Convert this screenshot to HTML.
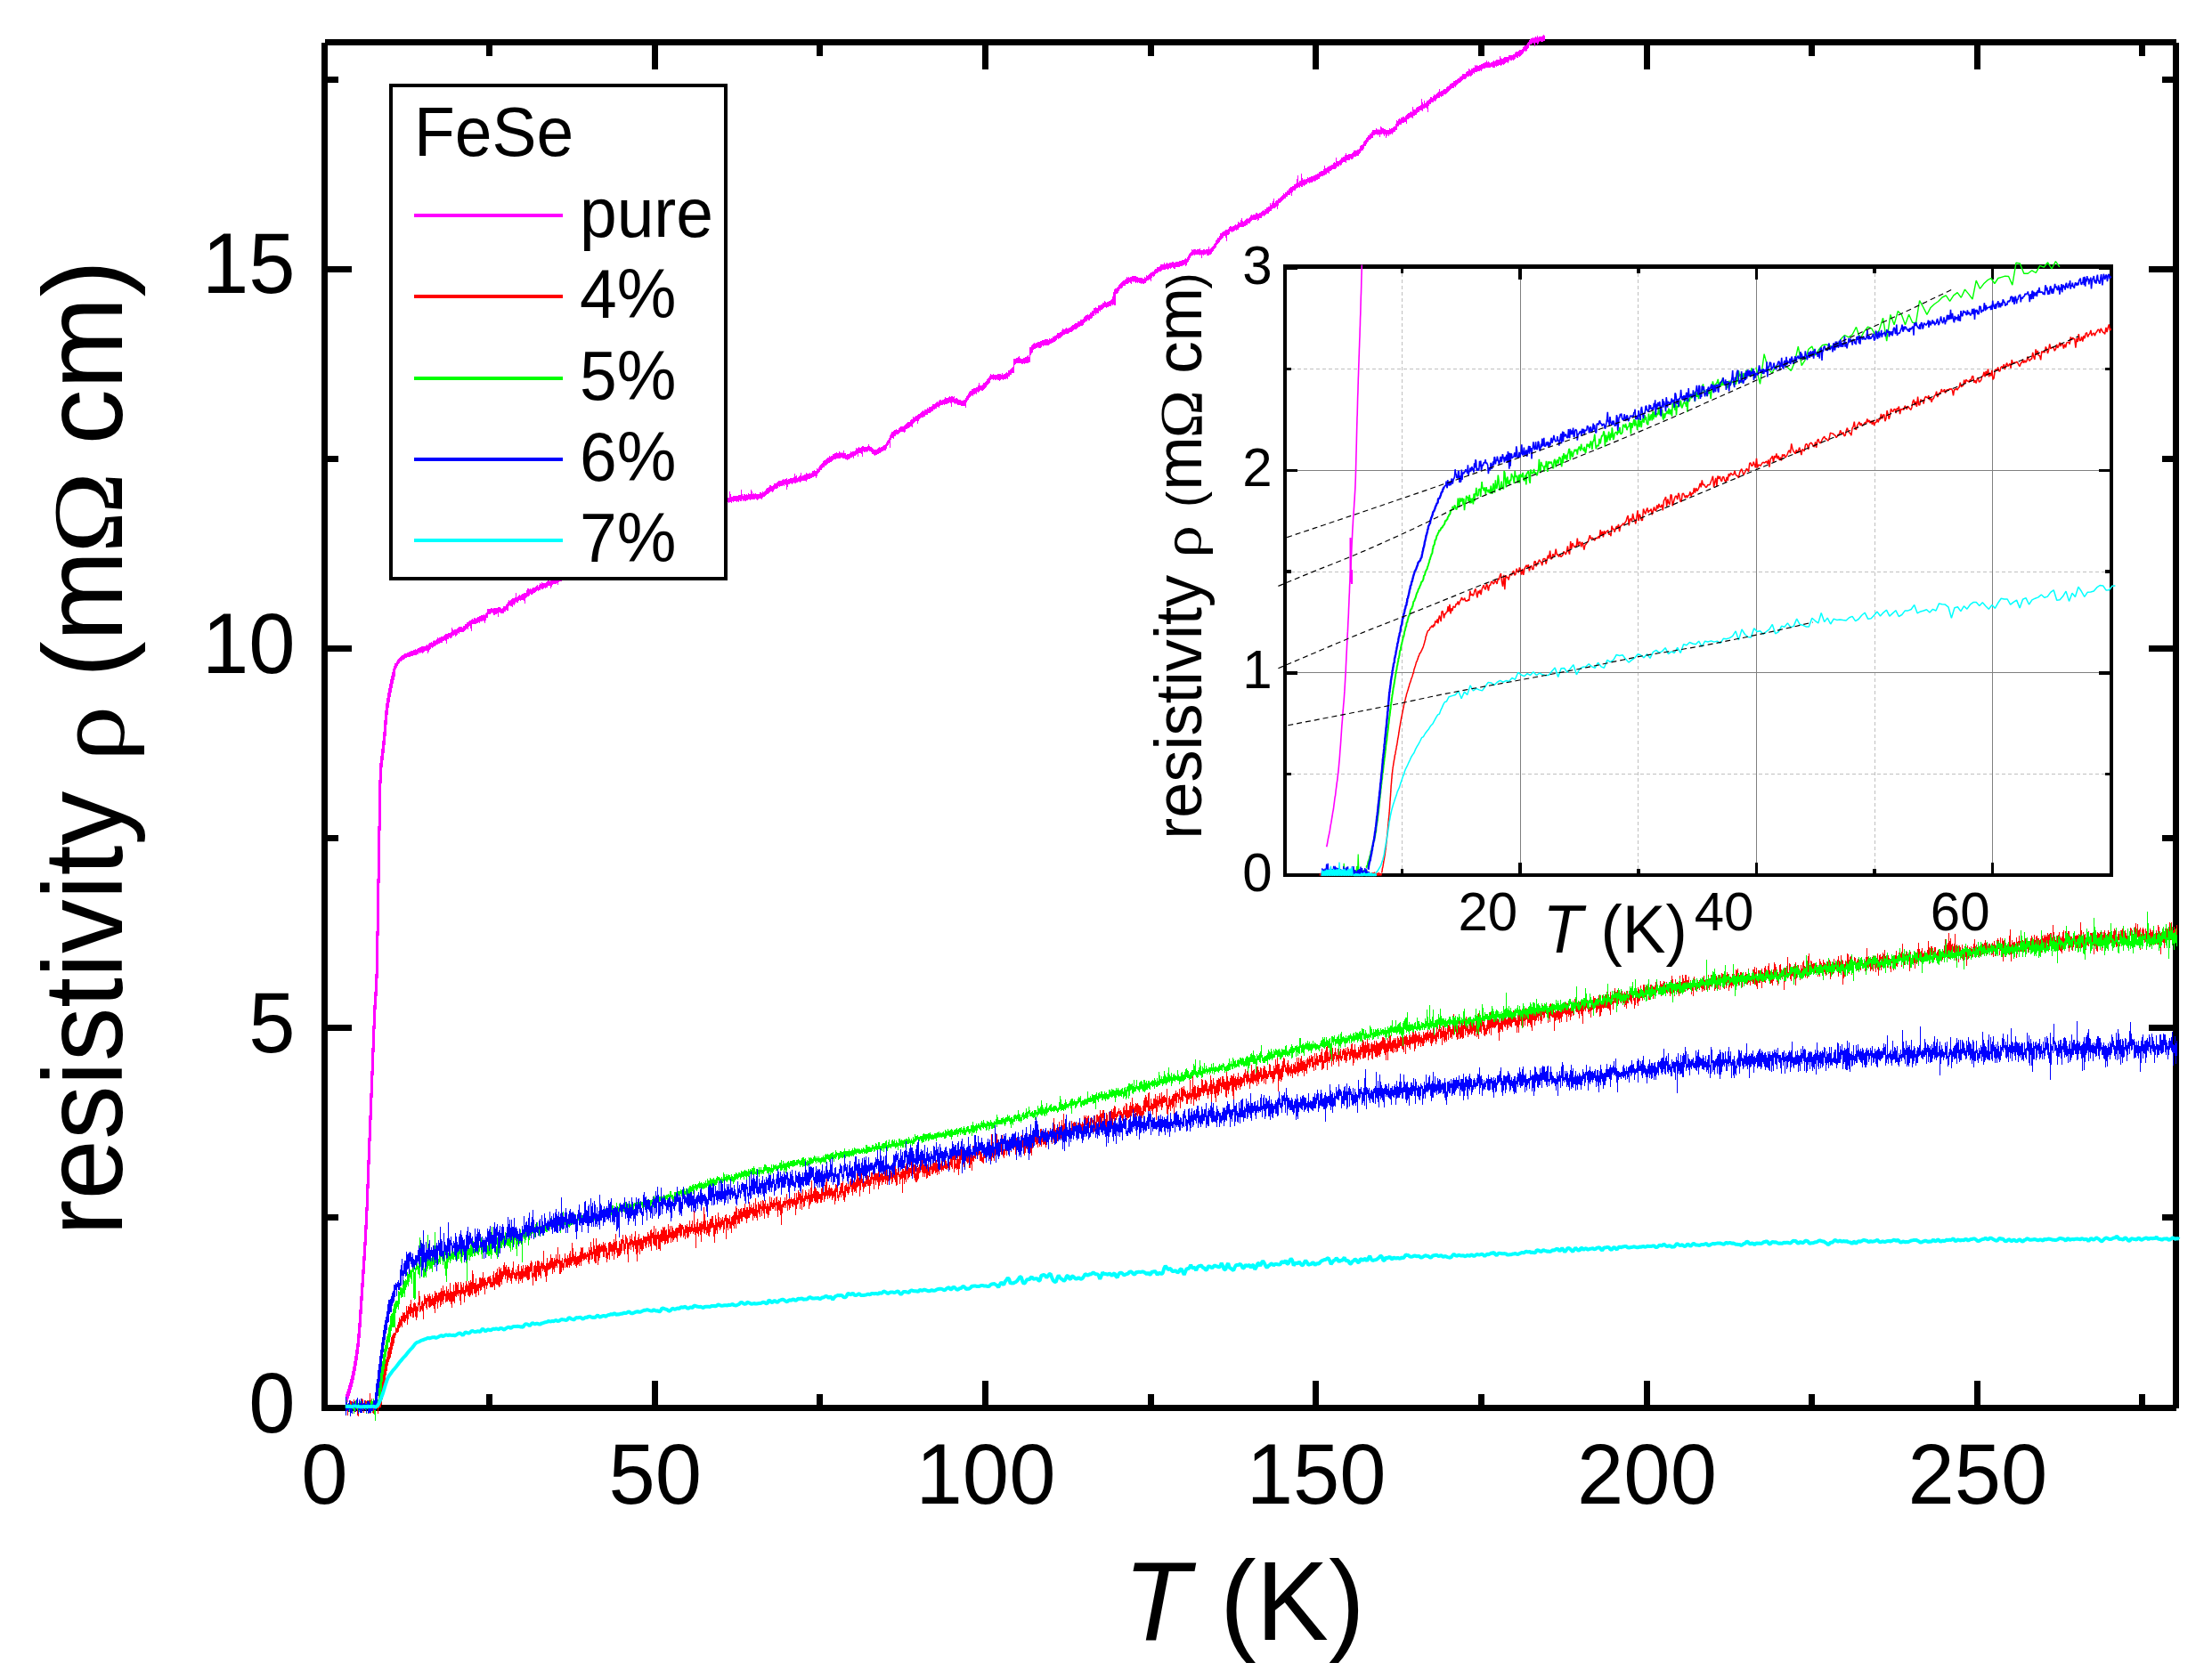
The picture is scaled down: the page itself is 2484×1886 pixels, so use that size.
<!DOCTYPE html>
<html lang="en"><head><meta charset="utf-8"><title>FeSe resistivity</title>
<style>html,body{margin:0;padding:0;background:#fff}svg{display:block}text{font-family:'Liberation Sans', Arial, Helvetica, sans-serif;fill:#000}</style></head>
<body>
<svg width="2484" height="1886" viewBox="0 0 2484 1886">
<rect x="0" y="0" width="2484" height="1886" fill="#fff"/>
<g id="main-axes" stroke="#000" stroke-width="7" fill="none" shape-rendering="crispEdges">
<path d="M364.5 47.5 H2443.5"/><path d="M361 1581.5 H2443.5"/><path d="M364.5 47.5 V1581.5"/><path d="M2443.5 47.5 V1581.5"/>
<path d="M549.6 1581.5 v-15.5M549.6 47.5 v15.5M735.2 1581.5 v-30.5M735.2 47.5 v30.5M920.9 1581.5 v-15.5M920.9 47.5 v15.5M1106.5 1581.5 v-30.5M1106.5 47.5 v30.5M1292.1 1581.5 v-15.5M1292.1 47.5 v15.5M1477.8 1581.5 v-30.5M1477.8 47.5 v30.5M1663.4 1581.5 v-15.5M1663.4 47.5 v15.5M1849 1581.5 v-30.5M1849 47.5 v30.5M2034.6 1581.5 v-15.5M2034.6 47.5 v15.5M2220.2 1581.5 v-30.5M2220.2 47.5 v30.5M2405.9 1581.5 v-15.5M2405.9 47.5 v15.5M364.5 1367.9 h15.5M2443.5 1367.9 h-15.5M364.5 1154.9 h30.5M2443.5 1154.9 h-30.5M364.5 941.8 h15.5M2443.5 941.8 h-15.5M364.5 728.8 h30.5M2443.5 728.8 h-30.5M364.5 515.7 h15.5M2443.5 515.7 h-15.5M364.5 302.7 h30.5M2443.5 302.7 h-30.5M364.5 89.6 h15.5M2443.5 89.6 h-15.5"/>
</g>
<g id="main-ticklabels">
<text transform="translate(364.5 1688.5) scale(0.9709 1)" font-size="96.8" text-anchor="middle">0</text><text transform="translate(735.8 1688.5) scale(0.9709 1)" font-size="96.8" text-anchor="middle">50</text><text transform="translate(1107 1688.5) scale(0.9709 1)" font-size="96.8" text-anchor="middle">100</text><text transform="translate(1478.2 1688.5) scale(0.9709 1)" font-size="96.8" text-anchor="middle">150</text><text transform="translate(1849.5 1688.5) scale(0.9709 1)" font-size="96.8" text-anchor="middle">200</text><text transform="translate(2220.8 1688.5) scale(0.9709 1)" font-size="96.8" text-anchor="middle">250</text>
<text transform="translate(331.5 1609) scale(0.9709 1)" font-size="96.8" text-anchor="end">0</text><text transform="translate(331.5 1182.2) scale(0.9709 1)" font-size="96.8" text-anchor="end">5</text><text transform="translate(331.5 755.5) scale(0.9709 1)" font-size="96.8" text-anchor="end">10</text><text transform="translate(331.5 328.7) scale(0.9709 1)" font-size="96.8" text-anchor="end">15</text>
</g>
<g id="main-titles">
<text transform="translate(1397 1842) scale(0.9709 1)" font-size="125.7" text-anchor="middle"><tspan font-style="italic">T</tspan> (K)</text>
<text transform="translate(137 1388) rotate(-90) scale(0.9660 1)" font-size="125.7">resistivity</text>
<text transform="translate(138.5 855.8) rotate(-90) scale(1.1500 1)" font-size="110" style="font-family:'Liberation Serif', 'DejaVu Serif', serif">ρ</text>
<text transform="translate(137 761) rotate(-90) scale(0.9709 1)" font-size="125.7">(m</text>
<text transform="translate(137 621.6) rotate(-90) scale(1.0900 1)" font-size="113" style="font-family:'Liberation Serif', 'DejaVu Serif', serif">Ω</text>
<text transform="translate(137 499.5) rotate(-90) scale(0.9903 1)" font-size="125.7">cm)</text>
</g>
<g id="main-curves">
<g shape-rendering="crispEdges" stroke="none">
<path fill="#f0f" d="M388 1566h1v-3h1v-3h1v-4h1v-3h1v-4h1v-4h1v-5h1v-5h1v-6h1v-6h1v-7h1v-7h1v-11h1v-12h1v-15h1v-15h1v-15h1v-15h1v-15h1v-16h1v-19h1v-20h1v-26h1v-27h1v-25h1v-25h1v-25h1v-25h1v-26h1v-25h1v-23h1v-15h1v-20h1v-48h1v-59h1v-59h1v-52h1v-19h1v-8h1v-8h1v-9h1v-10h1v-13h1v-11h1v-8h1v-6h1v-6h1v-5h1v-5h1v-5h1v-4h1v-4h1v-4h1v-3h1v-3h2v-2h1v-2h1v-1h1v-1h1v-1h1v-1h1v-1h2v-1h1v-1h3v-1h2v-1h2v-1h3v-1h2v-1h1v1h1v-1h1v-1h2v-1h2v-1h5v-1h1v-1h1v1h1v-2h1v-1h2v-1h1v1h1v-2h1v-1h1v1h1v-1h1v-1h1v-2h1v1h1v-1h2v-1h3v-1h1v-1h1v-1h3v-1h3v-1h1v-5h1v2h1v1h1v-1h3v-1h1v-1h1v-1h4v1h1v-2h2v-2h2v-2h2v-1h1v-1h2v-1h1v-1h1v1h1v-2h2v1h1v-1h1v-1h2v-1h2v-1h3v-1h1v1h1v-2h1v-1h1v-4h4v-1h2v1h1v-1h5v-1h3v1h1v1h1v-1h1v-2h3v-2h1v-1h1v-2h1v-2h1v1h1v-1h1v-1h1v-1h3v-1h1v-5h1v5h1v-1h1v-1h1v-1h1v1h1v-1h1v-1h2v-1h3v-3h1v-2h2v1h1v-1h1v1h1v-1h1v-1h3v-1h1v-1h1v-1h1v2h1v-2h1v-2h1v1h1v-2h1v1h4v-1h1v-1h1v-1h2v1h1v-1h1v-2h1v1h1v-1h1v-1h2v-1h2v1h1v-1h2v-2h3v-1h2v-6h1v3h1v1h3v-2h1v-1h1v1h1v-1h1v-1h1v1h1v-1h1v-2h1v1h2v-2h2v-1h1v1h2v-2h1v-1h2v-1h3v-2h1v-3h1v3h3v-2h1v1h1v-2h3v-1h2v-2h1v1h1v-2h1v1h1v-1h1v1h1v-3h1v1h1v-3h1v1h1v-3h1v4h1v-1h1v-1h1v-1h3v-1h1v-2h1v1h1v-2h1v1h3v-1h1v-1h3v-2h2v1h1v-6h1v3h2v1h1v-2h3v-2h2v2h1v-5h1v1h3v-1h1v2h1v-1h1v-1h2v-2h2v1h1v-1h2v-1h1v-1h1v-1h1v1h1v-1h2v-4h1v2h1v-1h1v1h2v-1h1v-2h1v-2h1v2h1v-1h1v-8h1v4h1v-2h1v5h1v-1h1v-3h1v3h1v-1h2v-1h2v-2h1v-3h1v3h2v-2h2v-5h1v5h5v-1h1v-1h2v-1h1v-1h1v-1h1v1h1v-7h1v6h1v-2h1v-1h1v1h1v-1h1v-1h3v-1h1v-2h3v-1h3v-1h3v-1h1v-1h1v-1h1v-1h1v-1h1v1h1v-2h1v1h2v-1h5v-1h1v-1h1v1h1v-1h1v-1h1v-1h2v-1h2v1h1v-2h1v1h2v-7h1v3h1v3h2v-1h6v-1h3v-6h1v5h1v2h1v-2h2v1h1v-1h1v1h1v-2h1v1h2v-5h1v2h1v3h1v-1h1v1h1v-1h1v1h4v-2h2v1h1v-2h1v1h1v-1h1v-1h1v-2h1v-1h2v-1h1v-2h2v1h2v-1h1v-2h3v-1h1v-1h1v-1h4v-1h1v-1h1v1h1v-1h2v-1h1v2h1v-1h2v-1h4v-1h1v-4h1v3h1v-1h1v3h1v-1h1v-1h1v-1h1v-3h1v4h1v-1h2v-1h2v-2h1v1h3v-1h1v1h1v-1h1v-2h2v-1h1v1h2v-3h1v1h1v-2h1v-2h1v-1h1v-1h1v-1h1v-2h1v-1h2v-1h1v-1h1v-1h2v-2h1v1h1v-1h2v-2h2v-1h2v-1h1v1h2v-2h1v1h1v1h1v-1h1v1h1v-3h1v3h2v2h1v-1h3v-1h1v-2h1v1h1v-1h3v-1h1v-3h1v1h1v-1h1v-1h1v1h2v-1h1v-1h2v1h4v-1h1v-2h1v2h1v1h2v1h1v1h1v1h4v-1h1v-1h1v-1h1v1h1v-1h2v-1h1v-1h2v-1h1v-2h1v-2h1v-1h1v-2h1v-3h1v-2h1v-2h2v-1h1v-1h2v-1h1v1h2v-2h1v-1h1v-1h4v-1h1v-1h1v-1h1v-1h1v-1h3v-2h1v-1h2v-3h1v1h1v-1h1v-1h2v-1h1v-1h2v-1h1v-1h1v-1h1v-1h1v1h1v-2h3v-2h1v1h1v-2h3v-1h1v-2h3v-1h1v-1h1v-1h1v1h1v-2h1v-1h2v1h1v-1h2v-1h1v-2h1v1h3v-1h1v-1h1v1h1v-1h2v1h1v-1h1v3h1v-1h2v1h1v1h3v1h3v-1h2v-2h1v-2h1v-1h1v-2h1v-2h1v-1h2v-2h2v-1h3v-1h2v-2h1v-3h1v3h3v-1h1v-2h2v-1h1v-1h1v-2h1v-1h1v-1h1v-2h1v-2h1v1h2v-1h1v1h4v-1h4v1h1v-2h1v2h1v-1h2v-1h1v-1h1v1h1v-3h2v-1h1v-1h1v-1h1v-1h1v-9h3v-1h2v-1h1v-1h1v2h1v1h3v-1h2v-1h2v-1h1v-1h1v2h1v-11h2v-2h1v-1h1v-1h1v-1h1v1h1v-1h2v-1h3v-1h2v-1h3v-1h4v1h1v-2h1v1h1v-1h2v-2h2v-1h2v-1h1v-2h3v-1h2v-2h1v-2h1v1h2v-1h1v-1h1v1h2v-1h2v-1h1v-1h1v-1h2v-1h1v-1h3v-2h3v-2h3v-1h1v-2h1v-1h1v-1h2v-1h1v1h1v-1h1v-2h2v-2h2v-3h2v-1h1v1h2v-3h3v-1h2v-2h2v-2h1v1h1v1h1v-1h2v-1h2v-1h1v-1h1v-3h1v-5h1v-3h1v-1h2v-1h1v-1h1v-2h1v-1h1v-1h1v-1h1v-1h1v-1h2v-1h1v-1h1v-2h1v1h1v-1h1v1h1v-1h2v-1h5v1h2v1h5v1h2v-2h1v1h1v-3h1v1h1v-1h1v-1h1v-1h1v-1h2v-1h2v-2h1v-1h2v-2h3v-1h1v-2h4v-2h1v2h1v-1h1v-1h1v1h2v-1h3v-1h2v1h2v-1h4v-1h3v-1h3v-1h1v-1h1v1h1v-2h1v-2h1v-2h1v-1h1v-1h1v-3h1v1h1v-1h3v1h1v-1h3v-1h1v2h3v-1h2v1h1v-1h3v-3h1v3h1v-1h1v-1h1v-1h1v-1h1v-2h1v-1h1v-3h1v-1h1v-2h2v-2h1v-3h2v-1h1v-1h2v-1h1v-1h3v-1h1v-2h1v-1h2v1h1v-1h2v-1h1v-1h1v1h1v-1h1v-3h1v1h2v-3h1v-2h1v3h1v1h1v-1h1v-1h1v-1h1v-1h1v1h1v-1h1v-1h1v-2h1v-1h1v1h1v-1h3v-2h2v1h2v-1h2v-1h1v-1h1v-1h1v1h1v-2h2v-2h2v-1h2v-4h1v2h1v-2h1v-2h1v-3h1v5h1v-2h1v-1h2v-2h2v-1h1v-1h1v-1h1v-1h1v-2h1v1h1v-2h2v-2h2v-2h1v-1h1v-1h2v-1h2v-2h2v-1h1v-5h1v-4h1v8h1v-2h2v-8h1v5h1v2h1v-1h1v1h1v-1h2v-2h1v1h1v-1h2v-1h3v-1h2v-1h2v-1h2v-2h2v-1h3v-2h1v-4h1v3h2v-1h1v-1h2v-1h2v-1h2v-2h1v-1h1v1h1v-6h1v4h3v-1h1v-1h1v-2h2v-1h2v-2h1v-2h1v2h2v-1h4v-1h1v-1h1v-2h4v-1h2v-1h1v-3h1v-1h2v-1h1v-3h1v-1h1v-1h1v-2h1v-1h1v-2h2v-2h2v-2h1v-2h4v-2h1v1h1v1h1v-1h1v1h1v-4h1v1h1v1h2v1h2v1h4v-2h1v1h1v-1h2v-1h1v-1h2v-3h1v-4h1v1h1v-2h1v-1h1v1h1v-2h2v-1h2v1h1v-2h1v-1h1v-1h1v-1h2v-1h1v-1h1v1h1v-6h1v3h3v-2h1v-1h2v-1h2v-1h1v-7h1v4h1v2h1v-4h1v3h1v-1h1v-2h2v-1h1v-1h1v-2h2v1h1v-2h1v-2h1v1h1v-1h1v-1h1v-1h1v-1h1v-3h1v3h1v-1h2v-1h1v-1h3v-2h1v-1h2v-1h1v-2h2v-1h2v-2h2v-1h2v-1h1v-1h2v-2h2v-1h1v-2h4v-2h1v-1h2v-3h1v1h1v1h1v-2h2v-1h2v-3h1v1h1v-1h1v1h2v-1h2v-1h2v-1h2v-1h2v-2h1v2h1v-1h1v1h1v1h1v-1h2v-1h1v-1h1v1h1v-1h1v-1h4v-4h1v2h1v1h2v-1h1v-1h5v-2h5v-1h2v-2h1v-1h3v-1h1v-1h3v-1h1v-2h1v-1h1v-1h2v-1h1v-2h1v-1h1v-2h1v-1h1v-1h2v-1h1v1h1v-1h1v-1h1v1h1v-2h1v2h1v-1h4v-1h1v-1h1v1h1v6h-2v1h-3v-1h-1v1h-1v2h-1v1h-1v-2h-2v4h-1v-3h-1v-1h-1v1h-1v1h-2v1h-1v3h-1v1h-1v2h-1v1h-1v-1h-1v1h-1v2h-1v1h-1v1h-1v1h-1v1h-1v-1h-1v2h-2v-1h-1v2h-1v1h-1v1h-1v-1h-1v1h-2v-1h-1v2h-1v2h-1v-1h-2v1h-1v1h-1v1h-1v-1h-1v1h-1v1h-1v-1h-2v1h-2v1h-1v-1h-1v2h-3v-1h-2v1h-6v1h-3v1h-1v2h-1v-1h-1v1h-3v1h-3v2h-1v-1h-1v2h-1v1h-1v1h-1v-1h-1v1h-3v2h-1v1h-3v1h-1v1h-1v1h-1v1h-2v1h-1v1h-1v1h-1v2h-1v-1h-1v2h-3v1h-1v1h-1v1h-1v1h-1v1h-1v1h-1v1h-3v2h-2v1h-1v-1h-1v2h-3v1h-1v2h-1v1h-1v-1h-1v2h-3v2h-2v2h-1v7h-1v-4h-1v-1h-2v1h-2v3h-1v-1h-3v2h-2v1h-1v2h-2v1h-2v3h-1v-1h-3v1h-1v1h-2v5h-1v-2h-2v1h-3v2h-3v2h-2v4h-2v2h-2v1h-1v2h-1v-1h-1v1h-2v2h-1v-2h-1v2h-1v2h-1v-4h-1v2h-1v-2h-1v-1h-1v1h-2v3h-1v-3h-1v1h-1v-1h-3v1h-2v3h-2v1h-1v1h-2v2h-1v1h-1v2h-1v2h-2v3h-1v2h-2v1h-1v2h-1v1h-1v2h-3v1h-3v2h-1v1h-2v-1h-1v2h-4v3h-1v-1h-3v1h-1v2h-1v1h-1v-1h-1v2h-3v2h-1v1h-4v1h-1v1h-2v3h-1v-1h-2v2h-2v1h-2v1h-3v1h-1v2h-2v1h-2v1h-1v1h-1v-1h-1v1h-1v1h-3v1h-1v-1h-2v2h-2v1h-1v1h-1v-1h-1v2h-2v-1h-1v2h-1v-1h-1v1h-2v1h-1v2h-3v2h-1v4h-1v-3h-1v2h-3v2h-2v2h-2v1h-1v1h-1v1h-1v1h-1v1h-2v3h-1v4h-1v-3h-1v1h-1v1h-3v1h-1v2h-2v1h-1v2h-3v1h-1v1h-1v1h-1v-1h-1v1h-1v2h-3v2h-1v1h-1v-2h-1v1h-5v1h-1v1h-1v2h-3v2h-2v1h-2v1h-5v1h-1v2h-2v1h-1v-1h-1v1h-1v1h-2v1h-1v-1h-2v3h-1v1h-2v7h-1v-4h-1v-2h-2v2h-1v1h-1v1h-1v1h-1v2h-1v1h-1v1h-1v1h-1v3h-1v1h-1v1h-1v2h-1v1h-1v2h-1v1h-2v1h-3v-2h-1v1h-2v1h-1v-1h-1v4h-1v-4h-1v1h-1v-1h-5v1h-1v-1h-1v1h-2v1h-1v2h-1v2h-1v2h-1v1h-1v3h-1v1h-1v-2h-1v1h-2v1h-3v1h-5v2h-2v-1h-1v-1h-1v1h-1v1h-1v-1h-1v1h-1v1h-1v-1h-2v1h-4v1h-1v1h-3v1h-1v1h-2v1h-1v2h-1v1h-1v-1h-1v2h-1v4h-1v-2h-2v1h-2v1h-1v2h-2v1h-2v-1h-1v1h-1v-1h-2v-1h-1v1h-1v-1h-1v1h-1v-1h-1v-1h-1v1h-1v-1h-1v3h-1v-1h-1v-1h-1v1h-1v1h-3v2h-3v2h-1v1h-2v1h-1v2h-1v2h-1v1h-2v13h-2v-1h-1v1h-1v-1h-1v2h-3v1h-2v1h-1v-1h-2v1h-1v1h-1v1h-2v2h-1v-1h-1v3h-3v2h-1v-2h-1v3h-2v2h-1v1h-2v2h-2v-1h-1v2h-2v1h-1v1h-1v2h-1v1h-3v1h-2v1h-1v1h-1v1h-3v1h-1v1h-1v1h-3v1h-1v1h-4v1h-2v1h-1v1h-1v1h-1v1h-2v1h-1v-1h-1v2h-1v1h-1v1h-2v1h-2v1h-2v1h-1v1h-6v1h-1v-1h-1v2h-1v1h-3v-1h-1v1h-2v1h-2v1h-1v3h-1v1h-1v2h-1v8h-2v1h-4v1h-1v-1h-1v1h-2v-1h-6v1h-1v1h-1v9h-3v2h-2v2h-2v3h-1v-1h-1v1h-3v1h-1v-1h-2v1h-1v1h-1v-1h-2v-1h-1v1h-2v-1h-1v1h-1v-1h-2v1h-1v3h-1v1h-1v1h-1v1h-1v2h-1v1h-1v1h-1v1h-1v1h-2v-1h-1v1h-1v1h-1v1h-1v-1h-1v3h-1v-1h-1v1h-2v2h-1v-1h-1v1h-1v1h-1v1h-1v2h-1v1h-1v2h-1v6h-1v-2h-5v-1h-4v-1h-1v-1h-1v1h-1v-1h-1v-1h-2v5h-1v-4h-1v-1h-1v1h-2v1h-3v1h-1v-1h-1v1h-3v1h-1v2h-1v-1h-2v2h-2v1h-2v2h-2v1h-1v1h-3v2h-3v2h-2v1h-3v1h-1v1h-1v2h-1v3h-1v-3h-2v1h-1v1h-1v1h-1v4h-1v-1h-2v1h-1v1h-2v1h-2v3h-1v1h-1v-1h-4v1h-1v1h-1v1h-3v2h-2v3h-1v-1h-2v2h-1v9h-1v-5h-1v2h-1v1h-1v3h-1v2h-3v1h-2v1h-1v1h-2v1h-2v1h-2v1h-1v-1h-1v-1h-2v-2h-1v-1h-2v-1h-1v1h-1v1h-1v-1h-1v1h-2v-1h-1v6h-1v-3h-1v-1h-3v4h-1v-3h-1v1h-1v1h-2v3h-1v-2h-1v1h-2v1h-1v1h-2v1h-1v-1h-2v-1h-3v-1h-2v1h-5v1h-3v1h-1v1h-1v1h-2v1h-2v1h-1v1h-1v1h-2v2h-2v1h-1v2h-2v2h-1v1h-1v1h-1v3h-1v2h-1v-2h-2v1h-2v1h-2v1h-3v1h-1v2h-1v-1h-5v1h-1v1h-1v-1h-2v1h-2v1h-2v-1h-1v1h-1v1h-1v-1h-2v1h-2v3h-1v3h-1v-5h-1v-1h-1v2h-1v-1h-1v1h-3v1h-1v-1h-1v2h-1v1h-3v1h-1v2h-1v1h-1v-1h-2v1h-1v1h-1v1h-2v1h-1v1h-1v1h-2v1h-1v2h-1v-1h-3v1h-1v1h-1v-1h-1v-1h-1v1h-5v1h-1v-1h-2v1h-2v1h-2v-1h-1v1h-1v-2h-1v2h-2v-1h-1v2h-1v-1h-1v1h-1v-1h-3v1h-1v-1h-1v2h-1v-1h-2v1h-1v-1h-1v1h-1v2h-3v-1h-1v1h-1v1h-1v1h-2v-1h-1v2h-5v1h-2v1h-4v4h-1v-3h-1v1h-1v2h-4v1h-3v2h-1v-1h-1v2h-2v1h-2v1h-2v1h-1v-1h-1v2h-1v1h-1v2h-1v-1h-2v1h-3v1h-1v5h-1v-2h-1v-1h-5v1h-1v2h-3v-1h-1v1h-1v2h-1v-1h-1v1h-1v2h-1v-1h-2v1h-1v1h-1v1h-1v-2h-1v1h-1v1h-3v2h-2v1h-4v1h-1v1h-1v-1h-1v1h-1v2h-1v-1h-1v1h-2v2h-3v1h-1v1h-4v1h-1v-1h-1v2h-1v4h-1v-2h-2v-1h-2v1h-1v1h-2v1h-3v1h-1v1h-1v-1h-1v1h-1v1h-1v1h-1v-1h-2v2h-2v1h-2v1h-3v1h-2v1h-2v1h-1v2h-1v-1h-1v1h-2v1h-3v1h-1v1h-1v-1h-1v1h-2v1h-2v2h-1v-1h-1v1h-1v3h-1v-2h-2v2h-1v1h-1v-1h-4v1h-2v2h-1v1h-1v3h-1v4h-1v-6h-1v1h-3v1h-2v1h-1v1h-2v1h-2v1h-3v1h-2v2h-1v-1h-1v1h-3v2h-3v1h-1v3h-1v-2h-1v1h-4v1h-1v2h-1v2h-1v-3h-3v2h-2v1h-1v-1h-1v1h-1v1h-2v-1h-1v2h-2v1h-1v-1h-1v1h-1v1h-1v1h-2v1h-1v1h-2v-1h-1v2h-1v1h-2v1h-1v1h-1v6h-1v-3h-1v-1h-3v1h-1v-1h-1v1h-1v2h-2v-1h-1v2h-1v2h-1v-1h-1v3h-1v-1h-2v-1h-1v1h-1v5h-2v-1h-1v2h-2v2h-4v-1h-2v5h-1v-4h-1v1h-2v1h-2v-2h-1v-1h-1v1h-1v1h-3v4h-2v3h-1v3h-1v-2h-1v-1h-1v1h-3v2h-1v-1h-1v1h-2v1h-5v8h-1v-3h-1v-3h-1v1h-1v3h-1v-1h-1v1h-1v1h-1v1h-1v1h-5v2h-1v-1h-1v2h-1v1h-1v1h-1v-2h-1v1h-2v2h-1v1h-2v-1h-1v2h-2v5h-1v-3h-1v-1h-1v1h-2v2h-3v1h-2v1h-2v1h-1v1h-2v1h-1v1h-1v-1h-1v2h-1v1h-1v2h-1v2h-1v-3h-3v1h-1v1h-1v1h-1v-1h-2v1h-1v-1h-1v2h-2v1h-4v1h-3v1h-4v1h-2v1h-1v1h-2v1h-1v1h-2v2h-1v1h-1v2h-1v2h-1v2h-1v8h-1v4h-1v4h-1v5h-1v5h-1v5h-1v6h-1v6h-1v8h-1v11h-1v13h-1v10h-1v9h-1v8h-1v8h-1v18h-1v53h-1v59h-1v59h-1v48h-1v20h-1v15h-1v22h-1v26h-1v26h-1v25h-1v25h-1v24h-1v26h-1v27h-1v25h-1v21h-1v18h-1v17h-1v15h-1v15h-1v15h-1v15h-1v15h-1v12h-1v10h-1v8h-1v7h-1v6h-1v6h-1v5h-1v5h-1v4h-1v4h-1v3h-1v4h-1v3h-1v3h-1v4h-1v4h-2z"/>
<path fill="#f00" d="M388 1575h1v-1h1v3h1v-1h1v2h1v-5h1v1h1v1h2v-3h1v4h1v2h1v-3h1v-1h1v2h1v1h1v3h1v-7h1v-2h1v1h1v7h1v-5h1v-1h1v1h1v-1h3v-8h1v8h1v-2h1v5h1v-2h1v2h1v1h2v-3h1v-2h1v3h2v-12h1v-8h1v-7h1v-6h1v-6h1v-5h1v-4h1v-3h1v-6h1v-4h1v-1h1v-5h1v-6h1v-2h1v-2h1v-1h2v-6h1v1h1v-4h1v-3h1v-5h1v2h1v-4h2v-4h1v1h1v-1h1v3h1v-10h1v5h1v-5h1v1h1v-3h1v-5h1v8h1v1h1v-5h1v-1h1v1h1v3h1v1h1v-5h1v-13h1v6h1v11h1v-5h1v-1h1v3h1v-10h1v2h1v2h2v-4h1v2h1v-3h1v3h1v3h1v-5h1v4h1v-2h1v-6h1v2h2v3h1v-3h2v-1h1v-4h1v3h1v-6h1v6h1v-1h1v4h1v-8h1v5h1v-2h1v4h1v-11h1v9h1v1h2v-8h1v7h1v-10h1v1h1v2h1v-3h1v9h2v-9h1v3h1v3h1v-5h1v8h1v-5h1v-5h1v3h1v2h1v-5h1v2h1v-3h1v2h1v-13h1v4h1v10h2v-5h1v7h1v-1h2v-7h2v1h1v-1h1v-6h1v7h1v-1h1v3h1v2h1v-5h1v-1h2v-1h1v3h1v4h1v-8h1v-4h1v7h1v-5h1v-1h1v-4h1v7h1v-9h1v3h1v-2h1v4h2v-7h1v-3h1v5h1v-2h1v5h1v-3h2v3h1v4h1v-3h1v-3h1v-7h1v12h1v1h1v-4h1v3h1v-7h1v-2h1v8h2v-6h1v3h1v-4h1v7h1v-4h1v-3h1v2h1v-2h1v1h1v1h1v-4h1v-3h1v2h1v12h1v-8h1v-1h1v-4h1v5h1v-6h2v1h1v5h1v-3h1v-2h1v2h1v-14h1v16h1v1h1v-3h1v-6h1v6h1v-1h1v-2h1v-7h1v4h2v4h1v-4h1v2h1v-6h1v5h1v-13h1v14h1v-6h1v7h2v-3h1v6h1v-5h1v-6h1v5h1v1h1v-4h1v3h1v-5h1v-3h1v7h1v-16h1v6h1v7h1v2h1v-5h1v6h1v-1h2v-1h1v-4h1v-5h1v1h1v-1h1v7h1v-1h2v2h1v-3h1v2h1v-7h1v3h1v-9h1v6h1v5h1v-15h1v8h1v4h1v-12h1v8h2v-1h1v-1h1v3h1v-2h1v1h1v-4h1v3h1v-2h1v4h1v2h1v5h1v-11h1v-1h2v2h1v1h1v-2h1v-4h1v3h1v-9h1v8h1v8h2v-8h1v3h1v-5h2v-5h1v6h1v4h1v-10h1v2h1v2h1v5h1v-1h1v-7h1v4h1v-6h1v7h1v1h1v-5h1v-6h1v10h2v-3h1v-4h1v6h1v-1h2v2h1v-5h1v1h4v-5h1v2h1v2h1v-6h1v-1h1v4h1v-1h1v-7h1v10h1v-7h1v7h1v-3h1v-1h1v4h1v-1h1v-5h1v1h1v-4h1v1h1v-1h1v4h1v-1h1v6h1v-12h1v6h1v-4h1v7h1v-7h1v2h1v3h1v1h1v-3h1v-1h3v-3h1v-2h1v1h1v1h2v2h1v3h1v-5h1v1h1v-2h1v3h2v-7h1v7h1v-3h1v-4h1v8h1v-19h1v15h1v3h1v-5h1v-4h1v9h1v-4h2v-2h1v3h1v-3h1v-16h1v8h1v7h1v7h1v-7h1v4h1v-2h1v-4h2v-3h2v8h1v2h1v-11h1v4h1v4h1v-11h1v5h1v5h1v-4h1v2h1v-3h1v4h1v-3h1v-3h1v-1h1v4h2v1h1v-4h1v7h1v-5h1v-1h1v-1h1v-4h2v-6h1v2h1v8h1v-7h1v2h1v-2h1v-1h1v4h1v-4h2v-5h1v7h1v-3h2v3h1v-9h1v6h1v-3h1v4h1v-1h1v-5h1v7h1v-12h1v7h1v6h1v-9h1v2h1v1h1v-4h1v6h1v-7h1v1h1v3h1v-4h1v7h1v-3h2v3h1v-11h1v6h1v-5h1v6h1v-3h1v-2h1v5h1v-6h1v-1h1v6h1v-2h1v1h1v-4h1v8h1v-1h1v-3h2v-4h1v4h1v-8h1v7h1v-1h1v-3h1v3h1v-2h1v2h2v-1h1v-6h1v8h1v-8h1v5h1v-8h1v2h1v2h1v-4h1v6h1v-7h1v10h1v-3h1v-6h1v2h1v4h1v-3h1v-4h1v6h1v-8h1v-8h1v15h1v-3h1v-3h1v-2h1v2h1v3h2v1h1v2h2v-6h1v-5h1v4h1v5h1v-8h1v-3h1v-7h1v16h1v-3h1v-3h1v4h1v-1h1v1h1v3h1v-1h1v-2h1v-5h1v1h1v1h1v10h1v-4h1v-5h1v-4h2v-3h1v12h1v-6h1v-1h1v-2h1v4h1v-3h1v3h1v-6h1v-3h1v6h1v-10h1v6h1v1h1v1h1v-3h1v-9h1v4h1v3h2v1h1v-7h1v7h1v2h1v1h2v-8h1v-3h1v4h1v1h1v4h1v-3h1v-5h2v5h1v-3h1v-1h4v-3h1v4h2v-2h1v1h2v3h1v-7h3v4h1v2h1v-1h1v1h1v-5h1v2h1v3h1v-2h2v-11h1v6h1v4h1v-5h1v3h1v4h1v-3h2v-4h1v1h1v2h1v-5h1v-3h1v-14h1v14h1v4h1v1h2v-8h1v12h1v-9h1v1h2v10h1v-8h1v2h1v-1h1v-3h1v2h1v-8h1v-1h1v6h1v1h1v-5h1v1h1v2h1v2h1v1h1v2h1v-5h1v-2h1v6h1v-6h1v1h1v1h2v-3h1v4h1v-3h1v6h1v-2h1v-1h1v-5h2v7h1v-7h1v1h1v1h1v3h1v-6h1v-1h1v5h1v-5h1v2h1v-5h1v-3h1v4h1v-3h1v12h1v-5h1v-8h1v8h1v-9h1v4h1v-6h1v4h2v9h1v-12h1v1h1v2h1v-2h1v2h1v5h1v-6h1v-2h1v8h1v-13h1v11h1v-8h1v1h1v-8h1v6h1v1h1v-1h1v4h1v1h1v2h1v4h1v-5h1v-4h1v1h1v-2h2v-3h1v-2h1v3h1v6h1v-20h1v16h1v-7h1v6h1v-5h1v6h1v-16h1v6h1v9h1v-3h1v-3h1v-4h1v-4h1v14h1v2h1v-4h1v-13h1v9h1v-2h2v4h1v-5h1v1h1v-3h2v1h1v-2h1v2h1v-1h1v1h1v2h1v-2h1v2h1v-5h1v-1h1v5h2v-3h1v5h1v-5h3v-1h1v-2h1v12h1v-3h1v-1h1v-5h1v1h1v-2h1v-5h1v6h1v-2h1v-1h1v2h1v-8h2v2h1v4h1v-3h1v7h1v-6h1v2h1v-4h2v1h1v-4h1v6h1v-2h1v-5h1v-10h1v7h1v6h1v-2h1v-4h1v3h1v-6h1v8h1v-2h1v-8h1v6h1v-13h1v11h1v4h1v2h1v1h1v1h1v-6h1v-3h1v6h1v-8h1v4h1v-2h1v-1h1v1h1v3h2v-3h2v-3h1v4h1v1h1v-3h1v2h1v-9h1v2h1v-2h1v3h1v-2h1v-1h1v7h1v-4h1v-1h1v1h1v2h1v-4h1v-1h1v7h1v-8h2v2h1v-1h1v-6h1v4h1v-1h1v-3h2v6h1v4h1v-7h1v2h1v8h1v-11h1v1h1v-2h1v-2h1v3h1v-4h1v-3h1v1h1v8h1v-2h1v-1h1v-3h1v3h1v-1h1v2h1v2h1v-7h1v-2h1v5h1v-8h1v1h1v7h2v-5h1v-4h1v4h1v-9h1v7h1v4h1v-2h1v-3h1v1h1v-1h1v2h1v1h2v2h1v4h1v-6h1v-6h1v-3h1v-3h1v2h1v4h1v-8h1v-1h1v15h1v-8h1v5h1v1h1v-6h2v-5h1v6h1v-4h1v5h1v-5h1v-3h1v6h1v-7h1v5h1v-1h1v-1h1v2h1v1h1v-10h1v18h1v-8h1v-2h1v4h1v-1h1v-3h1v-2h2v-1h1v-3h1v3h1v-1h1v2h1v-6h1v9h1v-10h1v-1h1v2h1v-3h1v4h1v2h1v3h1v-4h1v3h1v-1h1v-14h1v15h1v-5h1v-17h1v15h1v-2h1v1h1v8h1v-7h1v-2h1v3h3v-10h1v1h1v6h1v-1h1v-5h1v1h1v2h1v7h1v-3h1v-2h1v-10h1v5h1v5h1v-7h1v5h1v4h1v-2h1v-5h2v-2h1v1h1v-2h1v6h1v-7h2v3h1v3h2v-11h1v5h1v5h1v1h1v-4h1v-3h2v1h1v-3h1v5h1v-2h1v3h1v-2h1v-5h1v7h1v-3h1v1h2v1h1v-4h1v-2h1v-4h1v6h1v-4h1v-1h1v5h1v4h1v-5h1v-10h1v7h1v-1h1v-1h1v6h1v-4h1v-5h2v4h1v2h1v-5h1v1h1v7h1v-7h1v-3h1v1h1v4h1v1h1v3h1v-3h1v-8h1v1h1v7h3v-6h1v3h1v-10h1v6h1v-9h1v8h2v6h1v-1h1v-3h1v-5h1v-4h1v1h1v7h1v3h1v-5h1v-3h1v5h1v3h1v-2h1v-2h1v6h1v-6h1v1h1v-3h1v5h1v-10h1v5h1v-5h1v6h1v-5h1v-3h1v6h1v-1h1v2h1v-2h1v4h1v-5h1v-2h1v2h1v-4h1v3h1v-4h1v2h1v-1h1v7h1v-10h1v6h1v-6h1v3h1v4h1v-5h2v-3h1v-4h1v8h1v5h1v-9h1v-2h1v-4h1v-2h1v8h1v5h1v-9h1v6h1v-12h1v5h1v7h1v-2h1v-5h1v5h1v3h1v-7h1v3h2v-3h1v8h1v-6h1v-2h2v2h1v-3h1v5h1v-6h1v2h1v3h1v-3h1v-5h1v-1h1v7h2v-6h1v6h1v3h2v-6h1v3h1v-5h1v2h1v-4h1v-4h1v2h1v4h1v-4h1v4h1v-7h1v5h2v6h1v-5h1v-2h1v2h2v-4h1v5h1v-5h1v2h1v1h2v-1h1v-1h1v-1h1v-4h2v1h1v2h1v4h2v-6h1v3h1v-6h2v8h1v-2h1v-1h1v-2h1v2h1v-2h1v6h1v-8h1v2h1v2h1v-4h1v1h1v1h1v4h1v-5h1v-2h1v1h1v-2h1v3h1v3h1v-5h1v-1h1v3h1v-2h1v-6h1v3h1v2h1v-4h1v3h1v2h2v-4h1v3h1v3h1v-2h1v3h1v-7h1v3h1v-2h2v-1h1v-2h1v4h1v-2h1v-2h1v3h2v-5h1v-3h1v10h1v-2h1v-6h1v5h1v-3h1v-7h1v7h1v-2h1v4h1v-6h2v6h1v-3h1v4h1v-4h1v-4h2v2h1v3h2v-5h1v-12h1v14h1v-4h1v2h1v9h1v-8h1v-7h1v9h1v-3h1v-3h1v1h1v2h1v-8h1v7h1v-8h1v11h1v-1h1v4h1v-6h1v-2h1v-1h3v1h1v4h1v-5h1v3h1v-5h1v-7h1v4h1v4h1v4h1v-7h1v5h1v-1h1v4h1v4h1v-4h1v-7h1v-2h1v3h1v-8h1v8h1v-6h1v6h1v-4h1v3h1v-2h1v5h1v-3h1v1h1v2h1v2h1v-7h1v-1h1v4h1v-1h1v-2h2v3h2v-2h1v-9h1v5h1v4h2v-4h1v-4h1v6h1v2h2v3h1v-8h1v2h2v-6h1v1h1v5h1v1h1v-2h1v-2h1v-5h1v7h1v-3h1v1h1v2h1v-2h1v-2h1v4h1v-5h1v7h1v-2h1v-1h1v-1h1v-8h1v6h1v-1h1v-4h1v7h1v-4h1v-4h1v6h1v-5h1v1h1v-2h1v3h1v4h1v-1h1v-7h1v-1h1v2h1v6h1v-4h1v6h1v-4h1v3h1v-1h1v-9h1v7h1v3h1v-5h1v-3h1v5h1v-1h1v1h1v-2h1v-5h1v7h1v-6h1v3h1v3h1v-1h2v-5h1v-3h1v5h1v-7h1v8h2v-4h1v5h1v-2h1v-4h1v3h1v-1h1v-1h1v-1h1v-3h1v1h1v1h1v-1h1v2h1v-1h1v7h1v-8h1v2h1v-1h1v-5h1v2h2v4h1v-1h2v-6h1v8h1v-1h2v-7h1v5h1v-2h1v-3h1v-1h1v-3h1v4h1v-1h1v9h1v-12h1v5h1v2h1v3h1v-5h1v-9h1v5h1v-1h1v-2h1v3h1v2h1v-2h1v-2h2v4h1v3h1v-6h1v2h2v-3h1v4h1v-3h2v-2h2v2h1v3h1v4h1v-5h1v-3h2v-4h1v2h1v2h1v-6h1v4h1v1h1v-6h2v6h1v-2h1v-3h2v3h1v6h1v-10h2v2h2v1h1v-2h1v-4h1v5h1v-2h1v4h1v-3h1v-5h1v3h1v1h1v-2h1v-2h1v1h1v3h1v-3h1v6h1v-1h1v-1h1v-4h2v-7h1v4h1v6h1v2h1v-8h1v4h1v-1h1v1h1v1h1v-9h1v8h1v-1h1v-8h1v4h1v3h1v-7h2v6h2v-4h1v7h1v-3h1v4h1v-4h1v-1h1v-3h1v6h1v2h1v-1h1v1h1v-2h1v-2h1v-2h1v2h1v1h1v-3h1v-3h1v5h1v-1h1v1h1v-1h1v-5h1v7h1v-3h1v-4h1v2h1v-2h1v3h1v2h1v-3h1v-1h1v3h2v-4h1v2h1v2h1v-6h1v1h1v3h1v-1h1v4h1v-2h1v-6h1v2h1v1h1v6h1v-4h1v1h1v-4h1v3h1v-3h1v5h1v-10h1v1h1v-2h1v7h2v-3h2v4h1v2h2v-3h1v-3h1v2h1v3h1v-9h1v6h1v2h2v-3h1v-4h2v-3h1v6h1v-5h1v10h1v-7h2v7h1v-3h1v-6h1v4h1v1h1v-6h1v-2h1v4h1v1h1v-5h1v-3h1v8h1v4h1v-1h1v-1h1v-3h1v-8h1v2h1v3h1v7h1v-1h1v2h1v-10h1v-1h1v6h1v5h1v-6h1v-1h3v4h1v-16h1v17h1v-10h1v1h1v3h1v1h1v3h1v-5h1v-1h1v-3h1v5h1v-1h1v-1h1v4h1v2h1v-6h1v4h1v-7h1v-2h1v6h1v1h1v-3h1v2h1v-11h1v-3h1v13h1v-5h1v1h1v3h1v-1h2v1h1v-1h1v2h1v3h1v-1h1v-9h1v3h1v2h1v2h1v-6h1v3h1v1h1v3h1v-4h1v-1h1v3h1v-5h1v2h1v4h1v-4h1v6h1v-9h1v5h1v3h1v-3h1v-4h1v-4h1v5h1v1h1v-7h1v5h1v1h1v9h1v-5h1v-4h1v1h1v-9h1v1h1v6h1v-3h1v-1h1v2h1v4h1v1h1v-6h1v1h1v5h1v-2h1v-2h1v-1h1v4h1v-1h1v-2h1v2h1v3h1v-5h1v5h1v-7h1v-10h1v10h1v3h1v-1h1v1h1v-1h1v-2h1v4h1v-5h1v3h1v1h1v-1h1v-6h1v7h1v-5h1v-1h1v3h1v-1h1v-4h1v2h1v-5h1v7h1v2h1v-3h2v3h1v1h1v2h1v-3h1v-2h1v2h1v-1h1v-2h1v-5h1v8h1v-1h1v-5h1v3h1v-2h1v-2h1v-9h1v13h1v-1h2v-3h2v3h1v1h1v-3h1v-1h1v9h1v-3h1v-2h1v-4h1v3h1v-1h1v-1h1v-4h1v-7h1v7h1v8h1v-6h1v-3h1v6h1v-1h1v-2h1v2h2v-3h1v-10h1v7h1v5h1v-6h2v2h1v3h1v-4h2v7h1v-2h1v-2h1v4h1v1h1v-2h1v2h1v-5h1v1h1v-6h1v-7h1v10h1v-4h1v-2h1v-11h1v9h1v-3h1v7h1v-1h1v3h1v-3h1v-11h1v20h1v-8h1v2h1v4h1v-5h1v2h1v3h1v-6h1v5h1v1h1v-4h1v-1h1v5h1v-5h1v5h1v-3h1v2h1v-3h1v3h1v-2h1v-4h1v-5h1v8h1v-2h1v3h1v3h1v-2h1v1h1v-5h1v-1h2v1h1v-2h1v-3h1v3h1v2h1v1h1v-2h2v2h2v-3h1v2h1v-4h1v4h1v2h1v-7h1v-2h1v2h1v6h1v-9h1v7h1v-6h1v3h1v-1h1v4h1v1h1v1h1v-2h1v-2h1v-7h1v-7h1v17h1v-5h1v3h1v-1h2v4h1v-9h1v5h1v-1h1v-6h1v6h1v-1h1v1h1v-1h1v5h1v-9h1v2h1v4h1v-3h1v6h1v-1h2v-6h1v-3h1v2h1v3h1v-6h1v6h1v-4h1v-1h1v3h2v2h1v-1h1v-2h1v-2h1v3h1v-4h1v2h1v-2h1v2h1v-4h1v2h1v-1h1v-1h2v5h1v-14h1v8h1v5h1v4h1v-2h1v-3h1v-1h1v-3h1v5h1v2h1v-2h1v-5h1v-2h1v9h1v-8h1v5h2v-5h2v6h3v5h1v-6h1v-4h1v4h2v-1h1v1h1v-2h1v3h1v-16h1v9h1v9h1v-7h1v3h1v-1h1v6h1v-3h1v-1h1v-5h1v6h1v-4h3v2h2v-1h1v-3h1v10h1v-9h1v1h1v1h1v-2h1v3h1v-3h1v3h1v-3h1v-2h1v6h1v3h1v-5h1v-4h1v2h1v4h2v-2h1v1h1v-4h1v-3h1v2h1v3h1v6h1v-5h1v-3h1v7h1v-8h2v-2h1v3h1v2h1v-3h1v3h1v3h1v-2h1v6h1v-9h1v-4h1v1h1v2h1v4h1v-2h1v-6h1v-4h1v7h1v-6h1v7h1v-1h1v-2h1v7h1v-5h1v-2h1v2h1v8h1v-9h1v3h1v1h1v-2h1v3h1v-5h1v2h1v2h1v-2h1v5h2v2h1v-7h1v3h1v-9h1v2h1v6h1v1h1v-1h2v-2h1v3h1v-5h1v-3h1v3h2v-1h1v-6h1v7h1v-7h1v6h1v3h1v-4h1v3h1v-1h1v-4h1v11h-1v2h-1v3h-1v-4h-1v4h-1v-5h-1v1h-1v5h-1v-5h-1v7h-1v-4h-1v3h-1v-9h-1v4h-1v13h-1v-6h-1v-1h-1v3h-1v11h-1v-9h-1v-8h-1v6h-1v-2h-1v-2h-1v4h-1v-2h-1v-1h-1v-5h-1v10h-1v-1h-1v-9h-1v1h-3v2h-1v-1h-1v4h-1v-4h-1v2h-1v6h-1v-3h-1v7h-1v-11h-1v1h-1v-4h-1v5h-1v-2h-1v-1h-1v8h-1v-4h-1v5h-1v-9h-1v-4h-1v7h-1v3h-1v1h-1v-1h-1v-7h-1v5h-1v-4h-1v3h-1v-1h-1v1h-1v-2h-1v7h-1v-7h-1v9h-1v-2h-1v1h-1v-5h-1v-1h-1v-2h-1v6h-1v-5h-1v2h-1v-1h-1v2h-1v-1h-1v4h-1v1h-1v-7h-1v2h-1v-5h-1v9h-1v5h-1v-11h-1v-1h-1v4h-1v-4h-1v13h-1v-1h-1v-9h-1v4h-1v9h-1v-10h-1v3h-1v-3h-1v-3h-1v1h-1v3h-1v-1h-1v-3h-1v8h-1v7h-1v-9h-2v-1h-1v1h-1v-10h-1v10h-1v-1h-1v-3h-1v4h-1v-3h-1v3h-1v-5h-1v4h-1v4h-1v-6h-1v-2h-1v5h-1v4h-1v-9h-2v2h-1v4h-1v-5h-3v10h-1v-2h-1v-1h-1v-1h-1v-9h-1v6h-1v3h-1v-3h-1v-1h-1v-1h-1v4h-1v-6h-2v-1h-1v8h-1v-4h-1v-3h-1v5h-1v4h-2v-2h-1v-3h-1v-6h-1v12h-1v5h-1v-8h-1v6h-1v-10h-1v5h-1v-2h-1v1h-1v2h-1v-6h-1v4h-1v-6h-1v2h-2v4h-1v3h-1v-6h-1v3h-1v1h-1v1h-1v-1h-1v-2h-2v3h-1v-5h-1v-2h-1v7h-1v3h-1v4h-1v-7h-1v-2h-1v6h-1v-7h-1v6h-1v8h-1v-8h-1v-1h-1v1h-1v-3h-1v1h-1v2h-1v3h-1v-11h-1v16h-1v-11h-1v1h-1v-2h-1v5h-1v-7h-1v-3h-1v5h-1v5h-1v1h-1v-6h-1v7h-1v-3h-1v1h-1v-5h-1v-3h-1v1h-1v5h-1v1h-2v-6h-1v1h-1v2h-1v3h-1v-1h-1v2h-1v1h-1v1h-2v-5h-1v2h-2v1h-1v-2h-1v4h-1v-1h-1v-2h-1v2h-1v2h-1v1h-1v-4h-1v12h-1v-10h-1v-4h-1v5h-1v3h-1v-2h-1v-1h-1v-5h-1v2h-1v8h-1v-11h-1v8h-1v1h-1v-6h-1v1h-1v-5h-1v3h-1v2h-1v-3h-1v5h-1v1h-1v-2h-1v-2h-1v2h-1v-1h-1v7h-1v-5h-1v2h-1v2h-1v-1h-1v-1h-1v5h-1v-4h-1v-4h-1v2h-1v-1h-1v2h-1v3h-1v1h-1v-9h-1v1h-1v8h-1v-5h-1v-2h-1v3h-1v2h-1v-1h-1v-2h-2v6h-1v-4h-1v2h-1v-1h-1v-2h-1v1h-1v2h-1v2h-1v-8h-1v13h-1v-6h-3v3h-1v1h-1v5h-1v-12h-1v-1h-1v1h-1v-2h-1v6h-1v1h-1v-2h-1v-3h-1v7h-1v-7h-2v1h-2v6h-1v-1h-1v-2h-1v-1h-1v8h-1v-8h-2v10h-1v-4h-1v-7h-1v1h-1v5h-1v-5h-1v3h-1v2h-1v-5h-1v4h-2v4h-1v-11h-1v10h-1v7h-1v-7h-1v-2h-1v5h-1v-4h-1v-6h-1v9h-1v-5h-1v3h-1v2h-1v-5h-1v-2h-1v3h-1v-4h-1v4h-1v4h-1v-4h-2v-1h-1v-2h-1v6h-1v-2h-1v-2h-1v4h-1v-3h-2v-3h-2v6h-2v5h-1v-5h-1v-1h-1v5h-1v-6h-1v2h-1v-1h-1v2h-1v6h-1v2h-1v7h-1v-19h-1v-2h-1v8h-1v-2h-1v6h-1v-6h-1v-2h-2v1h-1v-1h-1v5h-1v-5h-1v6h-1v5h-1v-7h-1v-4h-1v1h-1v3h-1v3h-1v-2h-1v-2h-1v3h-1v-3h-1v-3h-1v3h-1v5h-1v-3h-1v3h-1v-6h-1v2h-2v-3h-1v1h-1v-1h-1v-2h-1v7h-1v-2h-1v2h-1v2h-1v2h-1v-6h-1v5h-1v-6h-1v-2h-1v2h-1v4h-1v1h-1v4h-1v-4h-1v-2h-1v2h-1v2h-1v8h-1v-17h-1v9h-1v-2h-1v-1h-1v6h-1v-2h-1v-5h-1v3h-1v1h-1v-1h-1v1h-1v4h-1v9h-1v-15h-1v3h-1v-2h-1v-1h-1v2h-1v3h-1v5h-1v-4h-1v-3h-1v-5h-1v2h-1v5h-1v5h-1v-3h-1v1h-1v-1h-1v-6h-1v2h-1v-1h-1v-1h-1v6h-1v-1h-2v-4h-1v11h-1v-10h-1v4h-3v7h-1v-3h-1v-2h-1v-5h-1v4h-2v-4h-1v1h-1v5h-1v-4h-1v1h-1v2h-2v-1h-3v-2h-1v6h-1v-4h-1v-3h-1v1h-1v4h-1v-5h-1v-1h-1v2h-1v4h-1v-4h-1v5h-1v-1h-1v3h-1v-3h-1v2h-1v4h-1v-9h-1v3h-1v3h-1v-4h-1v5h-1v-3h-2v-4h-1v2h-1v6h-1v-7h-1v6h-1v-2h-1v-2h-1v4h-1v2h-1v-8h-1v-1h-1v5h-1v-1h-2v4h-1v-5h-1v2h-1v3h-1v-6h-1v6h-1v1h-1v-2h-1v3h-1v-4h-1v-5h-1v7h-1v-2h-1v1h-1v3h-1v-2h-2v-3h-1v10h-1v-6h-1v4h-1v-9h-1v2h-1v1h-1v1h-1v-1h-1v-1h-1v4h-1v-3h-1v-3h-1v6h-1v-4h-1v4h-1v2h-1v3h-1v-3h-1v-2h-2v-3h-1v8h-1v-4h-1v5h-1v-5h-1v1h-1v3h-1v-4h-1v-3h-1v4h-1v-1h-2v1h-1v-1h-1v3h-2v1h-1v-4h-1v1h-2v-3h-1v2h-1v3h-1v2h-1v-2h-1v4h-1v-4h-1v-5h-1v6h-1v4h-2v-8h-1v4h-1v-3h-1v4h-1v-2h-1v-3h-1v9h-1v-3h-2v3h-1v1h-1v5h-1v-3h-1v-7h-1v9h-1v4h-1v-9h-1v-4h-1v8h-1v-2h-1v-2h-1v-1h-1v4h-2v6h-1v-4h-1v2h-1v-4h-1v-4h-1v-1h-1v5h-1v-1h-1v-3h-1v5h-1v-7h-1v4h-1v2h-1v-1h-1v1h-1v7h-1v-6h-1v-2h-1v14h-1v-5h-1v-2h-2v-1h-4v1h-1v-1h-1v5h-1v4h-1v1h-1v-9h-1v1h-1v3h-1v1h-1v-6h-3v2h-1v1h-1v8h-1v-7h-1v3h-1v-2h-1v-4h-1v-1h-1v4h-1v-2h-1v2h-1v14h-1v-9h-1v-2h-1v-3h-1v8h-1v-5h-1v-2h-2v-1h-1v-3h-1v7h-1v1h-1v-3h-1v4h-1v4h-1v-6h-1v2h-1v-3h-1v9h-1v-8h-1v-1h-1v-1h-1v1h-1v3h-1v6h-1v-4h-1v5h-1v-4h-1v1h-1v-3h-1v3h-1v1h-1v11h-1v-15h-2v-1h-1v-1h-1v7h-1v-4h-1v5h-1v-10h-2v-1h-1v5h-1v1h-1v-4h-1v7h-1v3h-1v-4h-1v-5h-1v6h-1v-4h-1v3h-1v1h-1v5h-1v-6h-2v12h-1v-4h-1v-3h-1v-2h-2v4h-1v-8h-1v1h-1v6h-1v-5h-1v7h-1v-2h-2v-5h-1v4h-1v9h-1v-6h-1v6h-1v-8h-2v-4h-2v1h-1v5h-1v-1h-2v-2h-1v4h-1v2h-1v-6h-1v3h-1v-1h-1v-2h-1v8h-1v-2h-1v-1h-1v3h-1v10h-1v-9h-1v-9h-1v1h-1v2h-1v1h-1v-1h-1v1h-1v-1h-1v9h-1v-8h-1v6h-1v-5h-1v2h-1v4h-2v2h-1v-1h-1v-6h-1v-4h-1v8h-1v-2h-2v8h-1v-4h-1v2h-1v-6h-1v5h-1v-1h-1v-5h-1v3h-1v1h-1v-2h-1v2h-2v3h-1v-5h-1v-2h-1v5h-1v-7h-1v10h-1v1h-1v-2h-1v1h-1v1h-1v-5h-1v5h-1v1h-1v-3h-1v-6h-1v2h-1v2h-1v-1h-1v5h-1v-2h-1v1h-1v-7h-1v9h-1v-6h-1v8h-1v-2h-1v3h-1v-2h-1v-4h-1v9h-1v-8h-1v1h-1v-8h-1v8h-1v-2h-1v5h-1v3h-1v-4h-1v-2h-1v3h-1v2h-1v3h-1v-3h-1v-6h-1v4h-1v-2h-1v1h-1v2h-1v-3h-1v4h-1v3h-2v-3h-1v4h-1v-5h-1v2h-1v2h-1v-5h-1v1h-1v7h-1v3h-1v-9h-1v1h-1v-1h-1v1h-1v6h-1v-2h-1v-3h-1v2h-1v-2h-1v10h-1v-11h-1v9h-1v-3h-1v-1h-1v-3h-2v2h-2v4h-1v1h-1v-4h-1v4h-1v-5h-1v6h-1v-1h-1v-1h-2v-3h-1v3h-1v10h-1v-9h-1v9h-1v-6h-1v-2h-1v-4h-1v-1h-1v2h-1v4h-1v3h-1v-2h-1v1h-1v2h-1v-1h-2v-4h-1v-2h-1v9h-1v-1h-1v-7h-1v3h-1v1h-1v5h-1v-9h-1v1h-1v5h-2v1h-2v-7h-1v3h-1v5h-1v-2h-2v3h-1v-2h-1v1h-1v-2h-1v6h-1v3h-1v-9h-1v-2h-1v4h-1v1h-1v-7h-1v2h-1v6h-1v2h-1v-3h-2v-6h-1v4h-1v3h-1v-1h-1v-2h-1v9h-1v-6h-1v-2h-1v3h-1v-7h-1v4h-1v6h-1v-4h-1v6h-1v-8h-1v2h-1v2h-1v-2h-1v10h-1v-9h-1v1h-2v6h-1v1h-1v1h-1v-9h-1v1h-1v-1h-1v4h-2v-1h-1v6h-1v-6h-1v7h-1v-4h-2v-6h-1v5h-1v2h-1v-4h-1v3h-1v7h-1v-3h-2v6h-1v-7h-1v3h-1v-2h-2v1h-1v1h-1v4h-1v-5h-1v2h-1v1h-1v-1h-1v-1h-1v6h-1v-5h-1v3h-1v-4h-1v2h-1v2h-1v-2h-1v-2h-1v-1h-1v-5h-1v5h-1v6h-1v3h-1v2h-1v-3h-1v2h-1v12h-1v-19h-1v-1h-1v1h-1v5h-1v3h-1v2h-1v-5h-1v-2h-2v-3h-1v3h-1v2h-2v6h-1v-7h-1v6h-1v-5h-1v2h-1v1h-1v-5h-1v2h-1v6h-1v-3h-1v5h-1v-6h-1v2h-1v-2h-1v4h-1v-1h-1v-1h-1v1h-1v6h-1v-8h-1v1h-1v2h-1v-3h-1v-4h-1v9h-1v-4h-1v1h-1v3h-1v1h-1v3h-1v-5h-1v3h-1v-3h-1v6h-1v-1h-1v-3h-1v17h-1v-7h-1v-5h-1v-7h-1v1h-1v4h-1v5h-1v-4h-1v8h-1v-1h-1v-8h-2v-1h-1v-2h-1v7h-1v-8h-1v6h-1v4h-1v1h-1v-3h-1v10h-1v-5h-1v-4h-1v-6h-1v6h-1v9h-1v-9h-1v-3h-1v4h-1v4h-1v-4h-1v-4h-2v2h-1v3h-1v-3h-1v-1h-1v4h-1v1h-1v4h-1v-4h-1v1h-1v4h-1v-2h-2v7h-1v-10h-1v3h-1v5h-1v-7h-1v2h-2v5h-2v-7h-1v-1h-1v-1h-1v6h-1v1h-1v-2h-1v9h-1v-10h-1v4h-1v-7h-1v7h-1v5h-1v-7h-1v16h-1v-10h-1v2h-1v-4h-1v7h-1v-5h-1v3h-1v11h-1v-6h-1v-9h-1v-4h-1v1h-2v5h-1v3h-1v-4h-1v-3h-1v4h-1v-2h-1v7h-1v9h-1v-13h-2v1h-1v6h-1v-4h-1v-2h-1v4h-1v-2h-1v1h-1v-5h-2v5h-1v-1h-1v4h-1v1h-1v3h-1v2h-1v2h-1v-3h-1v-6h-1v3h-1v-1h-1v-4h-1v6h-1v-5h-1v2h-1v-2h-1v4h-1v-1h-1v2h-1v1h-2v2h-1v-3h-1v-1h-1v-2h-1v5h-1v2h-1v-3h-2v1h-1v-6h-1v3h-1v1h-1v3h-1v-3h-1v7h-1v-5h-1v8h-1v-4h-1v-1h-1v-1h-1v5h-1v3h-1v5h-1v-3h-1v-5h-1v-2h-1v2h-1v-8h-1v7h-2v-1h-1v4h-1v-4h-1v-2h-1v6h-1v2h-2v4h-1v-8h-1v-3h-1v5h-1v3h-1v-2h-1v1h-1v-4h-3v5h-2v10h-1v-5h-1v1h-1v-2h-1v-2h-1v-2h-1v2h-1v4h-1v-4h-1v-3h-1v-1h-1v10h-1v-2h-2v1h-1v-6h-1v4h-1v3h-1v-1h-1v3h-2v-4h-1v7h-1v-3h-1v-4h-1v4h-1v-5h-1v-3h-1v8h-1v3h-1v-5h-1v5h-1v-1h-1v3h-1v-4h-1v5h-1v-2h-1v-7h-1v3h-1v4h-1v-2h-1v1h-1v7h-1v-3h-1v-1h-1v1h-1v-3h-1v5h-1v-2h-1v2h-1v-7h-1v8h-1v-4h-1v1h-1v-3h-1v2h-1v1h-1v4h-1v8h-1v-3h-1v-4h-1v3h-1v-5h-1v2h-1v-5h-1v9h-1v3h-1v-3h-1v-6h-1v-3h-1v3h-1v-2h-1v9h-1v-4h-1v-1h-1v3h-1v3h-1v-8h-1v3h-1v-7h-1v4h-1v5h-1v-4h-1v4h-1v1h-1v-7h-1v10h-1v-7h-1v6h-1v4h-1v-2h-1v-2h-2v-5h-1v3h-1v1h-1v-2h-1v1h-1v2h-1v1h-1v6h-1v-7h-1v3h-1v4h-1v-2h-2v-8h-1v2h-1v2h-1v-1h-1v4h-2v6h-1v-1h-1v-1h-1v-1h-2v-7h-1v1h-1v1h-1v-1h-1v4h-1v-1h-1v4h-1v-1h-1v11h-1v-7h-1v4h-2v-6h-1v1h-1v-2h-1v-3h-1v5h-1v4h-1v-4h-1v-3h-1v-1h-1v4h-1v6h-1v7h-1v-7h-1v1h-1v-2h-1v1h-1v4h-1v-14h-1v10h-1v-2h-1v-2h-1v5h-1v-2h-2v2h-1v-1h-2v-1h-1v3h-1v-1h-1v2h-1v-2h-2v5h-1v-3h-1v4h-1v-3h-1v1h-1v-3h-1v2h-1v2h-2v-5h-1v7h-2v-1h-1v3h-1v1h-1v-6h-1v4h-1v-4h-1v4h-1v-5h-1v-3h-1v3h-1v1h-1v6h-1v2h-1v2h-2v-2h-1v-3h-1v-4h-1v5h-1v-3h-1v-3h-1v4h-1v1h-1v2h-1v-6h-1v9h-1v-3h-1v5h-1v-7h-1v17h-1v-16h-1v1h-1v5h-1v-8h-1v-2h-1v11h-1v1h-1v-4h-1v-3h-1v-2h-1v5h-1v2h-1v-6h-1v2h-1v-2h-1v3h-1v4h-1v-5h-1v4h-1v-5h-1v3h-2v3h-1v-5h-1v2h-1v4h-1v4h-1v-8h-1v-2h-1v5h-1v-5h-1v10h-1v-6h-1v-5h-1v5h-1v2h-1v9h-1v-9h-2v-2h-1v3h-2v2h-1v4h-1v-6h-1v-4h-1v8h-1v7h-1v-12h-1v1h-1v1h-1v6h-1v-2h-1v1h-1v-3h-1v7h-1v-4h-1v-6h-1v3h-1v4h-1v2h-1v-2h-1v-2h-1v7h-1v5h-1v-2h-1v-5h-1v-3h-1v5h-1v-3h-1v3h-1v4h-1v-3h-1v-7h-1v10h-1v4h-1v-9h-1v2h-1v2h-1v-5h-1v1h-1v2h-1v-3h-1v4h-1v-4h-1v1h-1v3h-1v3h-1v-7h-1v5h-1v3h-2v-4h-2v4h-1v1h-1v-2h-1v1h-1v-2h-1v-3h-1v4h-2v2h-1v2h-1v4h-1v-11h-1v3h-1v-3h-1v2h-1v6h-1v1h-1v-6h-1v9h-1v-7h-1v6h-1v-10h-1v4h-1v1h-1v5h-1v7h-1v-11h-1v-1h-1v3h-1v-1h-1v-3h-1v5h-1v2h-1v-5h-1v6h-1v-8h-1v5h-1v-3h-1v3h-1v-1h-1v7h-1v13h-1v-11h-1v-5h-1v-1h-1v8h-1v-7h-1v-6h-1v6h-1v-4h-1v2h-2v-2h-1v4h-2v5h-1v3h-1v-4h-1v-1h-1v-5h-1v11h-1v-6h-1v-3h-1v6h-1v-8h-1v9h-1v-3h-1v-2h-1v9h-1v-3h-1v-2h-1v2h-1v-2h-1v5h-1v-7h-1v-1h-1v2h-1v3h-2v1h-1v5h-1v-5h-1v-1h-1v-1h-2v5h-2v-3h-1v6h-1v-1h-1v1h-1v-5h-1v10h-1v-5h-1v5h-1v-3h-1v-1h-1v9h-1v-5h-2v-5h-1v7h-1v-3h-1v13h-1v-20h-1v9h-1v4h-1v-9h-1v2h-1v2h-1v2h-1v-3h-1v-1h-1v8h-1v-4h-1v4h-1v10h-1v-7h-1v-10h-2v1h-1v4h-1v5h-1v-1h-1v-3h-1v2h-1v-5h-1v4h-1v-1h-1v-4h-1v3h-1v11h-1v-8h-1v-4h-1v6h-1v-3h-1v-1h-1v17h-1v-15h-1v-3h-1v2h-1v-3h-1v1h-1v2h-1v-2h-1v5h-1v2h-1v-1h-1v-5h-1v7h-1v-4h-1v2h-1v-9h-1v7h-1v2h-1v-2h-1v-3h-1v3h-1v7h-1v-4h-1v-1h-1v1h-1v2h-1v2h-1v-4h-1v5h-1v-6h-1v1h-1v5h-1v1h-1v-3h-1v3h-1v1h-1v-4h-2v2h-1v-1h-1v10h-1v-2h-2v-11h-1v12h-1v-4h-1v-1h-2v-2h-1v-6h-1v14h-1v-5h-1v-3h-1v4h-1v-7h-1v4h-1v4h-1v-2h-1v-4h-1v7h-1v2h-2v-2h-1v6h-1v-10h-1v8h-1v10h-1v-8h-1v-6h-1v-4h-1v7h-1v-5h-1v-3h-1v6h-1v-5h-1v4h-1v15h-1v-9h-1v-12h-1v6h-1v6h-1v-4h-1v-8h-1v8h-1v3h-1v2h-1v1h-2v2h-1v-6h-1v-3h-1v5h-1v6h-1v-9h-1v5h-1v-5h-2v9h-1v-5h-1v4h-1v4h-1v-5h-1v-7h-1v6h-2v-6h-2v1h-1v6h-1v3h-1v5h-1v-10h-1v8h-2v-2h-1v-8h-1v5h-1v1h-1v-5h-1v5h-1v5h-1v-2h-1v-6h-1v3h-1v-1h-1v1h-1v1h-1v-2h-1v3h-1v5h-1v-4h-1v4h-1v-2h-1v1h-1v3h-1v-2h-1v-2h-1v1h-1v-4h-1v2h-1v3h-1v-1h-1v3h-1v-3h-1v3h-1v-1h-1v1h-1v-6h-1v6h-1v3h-1v-3h-1v5h-1v2h-2v-11h-1v-1h-1v5h-1v-2h-1v2h-1v5h-1v-3h-1v5h-1v-7h-1v1h-1v1h-2v1h-1v6h-1v7h-1v-6h-1v-5h-1v-3h-1v2h-1v-3h-1v11h-1v-3h-1v-1h-1v2h-1v-5h-1v10h-2v-4h-1v-1h-1v10h-1v-9h-1v-7h-1v1h-1v8h-1v1h-2v-2h-1v-2h-1v1h-1v-1h-1v2h-1v5h-1v-4h-1v2h-1v-2h-1v5h-1v-9h-1v4h-1v2h-1v-2h-1v-1h-1v-4h-1v4h-1v6h-1v-3h-1v-3h-1v-1h-1v3h-1v3h-1v-8h-1v4h-1v-5h-1v2h-1v3h-1v6h-1v-3h-1v5h-1v1h-1v-2h-1v-1h-2v-1h-1v7h-1v-5h-1v2h-4v-4h-1v-1h-1v3h-1v4h-1v-4h-1v10h-1v-7h-1v-2h-1v1h-1v3h-1v1h-1v-3h-1v8h-1v-5h-1v2h-1v5h-1v-4h-2v-5h-1v7h-1v-2h-1v2h-1v2h-1v-1h-1v-1h-1v-4h-1v1h-1v4h-1v7h-1v-9h-1v-1h-1v1h-1v12h-1v-5h-1v-8h-1v3h-1v-2h-1v3h-1v-1h-1v8h-1v-2h-2v7h-1v-4h-1v-3h-2v-2h-1v2h-2v1h-1v-7h-1v4h-1v5h-1v-3h-1v4h-1v2h-1v-7h-1v2h-1v7h-1v-8h-1v3h-1v10h-1v-5h-1v-3h-1v-1h-1v1h-1v1h-1v1h-1v-1h-1v-6h-1v9h-1v-2h-1v-4h-1v2h-1v15h-1v-9h-1v-2h-1v2h-1v1h-1v-8h-1v7h-1v7h-1v3h-1v-4h-1v-6h-1v7h-2v-5h-1v4h-1v-1h-1v-2h-1v6h-1v6h-1v-7h-1v3h-1v2h-1v-1h-1v-1h-1v7h-1v-2h-1v2h-1v1h-1v4h-1v1h-2v3h-1v3h-1v6h-1v3h-1v4h-1v5h-1v4h-1v2h-1v3h-1v4h-1v6h-1v5h-1v6h-1v7h-1v8h-1v6h-1v6h-1v3h-2v1h-1v6h-1v-7h-1v1h-1v3h-1v-1h-1v4h-1v-1h-1v-4h-1v2h-1v3h-1v-2h-1v-2h-1v-3h-1v6h-1v-8h-1v3h-1v5h-1v-3h-1v-2h-1v5h-1v-1h-2v5h-1v-1h-1v-7h-1v1h-1v2h-1v-7h-1v3h-1v-1h-1v-1h-1v4h-1v-1h-1v2h-1v5h-1v-6h-1v-1h-1z"/>
<path fill="#0f0" d="M388 1572h1v1h1v4h2v2h1v-2h1v1h1v-1h1v-1h1v1h1v-1h1v-3h1v2h1v1h2v-1h1v-1h1v2h1v1h2v-1h1v-3h1v4h1v-1h1v-1h1v-2h1v3h2v-2h1v-2h1v2h1v-3h1v2h1v2h1v-1h1v-8h1v6h1v-14h1v-9h1v-8h1v-6h1v-6h1v-8h1v-6h1v-4h1v-6h1v-4h1v-3h1v-7h1v-3h1v-10h1v-2h1v-1h1v-5h1v-5h1v-2h1v-2h3v-11h1v1h1v-5h2v1h1v-16h1v7h1v1h1v-2h1v1h1v-9h1v2h2v-5h1v1h1v-1h1v-6h1v-1h1v10h1v-5h1v-7h1v-2h1v7h1v-3h1v-29h1v22h1v1h1v4h1v2h1v6h1v-6h1v-4h1v-9h1v-19h1v23h1v-2h1v3h1v2h2v-6h1v-6h1v-17h1v22h1v-2h1v-2h1v12h1v-8h1v-1h1v1h1v-2h1v3h1v-2h2v12h1v-5h1v-6h1v1h2v-3h1v4h1v-5h1v4h1v-1h1v-6h1v6h1v-7h1v8h1v-5h1v-5h1v4h1v-1h1v1h1v-1h1v2h1v-1h1v5h1v1h1v-7h1v2h1v1h1v-1h1v-4h1v1h2v-5h1v9h1v-4h1v1h1v-3h2v3h1v-1h1v-6h1v-3h1v5h2v-1h1v3h1v-5h1v6h1v1h1v-5h2v1h1v-5h1v-12h1v17h1v-1h1v-6h1v6h1v6h1v-10h1v-1h1v2h1v1h1v-1h1v1h1v-1h2v1h1v-8h1v4h1v-4h1v7h1v-3h1v2h1v3h1v-5h1v1h1v-7h1v5h1v-2h1v-1h1v6h1v2h1v-1h1v-5h1v-5h1v5h1v-1h1v-1h2v-2h2v-3h1v2h1v1h1v-3h1v1h1v-4h1v1h1v4h2v-3h1v-3h1v1h1v-3h1v6h1v-1h1v1h1v-2h3v-1h1v-1h1v-5h1v7h1v-4h1v2h1v1h1v-4h1v-4h1v4h1v1h1v1h1v-1h1v1h1v-2h1v-2h1v2h1v-2h2v2h1v-1h2v-10h1v6h1v5h1v-1h2v-2h1v2h3v-1h1v-2h1v-1h1v1h2v-4h1v5h1v-2h1v-2h5v2h1v-1h1v-1h1v-1h1v1h1v-1h1v-2h1v3h1v1h1v-1h1v1h1v-3h1v-1h2v-1h1v2h1v-1h1v2h1v-1h2v-1h1v-2h1v2h1v-3h1v-2h1v1h1v2h2v-3h1v1h2v-1h1v-2h1v-1h2v3h2v-1h1v-5h1v4h1v1h1v-4h1v3h2v-2h1v1h1v2h1v-1h1v-5h1v3h2v-1h1v2h1v-2h1v1h2v-1h2v-1h2v2h1v-3h1v-1h1v3h1v-2h1v-1h1v1h2v1h1v-2h1v3h1v-3h1v-1h1v-1h2v1h3v-1h1v1h1v-5h1v2h2v2h1v-6h1v6h1v-3h2v2h1v-2h2v-1h3v-1h2v-1h1v1h1v-4h2v4h2v2h1v-5h4v-1h3v-2h1v1h1v-1h1v-1h2v3h1v-3h1v2h1v-1h1v-2h1v-2h2v1h1v-2h1v-1h1v2h1v-2h2v1h1v-1h1v-1h1v-2h1v2h1v-1h1v1h1v1h1v-2h1v1h1v-3h1v3h1v-5h1v2h2v-3h1v1h1v1h1v-1h1v-1h1v2h2v-2h1v-2h1v1h2v1h1v1h1v-2h1v2h1v-7h1v2h1v3h1v-3h1v2h1v-2h1v1h2v2h1v-3h1v2h1v1h1v-3h2v-2h1v1h1v1h1v-2h2v1h1v-3h1v1h2v-1h1v-1h1v1h2v1h1v-3h1v2h1v-2h1v1h1v-2h2v-2h1v2h1v4h1v-3h2v1h1v-3h1v3h1v-3h1v3h2v-3h1v-3h2v1h1v2h4v1h1v-4h1v4h1v-4h1v1h2v-1h1v2h1v-1h2v-3h2v-3h1v5h1v-4h1v3h1v-1h1v1h1v-1h1v-1h1v-1h1v2h1v-2h3v-1h3v2h1v-2h2v-1h1v1h1v1h1v-1h1v-2h1v-1h2v2h1v-1h1v4h1v-2h1v1h1v-4h1v1h1v-1h1v1h1v1h1v-2h1v-2h1v1h1v2h1v-2h1v2h1v-2h1v2h2v-1h2v-2h1v2h1v-3h1v-1h1v1h1v-1h1v1h2v-1h1v-1h2v-1h1v3h1v-1h1v-4h1v2h1v1h3v-2h2v1h2v-1h1v-3h1v3h4v-2h1v2h2v-1h1v-2h1v2h1v-3h1v1h1v1h1v-1h1v1h1v-1h1v1h1v1h1v-2h1v1h1v-2h1v1h1v1h1v-5h2v2h3v1h2v-3h2v2h1v-1h1v-3h1v1h1v2h1v-4h2v4h2v-2h1v-1h3v-2h1v-1h1v5h1v-3h1v-3h1v5h2v-4h1v-1h1v2h1v-2h1v4h1v-3h1v2h1v1h1v-5h2v2h1v-1h1v1h2v-1h2v-1h2v1h1v-3h1v2h1v2h1v-2h1v2h1v-4h1v2h1v-5h1v2h2v-1h1v2h2v-1h3v-2h1v-1h1v1h4v-1h2v-1h1v2h1v1h1v-1h1v1h1v-2h3v-1h2v-1h1v2h1v-1h1v1h1v-1h1v-1h1v2h1v-4h1v1h1v1h1v-3h1v2h2v-1h1v-1h1v1h1v2h1v-2h2v-1h1v-1h1v2h1v-1h1v-1h2v-1h1v3h1v-2h1v-2h1v2h1v2h1v-3h1v-1h2v3h2v-4h2v-4h1v4h1v1h1v-1h1v-2h1v2h1v-2h2v2h1v-3h1v-2h1v2h1v-3h1v3h1v1h2v-3h1v1h2v1h1v-3h1v2h1v1h2v-2h1v1h1v-3h1v-5h1v3h1v3h3v-2h2v-1h1v2h1v-1h1v-1h2v-3h1v2h1v-1h1v3h1v-1h2v2h1v-4h1v-1h2v1h1v-1h1v-5h1v4h1v1h1v3h1v-3h1v-2h1v-1h1v3h1v-2h1v-5h1v4h1v-1h1v-5h1v4h1v3h1v-1h1v-1h1v2h1v-3h3v2h1v-7h1v3h2v-2h1v-7h1v5h1v3h1v2h1v-2h1v-1h1v-4h1v6h1v-1h1v-2h1v-1h1v-1h1v4h1v-1h1v-1h3v1h1v2h1v-1h1v-6h1v-7h1v4h1v5h2v1h1v-2h1v-4h1v3h1v2h2v-1h1v-2h1v-2h1v-1h2v3h1v-2h1v2h3v-3h1v-2h1v1h1v-2h1v6h1v-1h2v-1h1v-1h1v1h1v-1h1v-8h1v7h2v-2h1v2h1v-4h1v1h3v-1h1v-2h1v4h1v-3h1v-1h1v2h1v-3h2v3h2v-3h1v2h1v-1h1v2h2v-5h2v2h1v-3h1v1h2v1h2v-3h1v2h1v-2h1v2h1v1h1v-1h1v-1h1v-1h1v4h1v-4h1v-1h1v3h1v-3h1v-1h1v-3h2v1h2v-1h1v3h1v-7h1v8h1v-2h1v-6h1v7h2v-4h1v-1h1v-1h1v1h1v3h1v-5h2v3h1v-2h1v3h1v-3h2v2h1v-1h1v-1h1v-1h1v1h1v-3h1v2h1v2h1v-4h1v3h1v-10h1v4h1v4h1v-3h1v3h1v-3h1v-6h1v4h1v2h1v1h1v-5h1v-6h1v8h1v2h1v-4h1v5h1v-3h1v-1h1v2h2v1h1v-7h1v5h1v2h2v-4h1v-1h1v3h2v-3h1v-3h1v-1h1v2h1v1h1v4h1v-2h1v-1h1v-2h2v-7h1v2h1v-7h1v13h1v1h1v-2h1v-3h1v-8h1v6h1v6h1v-5h1v2h1v-6h1v7h1v-4h1v3h1v1h1v-2h3v-4h1v4h1v-5h1v5h1v-1h2v1h2v-2h1v-2h1v2h1v-1h2v-2h1v1h1v3h2v-1h1v-1h1v-2h1v-5h1v6h1v-3h1v3h1v-7h1v2h1v2h1v-1h1v4h1v-4h1v-1h1v1h1v-3h2v1h1v-1h1v1h1v3h1v-3h1v-2h1v-1h1v1h1v1h1v-1h1v-3h1v-1h1v2h1v-5h1v5h1v1h1v3h1v-5h1v2h1v-1h1v-2h1v-2h1v-7h1v11h1v3h1v-1h1v-1h2v-1h1v-2h1v-4h1v2h1v1h1v-4h1v3h1v3h1v-5h1v2h1v-3h1v1h1v1h1v-1h1v-1h1v2h1v2h1v-4h1v1h3v-4h1v-1h1v6h1v1h1v-2h1v-1h1v-2h1v-3h1v2h1v2h2v-2h2v-1h1v2h1v-1h1v-9h2v8h1v-1h1v-1h1v2h1v-1h1v-2h1v1h1v-3h1v3h1v-2h1v3h1v-1h1v1h1v-4h1v4h1v-2h1v1h1v1h2v1h2v-2h1v-3h1v-1h1v-3h1v2h1v-2h1v5h1v-5h1v3h1v1h1v-2h1v-1h1v6h1v-8h2v1h1v-2h1v4h2v-2h1v-1h1v-2h1v5h1v-6h1v-2h1v6h1v-1h1v1h1v1h1v-3h1v3h1v-2h1v-1h2v-2h1v2h1v1h1v-3h1v-1h1v3h1v-4h1v1h2v1h1v-2h1v-1h1v2h1v-5h1v1h2v5h1v-4h1v3h1v2h1v-1h1v1h1v-10h1v2h1v2h1v4h1v-4h1v3h1v-3h1v1h1v-1h1v-1h1v2h1v2h1v-4h1v2h1v-1h2v1h1v-3h1v3h2v-4h1v2h1v-1h1v-2h2v-6h1v8h1v-1h2v-7h1v7h1v-2h1v-1h1v-1h1v-1h1v5h1v1h1v-5h1v-2h1v-2h1v-2h2v-6h1v14h1v-3h1v3h1v-1h1v1h1v-1h1v2h1v-3h1v-1h1v5h1v-10h1v4h2v3h1v2h1v-4h1v1h2v1h1v-6h1v3h1v-13h1v8h1v7h1v-20h1v16h1v2h1v-5h1v-8h1v15h1v-3h2v-1h2v-6h1v4h1v-10h1v8h1v3h3v2h1v-2h1v3h1v-1h1v-1h1v-3h2v3h1v1h1v-5h1v1h1v1h1v-2h1v5h1v-4h1v1h1v-4h1v3h1v4h1v-3h1v2h1v-9h1v-3h1v11h1v2h1v-1h1v-2h2v-1h2v3h2v-2h1v1h1v-4h1v-7h1v8h1v-2h1v3h1v-7h1v5h1v3h1v-15h1v4h1v9h1v-4h1v2h3v2h1v-4h1v3h1v-4h1v-6h1v3h1v3h1v3h1v-3h1v-2h1v1h1v1h1v3h1v-2h1v2h1v-3h1v2h1v-8h1v4h1v-1h1v-18h1v17h1v2h1v-4h1v5h1v-3h1v4h1v1h2v-2h1v-2h1v1h1v-2h1v-3h1v5h1v-4h1v5h2v-2h1v-6h1v3h1v3h1v1h1v-1h2v-2h1v-1h1v-4h1v2h1v3h1v-5h2v1h1v5h1v-10h1v6h1v-1h1v2h1v1h1v2h1v-5h1v3h2v-3h1v1h1v-2h1v4h1v2h1v-2h1v1h1v-1h1v-2h1v-1h1v1h2v1h1v-6h1v4h1v-3h1v3h1v2h1v-6h1v5h1v-1h1v-1h2v-1h1v3h1v-1h1v2h1v-5h1v-2h2v3h1v1h1v-1h1v1h2v-6h1v-12h1v19h1v-3h1v1h1v4h1v-6h1v-1h1v1h1v-2h2v-11h1v6h1v8h2v-1h1v-7h1v4h1v3h2v4h1v-1h1v-3h1v-1h2v-1h1v2h1v-6h1v1h1v6h1v-3h1v-4h1v2h1v-2h1v4h1v-6h1v-10h1v13h1v2h1v2h1v-4h1v-5h1v4h1v-4h1v3h1v-2h1v1h2v-5h1v2h1v4h1v-5h1v7h1v-2h2v1h2v-4h1v3h1v2h1v-5h1v-5h1v2h1v-2h1v-5h1v10h1v-3h1v-10h1v10h1v3h1v2h1v1h1v-4h1v-2h1v1h1v1h1v1h1v2h1v-6h1v-3h1v6h1v-7h1v-5h1v9h1v2h1v-3h1v-1h1v4h2v1h1v-3h1v-9h1v6h1v4h1v-3h1v1h1v1h1v-1h2v-3h1v-1h1v5h1v-5h1v1h2v-2h2v-2h1v3h2v1h2v-2h1v2h3v-3h1v-3h1v4h1v4h1v-2h1v-1h3v-1h1v2h1v-2h1v1h2v-2h1v2h1v-3h1v-2h1v2h1v-1h1v4h1v-5h1v2h1v3h1v-2h1v-3h1v1h1v-2h2v4h1v1h1v-3h1v-22h1v23h1v-4h1v2h1v1h1v-3h1v-2h1v-4h1v1h1v-4h1v6h1v7h1v-3h1v-3h1v4h1v-4h1v2h1v2h1v-2h1v-3h1v-3h1v-7h1v11h1v2h1v-1h1v-2h1v3h1v2h1v-1h1v-2h1v-13h1v12h1v1h1v1h1v-1h1v-3h2v4h1v-2h2v-2h1v-1h1v4h3v-1h1v-1h1v-5h1v4h1v4h1v-1h1v-3h1v-2h1v2h1v3h1v-2h2v2h1v-3h1v1h1v-4h2v4h2v-1h1v3h1v-4h1v-2h3v4h1v1h1v-4h1v-2h1v4h1v2h1v-5h1v2h1v-2h1v-1h1v7h1v-2h1v-2h1v1h1v-3h2v-2h1v-1h1v8h1v-6h1v-4h1v8h2v-3h1v-4h4v2h1v-5h1v4h1v-2h1v-1h1v3h1v2h1v1h1v3h1v-2h1v-1h1v-4h1v2h1v-1h1v-14h1v6h1v13h1v-10h1v3h1v-3h1v4h1v2h2v-3h1v-3h1v-1h1v5h2v-2h2v-1h1v1h1v2h1v-1h1v-2h1v1h1v-1h1v-3h1v5h1v-9h1v5h1v4h1v-2h1v-3h1v1h1v3h1v-1h1v-4h1v1h1v4h1v-4h1v6h1v-2h1v-6h1v5h3v4h1v-2h1v-5h1v2h1v1h1v-3h1v-2h1v-1h1v-5h1v6h1v2h1v-1h1v1h1v2h1v-1h2v-6h1v3h1v-2h1v-1h1v3h1v5h1v-6h1v2h1v2h1v-2h1v-2h1v-3h1v2h1v-1h1v3h1v-2h1v-3h1v2h1v-2h1v1h1v2h1v1h1v2h1v2h1v-1h1v-3h2v3h1v-7h1v3h1v1h1v-4h1v-3h1v8h1v-1h1v1h1v-1h1v-5h1v2h1v-1h2v4h2v-3h1v-1h1v-1h1v-7h1v10h1v1h1v-6h1v1h1v-5h1v8h1v-6h1v5h2v-3h1v-3h1v5h1v4h1v-4h1v1h1v-5h1v1h1v1h1v1h1v-2h1v7h1v-4h1v-3h1v2h1v4h2v-1h1v-5h1v1h2v1h1v2h1v-1h1v-7h1v4h1v5h1v-9h1v6h1v-2h2v3h1v1h1v1h1v-8h2v2h1v1h1v-3h1v3h1v2h1v-10h1v-6h1v17h1v-4h1v-1h1v1h1v1h1v-2h1v-4h1v7h3v-8h1v7h1v-4h1v-3h1v7h1v-1h1v-1h1v-1h1v-1h1v1h1v-2h1v-4h1v4h1v1h1v1h2v-1h1v3h1v1h1v-4h2v3h1v-4h1v-1h1v3h1v-8h1v5h1v-1h1v-4h1v2h1v4h1v-2h2v3h1v2h1v-9h1v7h1v-3h1v3h1v-3h1v-2h1v2h3v3h1v-3h1v-5h1v3h1v-3h1v2h2v1h2v5h1v-3h1v-8h1v5h1v4h1v-3h1v-2h1v5h1v1h1v-1h1v-2h2v3h1v-2h1v-2h1v-1h1v4h1v-4h1v5h1v-5h1v-14h1v6h1v7h1v-1h1v-10h1v13h1v-6h1v-1h1v4h3v5h1v-5h1v-4h1v2h1v6h1v-3h1v2h1v-5h1v6h1v-5h1v6h1v-2h1v-15h1v11h1v3h1v-1h1v7h1v-6h1v-3h1v5h1v2h1v-7h1v-7h1v4h1v4h1v-3h1v-4h1v7h1v1h1v-7h1v8h1v-7h1v-1h1v4h1v1h1v1h1v1h1v1h1v-2h1v-9h1v-8h1v8h1v1h1v3h1v-1h1v5h1v-2h2v-6h1v-2h1v9h1v3h1v-3h1v-1h1v-3h1v-1h1v2h1v-2h1v1h1v-2h1v11h1v-5h1v-2h1v-10h1v4h2v5h1v-2h1v1h1v7h1v-11h1v-16h1v10h1v4h1v5h1v4h1v-1h2v-3h1v-5h1v4h1v7h1v-3h1v1h1v-6h1v2h2v2h1v-3h1v-2h1v-10h1v9h1v8h1v1h1v2h1v-7h1v-8h1v10h1v4h1v2h1v-9h1v-3h1v5h1v2h1v-13h1v6h1v7h1v1h1v1h1v-12h1v8h1v-5h1v11h1v-12h1v2h1v3h1v-8h1v5h1v2h1v-6h1v12h1v-3h2v-5h1v5h1v-4h1v3h2v-2h1v-1h1v7h1v-31h1v13h1v13h1v1h1v3h1v-2h2v-12h1v9h1v-1h1v7h1v-5h1v-4h1v3h1v-3h1v5h1v-3h1v-5h1v-2h1v5h1v-2h1v-6h1v15h1v-10h1v-2h1v5h1v-9h1v8h1v-4h1v7h2v-1h1v-4h1v7h1v13h-1v-4h-1v1h-1v7h-1v-7h-1v2h-1v-6h-1v-1h-1v10h-1v12h-1v-21h-1v9h-1v-3h-1v-3h-1v-4h-2v2h-1v5h-1v2h-1v1h-1v3h-1v-9h-1v2h-1v-1h-2v1h-1v1h-1v-1h-1v5h-1v-5h-1v3h-2v-4h-1v3h-1v4h-1v-9h-1v-3h-1v1h-1v7h-1v3h-1v-4h-1v3h-2v-3h-3v-1h-1v3h-2v7h-1v-6h-1v-2h-1v3h-1v-4h-1v6h-1v-3h-1v-2h-1v-1h-1v-1h-1v1h-1v6h-1v-6h-1v1h-1v-3h-1v1h-1v10h-1v-1h-1v-10h-1v-2h-1v3h-1v3h-1v1h-1v3h-1v-5h-1v-7h-1v4h-1v1h-1v7h-1v-2h-1v-1h-1v3h-1v5h-1v-11h-1v3h-1v-1h-1v-1h-1v4h-1v-4h-3v-2h-1v5h-1v-6h-1v4h-1v-3h-1v5h-1v2h-1v3h-1v-11h-1v1h-1v-3h-1v4h-1v4h-1v12h-1v-6h-1v-1h-1v-10h-1v-2h-1v10h-1v-5h-1v5h-1v1h-1v-9h-1v4h-1v3h-1v-7h-1v-4h-1v6h-1v4h-1v-3h-1v-2h-2v3h-1v-6h-1v3h-1v4h-1v2h-1v-2h-1v1h-1v-5h-1v4h-1v-2h-1v-3h-1v7h-1v14h-1v-14h-1v1h-1v-1h-1v1h-1v-3h-1v8h-1v-6h-1v-5h-1v3h-1v3h-1v-1h-2v2h-1v1h-1v-2h-1v-2h-1v3h-1v-2h-1v7h-1v-1h-1v2h-1v-8h-1v2h-1v4h-1v-2h-1v2h-1v-5h-1v1h-1v1h-1v1h-1v-5h-1v3h-1v-6h-1v2h-1v6h-1v3h-1v-8h-1v3h-1v5h-1v-6h-1v-2h-1v2h-1v6h-1v-7h-1v4h-1v-1h-1v-2h-1v6h-1v2h-1v-6h-1v1h-1v-3h-1v2h-1v2h-1v-2h-2v2h-1v2h-1v-1h-1v-2h-1v-1h-1v4h-2v-8h-1v1h-1v-3h-1v9h-1v-2h-1v2h-1v-2h-1v-3h-1v-1h-1v3h-2v-2h-1v4h-1v-3h-1v2h-1v-1h-1v3h-1v-3h-1v3h-1v-2h-1v-1h-1v2h-1v2h-1v-7h-1v8h-1v-2h-1v-1h-1v2h-1v1h-1v-1h-1v-3h-2v4h-1v2h-1v-5h-1v3h-1v-2h-1v4h-1v-8h-1v-1h-1v9h-1v11h-1v-17h-1v5h-1v-2h-1v3h-1v-4h-1v3h-1v-3h-1v13h-1v-11h-2v3h-1v-3h-1v1h-1v-1h-1v2h-1v-1h-1v-2h-1v1h-1v5h-1v-6h-1v1h-1v5h-1v-5h-1v-1h-1v4h-2v1h-1v4h-1v-1h-1v-1h-1v-3h-1v-3h-2v5h-1v1h-1v-1h-1v-3h-1v3h-1v2h-1v-4h-1v1h-4v1h-1v2h-1v10h-1v-12h-1v-2h-2v6h-1v-4h-1v-3h-1v4h-1v-4h-1v-2h-1v8h-1v-1h-1v4h-2v-12h-1v5h-1v4h-1v-1h-1v-4h-1v5h-1v-4h-1v8h-1v-7h-1v3h-1v-5h-1v1h-2v3h-1v-1h-2v7h-1v-1h-3v-8h-1v5h-1v1h-1v-2h-1v3h-1v-2h-1v-2h-1v10h-1v-6h-1v1h-1v-1h-1v-2h-1v-1h-1v3h-1v3h-1v-4h-1v1h-1v-5h-1v6h-1v-5h-1v1h-1v-1h-1v6h-1v-3h-1v-4h-1v1h-1v5h-1v-4h-1v6h-1v5h-1v-7h-1v-1h-1v1h-2v-3h-1v2h-1v2h-1v3h-1v-3h-1v1h-1v1h-1v-3h-1v-4h-1v18h-1v-9h-1v1h-1v-4h-1v1h-1v1h-1v1h-1v3h-1v-7h-1v8h-1v-2h-1v-3h-1v-2h-1v1h-1v4h-1v-2h-2v-2h-1v1h-1v-1h-1v-5h-1v5h-1v2h-1v-1h-1v3h-1v2h-1v-5h-2v2h-1v-2h-1v3h-1v-2h-1v-3h-1v-1h-1v12h-1v-5h-1v-3h-2v1h-1v1h-2v-2h-1v2h-1v-5h-1v4h-1v1h-1v-3h-1v2h-1v1h-2v2h-1v-1h-1v1h-1v-1h-1v-2h-1v2h-1v2h-1v1h-1v1h-1v-1h-2v-1h-1v-3h-1v3h-1v-4h-1v4h-1v2h-1v6h-1v-14h-1v2h-2v2h-2v2h-3v4h-3v-6h-1v3h-1v-2h-1v4h-1v-1h-1v5h-1v-3h-1v-1h-1v-1h-1v-2h-1v2h-3v1h-2v4h-1v-3h-1v-2h-1v-2h-1v3h-1v1h-1v-1h-1v2h-2v-1h-2v-2h-1v2h-1v2h-1v-2h-1v-1h-1v-2h-1v7h-1v-5h-1v-1h-1v3h-1v-2h-1v1h-2v-1h-1v2h-1v3h-1v-2h-1v1h-1v3h-1v-5h-2v7h-1v-7h-1v4h-1v-4h-1v2h-1v3h-1v4h-1v7h-1v-13h-2v-2h-1v-1h-1v1h-1v1h-1v2h-1v-6h-1v6h-1v-4h-1v3h-1v2h-1v2h-1v-1h-1v-5h-1v4h-1v-1h-2v-1h-1v7h-1v-3h-1v-4h-1v4h-1v-5h-1v2h-1v2h-1v-3h-1v1h-2v3h-1v4h-1v-7h-2v4h-1v-3h-1v-2h-1v2h-1v-1h-1v2h-1v2h-1v-1h-1v-1h-1v4h-2v-5h-1v1h-1v1h-1v-1h-1v5h-1v-2h-1v-1h-1v-1h-2v3h-1v-2h-1v1h-1v2h-1v1h-1v2h-1v-2h-1v1h-1v-2h-1v2h-1v-5h-1v2h-1v4h-1v-4h-1v5h-1v-6h-1v14h-1v-9h-1v-3h-1v-4h-1v5h-1v-1h-2v-2h-1v7h-1v-3h-1v1h-1v1h-3v-1h-3v-4h-1v-1h-1v7h-1v3h-1v-4h-1v-1h-1v2h-1v1h-1v3h-1v-2h-1v-2h-1v-2h-1v7h-1v1h-1v-7h-1v5h-1v-2h-2v-2h-1v1h-1v1h-1v1h-1v-1h-1v-1h-1v1h-1v-1h-1v-2h-1v3h-2v-3h-2v-2h-1v5h-1v4h-1v-4h-1v3h-2v4h-1v-4h-1v5h-1v-4h-2v1h-1v-2h-1v-2h-1v8h-1v7h-1v-16h-1v4h-1v-4h-1v2h-1v3h-1v3h-1v-1h-1v-2h-1v-1h-1v1h-1v3h-1v2h-1v-7h-1v3h-1v2h-1v-1h-1v1h-1v-1h-1v-2h-1v4h-1v-2h-1v2h-1v-1h-1v3h-1v1h-1v8h-1v-9h-1v-3h-1v3h-1v-5h-1v7h-1v-1h-1v-1h-1v-5h-1v3h-1v1h-1v3h-1v-5h-1v1h-1v2h-1v2h-1v1h-2v-2h-1v-3h-1v5h-1v-2h-1v6h-1v-3h-1v-1h-1v1h-1v-8h-1v2h-1v2h-1v3h-1v-1h-1v1h-1v-3h-1v1h-1v3h-1v-2h-1v3h-2v-2h-2v1h-1v-1h-1v-1h-1v4h-1v-3h-1v-1h-1v6h-1v-1h-1v-4h-1v2h-2v9h-1v-3h-1v-5h-1v-3h-1v2h-1v-1h-1v1h-1v-1h-1v6h-1v-6h-1v3h-1v-1h-1v1h-1v-2h-1v4h-1v-2h-1v2h-1v-3h-1v1h-1v1h-1v-1h-2v6h-1v-1h-1v-2h-1v-2h-1v4h-1v-5h-1v4h-1v12h-1v-13h-1v3h-1v-5h-1v2h-1v-2h-1v-2h-1v3h-1v3h-1v-2h-1v1h-1v2h-2v-2h-4v-1h-1v2h-1v-1h-1v1h-1v2h-1v1h-1v-3h-1v3h-1v-3h-1v4h-1v-5h-2v4h-1v-2h-1v3h-2v-4h-2v1h-1v1h-4v-1h-2v2h-3v-1h-1v6h-1v-3h-1v5h-1v8h-1v-6h-1v5h-1v-14h-2v4h-1v-2h-1v5h-1v-2h-1v-4h-1v2h-1v2h-1v-2h-1v5h-1v-2h-1v-1h-1v-5h-1v3h-1v2h-1v-3h-1v3h-1v-2h-1v-3h-1v3h-1v10h-1v-4h-1v-4h-1v10h-1v-9h-1v-2h-2v-1h-1v2h-2v-2h-1v5h-1v-2h-1v1h-2v-1h-1v-2h-1v2h-1v-1h-1v3h-1v-4h-2v5h-1v-2h-3v9h-1v-8h-1v-2h-1v2h-1v-1h-1v3h-1v-1h-1v1h-1v-4h-1v2h-2v2h-1v-3h-1v3h-1v-2h-1v2h-1v1h-1v-1h-1v-1h-1v2h-1v-1h-1v-1h-2v4h-1v-1h-1v-2h-1v1h-2v4h-1v-3h-1v-1h-1v2h-1v-3h-1v-1h-1v6h-1v13h-1v-9h-1v-3h-1v-2h-1v1h-1v-3h-1v1h-1v2h-1v-2h-4v-1h-1v5h-1v-4h-1v4h-1v2h-1v-5h-1v4h-1v3h-1v-3h-1v-3h-1v1h-1v-2h-1v2h-1v-1h-1v2h-1v-1h-1v4h-1v-3h-2v1h-2v2h-1v1h-1v-5h-1v3h-1v-1h-1v3h-1v-2h-1v1h-1v-1h-1v2h-2v-1h-1v-4h-1v8h-1v-2h-1v1h-1v-3h-1v2h-1v2h-1v-3h-2v1h-1v2h-1v-2h-1v1h-1v2h-1v-5h-1v5h-1v-3h-1v2h-1v1h-2v4h-1v-4h-1v-2h-1v1h-1v2h-1v4h-1v-2h-1v10h-1v-12h-1v-1h-1v1h-1v2h-1v-5h-1v4h-1v-3h-1v21h-1v-8h-1v-4h-1v-3h-2v-2h-2v1h-1v2h-1v-1h-1v-1h-2v-1h-1v2h-1v4h-1v-2h-1v-1h-1v1h-1v1h-1v-2h-1v-1h-1v1h-1v2h-1v3h-1v-3h-2v1h-1v-2h-2v-1h-1v1h-1v7h-1v-3h-1v-1h-1v1h-1v-6h-1v7h-1v-1h-1v3h-1v-4h-1v5h-1v-7h-1v2h-1v1h-1v5h-1v1h-1v-6h-1v3h-1v-1h-1v2h-1v-1h-1v-1h-1v2h-1v-2h-2v2h-1v1h-1v2h-2v-3h-2v1h-1v-3h-2v3h-2v1h-1v2h-1v-2h-1v1h-1v1h-1v-1h-1v6h-1v-4h-2v2h-3v-2h-1v-4h-1v6h-1v-1h-1v-2h-2v5h-1v9h-1v-10h-3v-2h-3v4h-1v3h-1v5h-1v-8h-1v1h-1v-1h-1v1h-2v-2h-1v1h-1v-1h-1v-1h-1v4h-1v-1h-2v1h-2v1h-1v-2h-1v3h-2v-3h-1v4h-2v1h-2v1h-1v-1h-1v2h-1v-3h-1v-3h-1v4h-1v-1h-2v1h-1v2h-1v-1h-1v-1h-1v1h-2v3h-1v-4h-1v3h-1v-3h-1v2h-1v2h-1v-3h-1v1h-1v2h-1v-3h-1v2h-3v4h-1v1h-1v-3h-2v-1h-1v3h-1v1h-1v-1h-1v-2h-1v-1h-1v1h-1v1h-1v2h-1v1h-2v1h-1v-2h-2v-1h-1v2h-1v1h-1v1h-1v1h-1v-1h-1v1h-2v3h-1v-4h-2v-1h-2v2h-1v-1h-2v3h-1v3h-1v-6h-1v2h-1v-1h-1v1h-1v1h-1v2h-1v-2h-2v1h-1v2h-1v-3h-2v2h-2v1h-1v1h-2v-2h-1v4h-1v-3h-1v1h-1v-1h-1v-1h-1v5h-1v-1h-1v-1h-1v2h-2v1h-1v2h-1v-1h-2v-2h-1v-1h-1v1h-1v3h-1v-2h-1v-1h-1v-1h-1v3h-2v1h-1v2h-1v-1h-1v-4h-1v1h-1v6h-1v3h-1v-8h-1v7h-1v2h-1v-4h-1v1h-1v2h-1v-5h-1v3h-1v-1h-2v1h-1v-1h-1v-1h-1v3h-1v5h-1v-5h-1v-2h-1v1h-1v1h-1v-1h-2v2h-1v1h-2v-1h-1v3h-1v-2h-1v-1h-1v2h-2v-3h-1v1h-2v4h-1v-2h-1v-1h-1v11h-1v-7h-2v1h-1v-3h-1v1h-4v2h-1v1h-1v-1h-1v1h-1v1h-2v-1h-1v3h-1v-1h-1v-5h-1v1h-1v1h-1v2h-1v2h-1v1h-1v-4h-1v1h-2v9h-1v-6h-1v-3h-1v1h-1v2h-1v-1h-1v1h-1v2h-1v-1h-1v2h-1v-1h-2v1h-1v-2h-1v1h-1v2h-1v1h-1v-2h-1v-1h-1v1h-1v1h-1v-1h-2v1h-1v-1h-1v-1h-1v2h-1v1h-1v3h-1v-2h-1v3h-1v-1h-1v-2h-1v2h-2v-1h-1v-1h-1v1h-1v1h-1v2h-1v-3h-1v6h-1v-3h-1v1h-1v-1h-1v-1h-3v-3h-1v4h-1v2h-1v-1h-2v1h-1v1h-1v-3h-1v4h-1v2h-1v-2h-1v1h-1v-1h-1v-2h-1v2h-1v-2h-1v3h-2v4h-1v-2h-1v5h-1v-4h-1v-3h-1v-1h-1v1h-2v3h-1v2h-1v-2h-1v-2h-1v2h-6v3h-1v-3h-1v4h-3v1h-2v-3h-1v3h-1v2h-1v-5h-1v4h-1v1h-1v-3h-1v-1h-1v2h-1v-1h-1v-1h-1v4h-1v-1h-1v-1h-1v-1h-1v3h-1v3h-1v-3h-1v2h-1v1h-1v-1h-1v4h-1v-5h-1v2h-1v1h-1v-2h-1v-1h-1v1h-1v3h-3v-2h-1v1h-1v-2h-1v3h-1v-3h-1v2h-1v3h-1v-3h-1v1h-4v2h-1v3h-1v-3h-2v-1h-1v-1h-1v1h-1v2h-1v1h-2v-2h-2v1h-1v-1h-1v1h-1v-1h-1v1h-2v4h-1v-3h-2v1h-4v-1h-1v2h-1v1h-1v-3h-1v2h-1v1h-1v-2h-1v3h-2v1h-1v-2h-1v-2h-1v2h-1v1h-1v-3h-1v1h-1v1h-1v1h-1v2h-2v2h-1v-3h-1v4h-1v-4h-1v1h-3v-1h-1v5h-1v-4h-1v4h-2v-2h-1v2h-1v-2h-2v5h-1v-4h-1v1h-1v1h-1v-2h-4v2h-1v-1h-2v1h-1v3h-1v-1h-1v-2h-2v4h-1v-4h-1v3h-1v-1h-1v-1h-3v1h-2v-1h-1v2h-1v1h-1v-3h-1v2h-1v1h-4v1h-1v1h-2v-1h-1v1h-1v-2h-1v2h-1v-1h-1v1h-3v-1h-2v2h-1v-1h-1v1h-1v2h-1v-1h-1v1h-1v-1h-1v1h-1v1h-1v-1h-3v2h-1v-1h-2v1h-2v-1h-1v1h-1v1h-1v1h-1v-5h-1v2h-1v2h-1v-1h-1v4h-1v-3h-1v-1h-1v1h-1v7h-1v-4h-1v-2h-1v-1h-2v5h-1v-2h-1v1h-1v-1h-2v1h-1v2h-1v-2h-1v-1h-1v1h-1v-2h-1v3h-1v-2h-1v-1h-1v2h-1v1h-2v1h-2v1h-2v1h-1v-1h-1v1h-3v1h-1v-2h-2v2h-1v-3h-1v-1h-1v2h-3v1h-2v1h-1v-1h-3v3h-1v-1h-1v-1h-1v4h-1v3h-1v-4h-1v3h-1v-5h-1v2h-1v1h-2v-3h-1v1h-1v3h-1v-1h-2v-2h-1v1h-1v2h-1v2h-1v-1h-1v3h-1v-4h-1v2h-3v-3h-2v1h-1v3h-1v-1h-1v1h-1v-2h-1v2h-1v3h-1v-3h-2v1h-1v-1h-3v1h-1v-1h-3v3h-2v-1h-1v4h-1v-3h-1v-1h-1v4h-1v-3h-2v1h-1v2h-1v-3h-1v1h-1v2h-1v-1h-1v1h-1v1h-1v2h-1v2h-1v-3h-3v-1h-1v-1h-1v1h-1v2h-1v-1h-1v-1h-2v1h-1v2h-1v-1h-1v3h-1v-2h-1v-2h-1v-1h-1v3h-1v2h-2v1h-1v-2h-1v2h-2v3h-1v-1h-1v-1h-1v1h-1v-2h-1v2h-2v1h-2v1h-1v-1h-1v1h-1v-1h-2v-1h-1v2h-1v2h-1v-1h-1v-2h-1v6h-2v-3h-1v1h-1v5h-1v-1h-1v-2h-1v1h-1v3h-1v-3h-4v1h-1v1h-1v-3h-1v1h-1v1h-2v2h-1v-1h-1v2h-1v1h-1v3h-1v-2h-1v-1h-1v-2h-1v1h-1v2h-1v-3h-1v4h-1v-2h-1v1h-1v3h-1v-1h-1v-1h-1v3h-1v1h-1v-4h-1v1h-1v4h-1v-3h-2v2h-1v-1h-1v1h-1v3h-1v-2h-1v-1h-1v2h-1v-1h-1v-3h-1v1h-1v2h-1v1h-1v1h-2v1h-2v-3h-1v2h-1v2h-1v-1h-1v2h-1v1h-1v-1h-2v-4h-1v4h-1v-1h-1v1h-1v1h-2v-2h-1v2h-1v1h-1v-1h-1v2h-2v-1h-5v-1h-1v3h-2v2h-1v-3h-1v-1h-1v4h-1v-2h-1v-1h-1v3h-1v-1h-1v-1h-1v3h-1v-2h-1v3h-1v-1h-2v-3h-1v3h-1v1h-1v-2h-1v2h-1v1h-1v1h-4v-1h-1v3h-1v-4h-1v2h-1v1h-2v3h-1v-3h-1v-2h-1v1h-1v4h-1v-1h-1v-1h-1v2h-1v1h-1v-2h-3v1h-1v-2h-1v2h-1v1h-1v-1h-1v2h-1v-3h-1v3h-1v1h-2v1h-1v2h-1v-1h-1v-2h-1v-1h-1v1h-2v2h-1v-2h-1v1h-1v3h-1v5h-1v-5h-1v-3h-1v2h-1v-3h-1v3h-1v2h-1v-2h-1v-1h-1v2h-1v-1h-1v-1h-1v3h-1v-1h-1v2h-1v2h-2v-1h-1v1h-1v2h-1v2h-1v-4h-2v5h-1v-1h-1v-2h-1v-3h-1v1h-1v3h-1v3h-1v-3h-1v-2h-1v1h-1v-1h-1v3h-1v5h-1v6h-1v-11h-1v2h-1v3h-1v3h-1v-4h-1v-2h-1v28h-1v-20h-1v-2h-1v1h-1v-1h-1v2h-1v13h-1v-8h-1v-10h-1v5h-1v1h-1v5h-1v-8h-1v10h-1v-4h-1v-2h-2v-1h-1v-1h-1v2h-3v-2h-1v4h-2v-4h-1v10h-1v-10h-1v16h-1v-4h-1v-2h-1v-1h-1v-5h-2v8h-1v4h-1v-5h-1v2h-2v-2h-2v-7h-1v3h-1v1h-1v-1h-1v9h-1v-5h-1v-7h-1v4h-1v4h-1v-1h-1v-1h-1v-1h-1v4h-2v-5h-1v6h-1v-1h-1v1h-1v4h-1v-6h-1v5h-1v24h-1v-20h-1v-7h-2v-2h-1v2h-1v7h-1v-2h-1v-8h-1v5h-2v2h-2v-1h-1v-3h-1v3h-2v-1h-1v2h-1v3h-1v-4h-1v3h-1v7h-1v15h-1v-7h-1v-8h-1v-11h-1v7h-1v-5h-1v-4h-1v8h-1v-2h-1v2h-1v-3h-1v2h-2v3h-1v-1h-2v8h-1v-4h-2v1h-1v-4h-1v3h-1v3h-1v7h-1v-2h-1v2h-2v-10h-1v-4h-1v2h-1v13h-1v-4h-1v-1h-1v-5h-1v1h-1v32h-1v1h-1v-2h-1v-29h-1v13h-1v-5h-1v-2h-1v5h-1v5h-1v-2h-1v3h-1v3h-1v8h-1v-4h-1v4h-2v1h-1v-3h-1v10h-1v6h-1v-3h-1v2h-1v5h-1v16h-4v4h-1v7h-1v6h-2v7h-1v3h-1v6h-1v8h-1v6h-1v6h-1v8h-1v9h-1v9h-1v6h-1v4h-3v3h-1v13h-1v-7h-1v-7h-1v4h-1v-5h-1v1h-1v1h-2v2h-1v-2h-1v5h-1v-4h-1v-1h-3v3h-1v-2h-1v-3h-1v5h-2v-2h-1v-3h-1v3h-1v1h-1v3h-1v-5h-2v3h-1v1h-1v-1h-1v-1h-1v-1h-1v-1h-2z"/>
<path fill="#00f" d="M388 1569h1v6h1v3h1v-2h1v-3h1v7h1v-2h1v-4h1v3h1v-1h1v-2h1v3h1v-5h1v-2h1v8h1v-6h1v4h1v-5h1v3h1v3h1v-1h1v-3h1v4h2v-3h3v2h1v3h1v-1h1v-1h1v-4h2v-9h1v-10h1v-5h1v-10h1v-7h1v-9h1v-7h1v-8h1v-6h1v-8h1v-6h1v-5h1v-4h1v-6h1v-8h1v-5h2v-1h1v-3h1v-4h1v-2h1v-7h2v-2h1v1h1v-2h1v-2h1v3h1v-15h1v-5h1v-7h1v13h1v-8h1v-3h2v-10h1v3h1v-1h1v-1h1v-1h1v1h1v5h1v-4h1v6h1v1h1v-5h3v-6h1v-5h1v3h1v-9h1v3h1v1h1v-15h1v16h1v9h1v-12h1v9h1v-2h1v-5h1v-4h1v11h1v-3h1v3h1v-5h2v4h1v-4h1v-3h1v3h1v-6h1v3h1v-18h1v14h1v2h1v11h1v-20h1v10h1v3h1v1h1v-8h1v-18h1v18h1v2h1v-4h1v7h1v3h1v-5h1v2h1v-11h1v4h1v6h1v3h1v-9h1v-3h1v-4h1v5h1v3h1v3h1v-1h1v7h1v-12h1v-4h1v-5h1v10h1v-4h1v1h1v6h1v-2h1v7h1v-1h1v-15h1v9h1v-3h1v-6h1v4h1v-3h1v5h1v9h1v-6h1v4h1v-2h1v2h1v-4h1v1h1v-10h1v3h1v-2h1v-4h1v7h1v3h2v-9h1v-5h1v7h1v-2h1v-3h1v9h1v-2h1v-5h1v8h1v-7h1v-3h1v3h1v10h1v5h1v-8h1v-7h1v-11h1v8h1v-5h1v9h1v-9h1v8h2v-10h1v11h1v-1h1v2h1v3h1v3h1v-6h1v5h2v-8h1v4h1v-15h1v10h1v-3h1v-1h1v4h1v-8h1v-6h1v15h1v-4h1v-6h1v-8h1v11h1v9h1v-1h1v-5h1v4h1v1h1v-7h1v-2h1v9h1v-13h1v7h1v4h1v-13h1v5h1v6h1v-2h1v-2h1v2h1v-11h1v8h1v-3h1v4h1v-7h1v5h1v-6h1v-4h1v6h1v2h1v-5h1v6h1v-4h1v-18h1v17h1v4h1v1h1v-5h1v-5h1v5h1v7h1v-5h1v-4h1v-2h1v4h2v-1h1v2h1v1h1v1h1v4h1v-5h1v-5h1v-6h1v9h2v6h1v-3h1v-2h1v-13h1v-1h1v10h1v1h1v-5h1v-2h1v13h1v-20h1v9h1v-4h1v11h1v-13h1v4h1v10h1v-7h1v8h1v-4h1v-18h1v10h1v2h1v5h1v-1h1v-3h1v4h1v-2h1v-2h1v2h1v-9h1v4h1v-2h1v-4h1v13h1v-2h2v-2h1v1h1v1h1v-2h1v6h1v-4h1v-6h1v2h3v-2h1v-6h1v11h1v-6h1v2h1v5h1v-8h1v5h1v2h1v-11h1v5h1v9h1v-1h1v-6h1v-7h1v8h1v-6h1v-1h1v6h1v-3h1v8h1v4h1v-19h1v-3h1v6h1v-1h1v4h2v-1h1v1h1v7h1v-1h1v-4h1v-6h1v3h1v-1h1v-8h1v5h1v-10h1v9h1v8h2v-16h1v12h2v-4h1v3h1v3h1v3h1v-3h1v-2h1v-1h1v-1h1v5h1v1h1v-3h1v4h1v-8h1v1h1v-4h1v-7h1v8h1v4h1v-3h1v3h1v5h1v-14h1v-3h1v8h1v2h1v2h1v-10h1v6h1v-1h1v1h1v-2h2v4h2v-6h1v10h1v-2h1v-2h1v-1h1v-3h1v4h1v-7h1v-2h1v6h1v2h2v-1h1v2h1v2h1v2h1v-14h1v-2h1v-1h1v2h1v2h1v-5h1v1h1v11h1v-9h1v6h1v-1h1v1h1v-11h1v11h1v-13h1v2h1v3h1v8h1v-13h1v10h1v2h1v-7h1v3h1v-3h1v6h1v-12h1v10h2v4h1v-7h1v5h1v4h1v2h1v-15h1v8h1v-4h1v6h1v-7h1v-2h1v1h1v1h3v-5h1v8h1v7h1v-19h1v11h1v-16h1v9h1v-2h1v-4h1v5h1v3h1v-6h1v-8h1v20h1v-9h1v5h2v-3h1v-5h1v8h1v-4h1v3h1v-6h1v3h1v-2h1v-5h1v2h2v7h1v-3h1v-6h1v7h1v5h1v-6h1v-5h1v-6h1v3h1v7h1v-7h1v5h1v-2h1v3h1v-6h1v3h1v1h1v-4h1v1h1v6h1v1h1v-8h1v3h1v-5h1v7h1v5h1v2h1v-13h1v5h1v1h1v-4h1v-1h1v3h1v3h2v-5h1v5h1v-5h1v-13h1v10h1v3h2v-10h1v4h1v-1h1v1h1v1h1v-1h1v11h1v-5h1v-7h1v5h1v-2h1v1h1v-1h1v4h1v-2h1v-7h1v11h1v-4h1v3h1v-8h1v-5h1v9h1v3h1v-3h1v-12h1v6h1v-8h1v17h1v1h1v-6h1v-1h1v8h1v-1h2v-5h1v-6h1v2h1v1h1v9h1v-10h1v-12h1v10h1v4h1v-3h1v9h1v-8h1v-5h1v8h1v-1h1v-1h1v5h1v-10h1v-6h2v9h1v-1h1v-5h1v5h1v5h1v-6h1v-5h1v8h1v-9h1v3h1v-4h1v9h1v1h1v-9h1v8h1v-2h3v3h1v-2h1v-2h1v-5h1v2h1v-10h1v10h1v2h1v-14h1v8h1v6h1v-1h1v-4h1v10h1v-11h1v-10h1v20h1v-1h1v2h1v1h1v-1h1v-1h1v-2h1v-9h1v1h1v-2h1v-3h1v4h1v-2h1v8h1v-2h1v-10h1v7h1v-4h1v9h1v-10h1v-1h1v-10h1v11h1v4h1v-3h1v-4h1v-4h1v3h2v4h1v3h1v5h1v-10h1v-5h1v-3h1v-3h1v17h1v-3h1v-3h1v2h1v-1h1v4h1v-10h1v15h1v-7h1v-5h1v7h1v-1h1v4h1v-6h1v3h1v2h1v-11h1v1h1v4h1v-9h1v8h1v-3h1v7h1v-10h1v4h1v4h2v1h1v-2h1v-3h1v-1h1v5h1v2h1v3h1v-8h1v1h1v-1h1v-8h1v3h1v3h1v-2h2v6h1v-8h1v-2h1v9h1v-3h1v-6h1v-3h1v9h1v-3h1v5h1v2h1v-3h1v-1h1v-11h1v10h1v-2h1v6h1v3h1v-5h1v-2h1v-12h2v8h1v5h1v-12h1v7h1v1h1v-1h1v-5h1v5h1v3h1v-1h1v4h1v-1h1v-5h1v-4h1v4h1v-3h1v6h1v1h1v-13h1v10h1v4h1v-24h1v9h1v11h1v-1h1v-3h1v3h1v-4h1v-4h1v4h2v-5h1v2h1v-3h1v8h1v-1h1v2h1v-5h1v2h1v-2h1v-3h1v-1h1v1h1v-1h1v-2h1v10h1v-4h1v-5h1v5h1v4h1v-5h1v1h1v-8h1v9h1v-3h1v-2h1v-7h1v7h1v4h1v-3h1v1h1v-12h1v12h1v-5h1v-3h1v2h1v-10h1v-4h1v4h1v4h1v6h1v8h1v-5h1v-2h2v-2h1v4h1v-3h1v-2h1v5h1v-1h1v3h1v-3h1v-3h1v2h1v-2h1v-7h1v10h1v-1h1v2h1v-3h1v-6h1v7h1v-4h2v-2h1v1h1v6h1v-2h1v-1h1v-11h1v-5h1v14h1v3h1v-8h1v-2h1v8h1v3h1v-8h1v3h3v-5h1v4h2v-1h1v-7h1v8h1v2h1v4h1v-5h1v-7h1v-2h1v9h1v-3h1v-1h1v-5h1v16h1v-8h1v-9h1v9h1v-1h1v-10h1v11h1v4h1v-7h1v1h1v-2h1v6h1v-11h1v7h1v-2h1v-1h2v-9h1v14h1v2h1v-6h1v-1h2v-11h1v11h1v-3h1v8h1v-3h1v-2h1v-3h1v6h1v-1h1v2h1v-7h1v-3h2v6h1v3h1v-6h1v1h1v-4h1v3h1v14h1v-3h1v-9h1v-1h1v-4h1v7h1v-1h1v-13h1v5h1v4h1v-5h1v4h1v5h1v-5h1v-1h1v1h1v-1h1v7h2v-7h1v1h1v7h1v-2h1v-4h1v-7h1v3h1v-3h1v3h1v7h1v-3h1v1h1v-1h1v5h2v-1h1v-5h1v-1h1v4h1v-5h1v5h1v-3h1v4h1v-3h1v2h2v-3h1v-2h1v8h2v-10h1v7h1v3h1v-1h1v-8h1v-1h1v-1h1v-1h1v4h2v6h1v-3h1v1h1v4h1v-9h1v-3h1v-2h1v7h1v4h1v1h1v-12h1v-1h1v8h1v-4h1v-4h1v7h1v-4h1v-1h1v4h1v-5h1v-4h2v6h1v5h1v-1h1v-9h1v3h1v5h1v-5h2v-7h1v14h1v-5h1v-3h1v2h1v-5h1v-4h1v6h1v-5h1v9h1v5h1v-4h1v-7h1v4h1v2h1v2h2v3h1v-4h1v-5h1v1h1v-1h1v3h1v-5h1v-5h1v3h2v6h1v1h1v-1h2v-11h1v7h2v-3h1v9h1v2h1v-12h1v7h1v-9h1v-1h1v-1h1v13h1v-4h1v2h1v-11h1v6h1v-3h1v2h1v3h1v-14h1v11h2v3h1v-4h1v-1h1v5h1v-1h1v-5h1v7h2v-10h1v-4h1v13h1v-9h1v-3h1v10h1v-7h1v1h1v3h1v-1h1v-5h1v9h1v-5h1v4h1v1h1v2h1v-2h1v-4h1v2h1v-3h1v-2h1v-7h1v8h1v5h1v-9h1v1h1v-1h1v-3h1v6h1v-11h1v8h1v3h2v3h2v-3h1v2h1v6h1v-4h1v-3h1v1h1v-6h1v5h1v4h2v-6h1v2h1v-3h1v-1h1v2h1v1h2v6h1v-2h1v-9h1v10h1v-2h1v1h2v-5h2v-4h1v5h1v-4h1v-5h1v4h1v8h1v-7h1v-5h1v4h1v6h1v-1h1v-3h1v-3h1v4h1v1h1v-1h2v-13h1v7h1v4h1v-2h1v6h1v-5h1v3h1v-10h1v5h1v-2h1v-6h1v5h1v1h1v2h1v5h1v-6h1v-4h1v-1h1v6h1v-9h1v9h1v-4h1v-2h1v3h1v3h1v3h1v-7h1v8h1v-7h1v4h1v2h1v1h1v-17h1v10h2v-2h1v5h1v1h1v-5h1v-11h1v-10h1v20h1v1h1v2h1v-2h1v6h1v-3h1v-1h1v2h1v-3h1v-1h1v-2h1v-16h1v18h1v-8h1v8h1v-15h1v8h1v4h1v3h1v1h1v-1h1v-4h2v2h1v3h1v-6h1v8h1v-3h2v-2h1v4h1v-4h1v-2h1v3h1v-7h1v6h1v1h1v-6h1v-9h1v9h1v7h1v-1h1v-14h1v8h1v3h1v-2h1v-1h1v6h1v1h1v-1h1v-5h2v3h1v-8h1v9h1v-8h1v3h1v7h1v-3h1v1h1v1h1v-4h1v2h1v1h1v3h1v-8h1v4h1v-12h1v10h1v-1h1v-6h1v-2h1v10h1v-1h1v-3h1v-10h1v13h1v-8h1v9h2v-7h1v3h1v-2h1v1h1v5h1v-2h1v1h1v-1h1v-5h1v5h1v10h1v-11h2v-1h1v3h1v-5h1v5h1v-4h1v-2h1v2h2v-3h1v3h2v-5h1v8h1v-4h3v-6h1v10h1v-6h1v-1h1v3h1v1h1v-4h1v-3h1v5h1v1h1v7h1v-6h1v-2h1v2h1v3h1v-5h1v-5h1v1h1v-8h1v10h1v-1h1v4h1v5h1v-4h1v3h1v-2h1v-3h1v1h1v-5h1v5h2v-2h1v1h1v3h1v-4h1v3h1v-2h1v5h1v-8h2v-1h1v-4h1v-4h1v12h1v3h1v-6h2v1h2v-1h1v-5h1v2h1v2h1v6h1v-3h1v4h1v-2h1v-3h2v5h1v-4h1v-5h1v1h1v-7h1v5h1v3h1v-6h1v-3h1v9h1v1h1v-2h1v6h2v-1h2v-9h1v7h1v-2h1v1h1v-1h1v-9h1v1h1v5h1v2h1v1h2v-7h1v5h1v-6h1v-2h1v1h2v6h1v-1h1v-5h1v-1h1v15h1v-8h1v-6h1v6h1v4h1v1h1v2h2v1h1v-8h1v5h1v-2h1v-4h1v5h1v-10h1v-5h1v3h1v14h1v-7h1v3h1v-3h1v2h1v6h1v-4h1v-5h1v-6h1v7h1v-3h1v10h1v-2h1v-5h1v6h1v-2h1v2h1v-4h1v2h1v2h1v-1h1v-7h1v3h1v2h1v-2h1v-8h1v8h1v-1h1v-1h1v-4h1v5h1v1h1v-1h1v2h1v-2h1v-2h1v7h1v-6h2v6h1v-5h1v-7h1v5h1v4h1v1h1v-1h2v-4h1v-6h1v6h2v-2h1v-3h1v3h2v-2h1v-5h1v7h1v-10h1v11h1v3h2v1h1v1h1v-1h2v-6h1v-2h1v4h1v3h1v-5h1v5h1v-4h1v-1h1v-1h1v-1h1v-5h1v5h1v-1h1v5h1v1h1v-1h1v-8h1v-3h1v2h1v6h1v-5h1v3h1v-4h1v-5h1v10h1v1h1v3h1v1h1v-4h1v-2h1v-5h1v7h1v-3h2v3h1v-3h1v-1h1v5h1v1h1v-6h1v-2h1v2h1v-1h1v-3h1v-1h2v-10h1v14h1v-4h1v-2h1v6h1v-9h1v13h1v-1h1v3h1v-8h1v3h1v-1h1v1h2v-6h1v4h1v-8h1v9h1v2h1v-9h1v8h1v-7h1v-3h1v2h1v-9h1v5h1v14h1v-11h1v5h1v1h1v2h1v-2h2v-2h1v6h1v-2h1v-12h1v6h1v-4h1v-3h1v8h1v1h1v1h2v-4h1v3h1v4h1v-6h1v7h1v-3h1v-5h2v11h1v-20h1v3h1v12h2v1h1v-2h1v-1h1v-3h1v-2h2v-5h1v3h1v8h1v-8h1v1h1v7h1v-9h1v8h1v1h1v-9h1v-5h1v10h1v-5h1v12h1v-3h2v-4h1v6h1v5h1v-7h1v-2h1v-9h1v1h1v3h1v-3h1v8h1v1h1v-4h1v1h1v-3h1v-11h1v15h1v-1h1v-2h1v2h1v-3h1v1h1v-4h1v7h1v-1h1v2h1v-3h1v-2h1v-2h1v-2h1v-1h1v5h1v-3h1v2h1v3h1v-2h1v-1h1v3h1v3h1v-7h1v3h1v-3h1v4h2v-4h1v2h1v-4h1v3h1v-3h1v4h1v-6h1v8h3v3h1v-6h2v-2h1v7h1v-4h1v3h1v-1h1v-3h1v-2h1v2h1v-2h1v-10h1v17h1v1h1v-1h1v-6h1v4h1v-5h1v5h1v1h1v-1h1v-7h1v5h1v-8h1v4h1v-1h1v1h1v9h1v-1h1v-4h1v-2h1v1h1v-1h1v1h1v5h1v-2h1v-1h1v-5h1v4h1v-12h1v9h1v5h1v-3h1v-1h1v2h1v-3h1v2h1v-6h1v1h1v10h1v-6h1v3h1v-1h1v-7h1v7h1v-7h1v13h1v-1h1v-6h1v-3h2v10h1v-18h1v1h1v10h1v-7h1v4h1v-6h1v7h2v-3h1v2h1v-1h1v-9h1v8h1v-6h1v12h1v1h1v-3h1v4h1v-11h1v12h1v-2h1v-10h1v6h1v-7h1v6h1v2h1v-3h1v3h1v-4h1v2h1v4h1v-1h1v-3h1v-2h1v3h1v-1h1v4h1v-6h1v3h1v-5h1v8h2v-5h1v3h1v-1h1v-1h1v-3h1v2h1v3h1v-1h1v1h1v-4h1v-5h1v4h1v-3h1v12h1v-22h1v21h1v-1h1v-2h1v-2h1v5h1v-15h1v12h1v-5h1v1h1v3h1v-5h1v13h1v-5h1v2h1v-6h1v5h1v-27h1v13h1v7h1v2h1v-10h1v8h1v-3h1v2h1v-2h1v5h1v-11h1v12h1v-1h1v-4h1v2h1v7h1v-4h1v-4h1v1h1v-3h1v-21h1v28h1v-2h1v1h1v-3h1v-10h1v4h1v6h1v-4h1v1h1v3h1v-2h1v4h1v-6h1v4h1v-7h1v-6h1v11h1v-4h1v-4h1v15h1v-7h1v-5h1v9h1v-5h1v4h1v3h1v1h1v-11h1v4h1v-5h1v16h1v-4h1v-4h1v-13h1v14h1v2h1v-4h1v-2h1v-1h1v-2h1v-6h1v5h1v-3h1v11h1v-11h1v10h1v-10h1v2h1v2h1v5h1v3h1v-11h1v5h1v-9h1v5h1v2h1v1h1v5h1v-10h1v2h1v11h1v-1h1v-11h1v10h1v4h1v-6h1v3h1v-6h1v2h1v-17h1v9h1v4h1v3h1v1h1v4h1v-12h1v-6h1v19h1v-16h1v8h1v-3h1v-6h1v10h1v2h1v-3h1v5h1v-8h1v5h1v6h1v-7h1v2h1v-10h1v-5h1v6h1v7h1v-4h1v4h1v-12h1v14h1v-3h1v1h1v-19h1v15h1v1h1v4h1v-4h1v-7h1v6h1v1h1v1h1v-1h1v4h1v-2h1v-2h1v1h1v10h1v-11h1v7h1v-1h1v-17h1v10h1v-7h1v9h1v-5h1v5h1v5h1v-7h1v5h1v-4h1v-1h1v4h1v-2h2v-5h1v8h1v-2h1v7h1v-10h1v7h1v-12h1v6h1v-7h1v2h1v6h1v10h1v-22h1v13h1v2h1v-10h1v-15h1v19h1v2h1v3h1v3h1v-8h1v4h1v-5h2v7h1v-3h1v-6h1v-1h1v1h1v3h1v6h1v3h1v-5h1v-4h1v9h1v-16h1v9h1v-3h2v5h1v-1h1v-25h1v22h1v3h1v-2h1v5h1v-1h1v-1h1v-3h1v-5h1v7h1v-7h1v-2h1v-3h1v-4h1v10h1v1h1v7h1v-2h1v2h1v-3h1v4h1v-3h1v-5h1v-3h2v2h2v5h1v5h1v-2h1v-3h1v4h1v-1h1v1h1v2h1v-5h1v4h1v-6h1v2h1v-10h1v3h1v4h1v5h1v1h1v-15h1v8h1v-12h1v5h1v7h1v-1h1v7h1v-7h1v2h1v7h1v-10h1v1h1v7h1v-3h1v-1h1v-12h1v-10h1v13h1v6h1v1h1v-1h1v3h1v4h1v-4h1v4h1v-5h1v6h2v-6h1v-4h1v-3h1v11h1v-4h2v-1h1v-2h1v4h1v-8h1v3h1v9h1v-13h1v4h1v4h1v4h1v2h1v-12h1v10h2v1h1v-12h2v6h2v-7h1v1h2v6h1v3h1v4h1v-6h1v-3h1v3h1v-4h1v-6h1v14h1v1h1v-10h1v8h1v-3h1v17h-1v9h-1v-9h-1v-3h-1v14h-1v-15h-1v-2h-1v-3h-1v2h-1v6h-1v5h-1v-11h-1v6h-1v-3h-1v-8h-1v8h-1v1h-1v1h-1v-1h-1v-3h-1v5h-2v3h-1v-9h-1v6h-1v9h-1v-12h-1v-1h-1v-3h-1v7h-1v-2h-1v-7h-1v5h-1v-1h-1v8h-1v6h-1v-10h-1v-1h-1v6h-1v-8h-1v13h-1v10h-1v-21h-1v6h-1v-3h-1v-3h-1v5h-2v1h-1v-15h-1v5h-1v1h-1v-5h-1v9h-1v-6h-1v7h-1v7h-1v-11h-1v-2h-1v8h-1v1h-1v6h-1v-7h-1v9h-1v-12h-1v6h-1v-10h-1v11h-1v-7h-1v6h-1v-4h-1v-7h-1v-3h-1v7h-1v2h-1v5h-1v-5h-1v2h-1v11h-1v-6h-1v7h-1v-9h-1v-1h-1v-4h-2v-6h-1v2h-1v9h-1v-4h-1v-8h-1v8h-1v1h-1v-3h-1v-1h-1v9h-1v-9h-1v-1h-1v7h-1v-7h-1v10h-1v-12h-1v3h-1v2h-1v8h-1v9h-1v-14h-1v15h-1v-14h-1v-5h-1v-4h-1v4h-1v6h-1v1h-1v-7h-2v-4h-1v5h-2v3h-1v3h-1v2h-1v-9h-1v10h-1v-8h-1v1h-1v-2h-1v3h-1v-6h-1v-3h-1v17h-1v-7h-1v-6h-1v4h-2v9h-1v-10h-1v-6h-1v1h-1v-8h-1v10h-1v-3h-1v16h-1v17h-1v-19h-1v-5h-1v-4h-1v-6h-1v1h-1v6h-1v4h-1v-7h-1v7h-1v-6h-1v4h-1v2h-1v-6h-1v-4h-1v8h-1v3h-1v-13h-1v12h-2v14h-1v-7h-1v-12h-1v12h-1v-3h-1v-13h-1v-1h-1v10h-1v-2h-1v-3h-1v7h-1v-2h-1v1h-1v-6h-1v3h-1v-2h-1v7h-1v-8h-1v-3h-1v9h-1v-5h-1v-4h-1v2h-1v8h-1v-9h-1v6h-1v-7h-1v11h-1v-6h-1v2h-1v-1h-1v-9h-1v-2h-1v5h-1v-2h-1v6h-1v5h-1v2h-1v-3h-1v-2h-1v6h-1v-5h-1v5h-1v-6h-1v-7h-1v11h-1v-2h-1v-6h-1v7h-2v-1h-2v-2h-1v3h-1v2h-1v3h-1v-9h-1v5h-1v-8h-1v5h-2v5h-1v-3h-1v-8h-1v9h-2v7h-1v-8h-1v4h-1v-6h-1v2h-1v-6h-1v1h-1v-4h-1v7h-1v1h-1v-4h-1v-1h-1v-2h-1v1h-1v7h-2v2h-1v-4h-1v-6h-1v12h-1v-6h-2v1h-1v-3h-1v6h-1v7h-1v-15h-1v2h-1v9h-1v2h-1v-9h-1v1h-1v-5h-1v3h-1v3h-1v-4h-1v1h-1v7h-1v13h-1v-22h-1v1h-1v1h-1v3h-1v-3h-1v2h-1v-5h-1v4h-1v4h-2v1h-1v-7h-1v6h-1v-11h-1v13h-1v-10h-1v2h-2v3h-1v-1h-1v-1h-1v-3h-1v1h-1v1h-1v7h-2v3h-1v-9h-1v4h-1v3h-1v4h-1v-10h-2v5h-1v4h-1v-2h-1v2h-1v-13h-1v10h-1v-5h-1v-2h-2v4h-1v-3h-1v4h-1v5h-1v-2h-1v-3h-2v1h-1v-4h-2v1h-1v6h-1v-3h-1v-4h-1v-2h-1v7h-1v-5h-1v4h-1v3h-1v-12h-2v3h-1v1h-1v1h-1v2h-1v-1h-1v-1h-1v9h-1v-1h-1v-3h-1v-6h-1v4h-1v1h-1v-6h-1v9h-1v-11h-1v4h-1v3h-1v-7h-1v10h-1v3h-2v-3h-1v-5h-1v8h-1v-5h-1v-1h-1v-2h-1v-1h-1v-3h-1v7h-2v-2h-1v4h-1v-5h-1v6h-1v1h-1v-7h-1v13h-1v-3h-1v-4h-1v5h-2v-1h-1v-8h-1v2h-1v6h-1v-16h-1v5h-1v4h-3v2h-1v4h-1v-5h-1v-1h-2v-1h-1v4h-1v-1h-1v1h-1v-4h-1v7h-1v-6h-1v2h-1v7h-1v-9h-1v-6h-1v9h-1v2h-1v-4h-1v5h-1v-6h-1v7h-1v-3h-1v-7h-1v16h-1v-12h-1v6h-1v-2h-1v4h-1v-5h-1v-5h-1v8h-1v-8h-1v3h-1v7h-1v2h-1v-12h-1v10h-1v-11h-1v-3h-1v6h-1v-2h-1v10h-1v-6h-1v7h-1v-9h-1v1h-3v4h-1v-2h-1v-4h-1v5h-1v5h-1v-12h-1v1h-1v6h-1v2h-1v-9h-1v14h-1v-13h-1v4h-1v-6h-1v15h-1v-6h-1v-6h-1v-1h-1v-4h-1v12h-1v-5h-1v-1h-1v-7h-1v15h-1v-6h-1v7h-1v-12h-1v11h-1v-1h-1v-2h-1v-1h-2v3h-1v-4h-1v-3h-1v-2h-1v6h-1v2h-1v-3h-3v2h-1v-7h-1v2h-1v3h-1v7h-1v-9h-1v-1h-1v3h-1v1h-1v12h-1v-15h-1v5h-1v-4h-1v1h-1v-3h-1v4h-1v2h-1v-4h-1v-5h-1v6h-1v8h-1v-8h-1v-2h-1v4h-1v8h-1v-2h-1v5h-1v-3h-1v-11h-1v14h-1v-14h-1v-3h-1v4h-1v-3h-1v8h-2v-9h-1v4h-1v-2h-1v2h-1v6h-1v3h-1v5h-1v-5h-1v-9h-1v8h-1v-9h-1v2h-1v8h-1v-5h-1v2h-1v-10h-1v12h-1v5h-1v-12h-1v7h-1v-4h-1v2h-1v-5h-2v3h-1v-1h-2v-4h-2v2h-1v8h-1v-8h-1v4h-1v-1h-1v-2h-2v-1h-1v-2h-1v4h-1v-2h-1v9h-1v-6h-1v-3h-1v1h-1v3h-1v-8h-1v4h-1v11h-2v-4h-2v1h-1v-4h-1v3h-1v22h-1v-30h-1v15h-1v-8h-1v-1h-1v-4h-1v9h-2v-5h-1v-2h-1v4h-1v-2h-1v-7h-1v10h-1v-1h-1v-5h-1v3h-1v3h-1v-2h-1v-4h-1v-2h-1v9h-1v-3h-1v2h-1v6h-1v-4h-1v4h-1v-8h-1v6h-1v1h-1v-5h-1v4h-1v-5h-1v4h-1v7h-1v-7h-1v-3h-1v-2h-1v1h-1v5h-1v-3h-1v-5h-3v13h-1v-11h-2v2h-1v6h-1v-8h-2v2h-1v2h-1v-4h-1v11h-1v-6h-1v2h-1v-5h-1v6h-1v-4h-1v2h-1v-1h-1v-1h-1v3h-1v-2h-2v3h-1v14h-1v-11h-1v-7h-1v-2h-1v1h-1v-3h-1v2h-1v6h-1v8h-1v-9h-1v-2h-3v4h-1v5h-2v4h-1v-8h-1v-3h-1v7h-1v-3h-1v11h-1v-7h-1v-5h-1v6h-1v-7h-1v-3h-1v2h-1v3h-1v-3h-1v2h-1v3h-1v-2h-1v9h-1v-12h-1v-5h-1v8h-1v4h-1v-8h-1v2h-1v5h-1v5h-1v-5h-1v-1h-2v6h-1v-5h-1v6h-1v-7h-2v4h-1v-1h-1v2h-1v-8h-1v10h-1v-4h-1v-2h-1v2h-1v-6h-1v-2h-1v3h-1v-2h-1v6h-1v-9h-1v11h-1v-7h-2v16h-1v-13h-1v7h-1v-5h-1v-3h-1v-1h-1v1h-1v1h-1v-5h-1v2h-1v5h-1v-5h-1v6h-1v-2h-1v-4h-2v-2h-2v9h-1v-8h-1v5h-2v3h-1v-1h-1v-7h-1v2h-1v10h-1v5h-1v-9h-1v4h-1v-13h-1v1h-1v9h-1v-6h-1v2h-1v6h-1v-4h-1v6h-1v-11h-1v3h-1v1h-2v2h-1v-3h-1v-4h-1v6h-1v-3h-1v10h-1v-1h-1v2h-1v-3h-1v-4h-1v-2h-1v4h-1v2h-1v-7h-1v-2h-1v-1h-1v8h-1v4h-1v-9h-1v6h-1v6h-1v-4h-1v-8h-1v-4h-1v1h-1v1h-1v2h-1v7h-1v1h-1v-5h-1v11h-1v-6h-1v-3h-1v-7h-1v7h-1v1h-2v-1h-1v-7h-1v4h-1v3h-1v-1h-1v2h-1v6h-1v-12h-1v3h-1v7h-1v-12h-1v3h-2v1h-1v2h-1v-2h-1v3h-1v3h-1v3h-1v-9h-1v4h-1v-2h-1v12h-1v-4h-1v-10h-1v4h-1v6h-1v5h-1v-10h-2v-2h-1v7h-1v-11h-1v3h-1v-1h-1v2h-1v2h-1v4h-1v-2h-1v1h-1v2h-1v-9h-1v6h-2v-2h-1v6h-1v9h-1v-5h-1v-3h-1v-5h-1v1h-1v-5h-1v3h-1v1h-2v1h-1v-4h-1v5h-1v-4h-1v2h-1v-1h-1v6h-2v4h-1v-6h-1v-7h-1v1h-1v2h-1v-1h-1v1h-1v7h-1v-5h-1v5h-1v7h-1v-18h-1v8h-1v5h-1v-1h-1v-3h-1v-1h-1v-6h-1v15h-1v-9h-1v-5h-1v3h-1v2h-2v-1h-1v12h-1v-8h-1v2h-1v3h-1v-4h-1v-8h-2v7h-2v-6h-1v2h-1v3h-3v1h-1v7h-1v-11h-1v3h-1v-1h-1v-1h-1v10h-1v-6h-1v-1h-1v-1h-1v-1h-1v-2h-1v2h-1v-3h-1v15h-1v-6h-1v-2h-1v-3h-1v2h-1v-4h-1v13h-1v-6h-1v-4h-1v-1h-1v7h-1v-12h-1v11h-1v-1h-1v-3h-1v-1h-1v5h-1v-3h-1v-3h-1v-4h-1v17h-1v-16h-1v12h-1v-5h-1v2h-1v2h-1v-12h-1v4h-1v2h-1v-2h-1v17h-1v-12h-1v4h-1v-3h-1v1h-1v2h-1v-1h-1v-5h-1v-6h-1v13h-1v-13h-1v14h-1v2h-1v-10h-2v6h-1v-2h-2v5h-1v-14h-2v5h-1v-1h-2v-1h-1v9h-1v-1h-1v1h-1v7h-1v-7h-1v4h-1v-5h-1v-1h-1v-2h-1v4h-1v2h-1v15h-1v-14h-2v-3h-2v-1h-2v3h-1v4h-1v-13h-1v4h-1v5h-3v3h-1v-1h-1v-1h-1v-1h-1v-1h-1v6h-1v-2h-1v-4h-1v2h-1v1h-1v2h-1v-7h-1v5h-1v-1h-1v-1h-1v-1h-1v5h-1v8h-1v-3h-1v4h-1v-13h-1v5h-1v2h-1v-3h-1v-2h-3v-3h-1v2h-1v7h-1v-16h-1v13h-1v-9h-1v-4h-1v6h-1v7h-1v-5h-1v-1h-1v-3h-1v12h-1v1h-1v-3h-2v-5h-1v4h-1v6h-1v-1h-1v-4h-1v7h-1v-4h-2v-9h-1v1h-1v8h-1v3h-1v-9h-1v-2h-1v9h-1v-8h-1v2h-1v-1h-1v2h-1v-2h-1v2h-1v7h-1v-4h-1v-5h-1v2h-2v9h-1v-3h-1v-4h-1v-2h-1v5h-1v2h-1v-8h-1v7h-2v4h-1v-5h-3v7h-1v-7h-1v6h-1v-1h-1v-7h-1v7h-1v5h-1v-16h-1v4h-1v7h-1v-3h-1v9h-1v-11h-1v-4h-1v1h-1v7h-1v-1h-1v2h-1v5h-1v-7h-1v1h-1v3h-1v-1h-1v5h-1v-12h-1v4h-1v8h-1v-5h-1v-1h-3v1h-1v-1h-1v-4h-1v-2h-1v11h-2v-2h-1v4h-1v-12h-1v4h-2v4h-1v-1h-1v4h-1v-3h-1v-2h-1v6h-1v-11h-1v6h-1v-3h-1v-1h-1v6h-1v2h-1v-6h-1v7h-1v4h-1v-7h-1v-2h-1v8h-1v1h-1v-6h-1v-9h-1v10h-1v-1h-1v2h-1v-4h-1v7h-2v-4h-1v-2h-1v2h-1v-2h-1v8h-1v-9h-1v4h-2v-2h-1v6h-1v6h-1v-9h-1v4h-1v-4h-1v-1h-1v8h-1v-4h-1v-5h-1v1h-1v5h-1v-1h-2v5h-1v-10h-1v2h-1v1h-1v-1h-3v3h-1v-5h-1v9h-1v-15h-1v8h-2v-3h-1v5h-1v1h-1v-2h-1v4h-1v-3h-1v-3h-1v5h-1v1h-1v7h-1v-14h-1v3h-1v7h-1v-6h-1v-5h-1v3h-1v-2h-1v6h-1v-1h-1v3h-1v-1h-1v-1h-1v4h-2v-2h-1v-6h-2v-1h-1v14h-1v-9h-2v5h-1v-5h-1v4h-1v-5h-1v14h-1v-9h-1v-2h-1v8h-1v-5h-1v-9h-1v4h-2v5h-1v7h-1v-8h-1v12h-1v-11h-1v-3h-1v-4h-1v5h-1v-3h-2v-3h-1v7h-1v-1h-1v4h-1v-5h-1v4h-1v-7h-1v-4h-1v7h-1v-2h-1v1h-1v4h-1v1h-1v2h-1v-7h-1v3h-1v1h-1v-3h-1v3h-1v4h-1v3h-1v-5h-1v-5h-1v-1h-1v6h-2v2h-1v-3h-1v-7h-1v5h-1v4h-1v-5h-1v4h-1v4h-1v-4h-1v9h-1v-11h-1v-1h-1v7h-1v-1h-1v11h-1v-10h-1v8h-1v-10h-1v-6h-1v6h-1v-1h-1v2h-1v-8h-1v10h-1v1h-1v1h-1v-6h-1v-2h-1v6h-1v-3h-1v-4h-1v3h-1v11h-1v-8h-1v3h-1v-3h-1v-2h-1v2h-1v-1h-1v-4h-1v2h-1v6h-1v-1h-1v-1h-1v-6h-1v3h-1v-4h-2v10h-1v2h-1v-5h-1v6h-1v-1h-1v7h-1v7h-1v-8h-1v-7h-1v2h-1v-3h-1v1h-1v8h-1v-15h-1v12h-1v7h-1v-3h-1v2h-1v-5h-1v-2h-1v11h-1v-15h-2v2h-1v1h-1v-1h-1v3h-1v-1h-1v7h-1v-2h-1v-4h-1v-1h-1v1h-1v-2h-1v-6h-1v8h-1v4h-1v-12h-1v9h-1v5h-1v3h-1v-3h-1v-2h-1v9h-1v-15h-1v6h-1v4h-1v-6h-1v4h-1v9h-1v-7h-1v3h-1v-6h-1v2h-1v6h-1v-6h-1v-3h-1v2h-1v-4h-1v1h-1v-4h-1v1h-2v3h-1v6h-1v-8h-1v5h-1v-1h-1v-1h-1v1h-1v3h-1v-4h-1v3h-1v9h-1v-10h-1v2h-1v-2h-1v5h-1v10h-1v-8h-1v2h-1v10h-1v-27h-1v7h-2v1h-1v-1h-1v3h-1v2h-1v-5h-2v1h-2v3h-1v-1h-1v1h-1v14h-1v-6h-1v-11h-1v2h-1v2h-1v6h-1v-4h-1v5h-1v-6h-1v-3h-1v13h-1v1h-1v-2h-1v-8h-1v-7h-1v8h-1v-2h-1v2h-1v1h-1v-5h-1v6h-1v3h-1v-6h-1v11h-1v-12h-1v9h-1v-3h-2v-3h-1v1h-1v-5h-1v7h-1v5h-1v-11h-1v3h-1v4h-1v-3h-1v8h-1v-9h-1v-1h-1v5h-1v13h-1v-19h-1v4h-1v2h-1v-3h-1v5h-1v2h-1v-15h-1v6h-1v6h-2v1h-2v2h-1v-4h-1v5h-1v-4h-1v-9h-1v2h-1v5h-1v10h-1v-1h-1v3h-1v-6h-1v-2h-1v9h-1v8h-1v-18h-1v8h-1v-7h-1v7h-1v-5h-1v3h-2v-3h-1v2h-1v-1h-1v5h-1v-6h-1v-7h-1v4h-1v-2h-1v7h-1v2h-1v-1h-1v-5h-1v1h-2v7h-1v-6h-1v2h-1v7h-1v-4h-1v2h-1v-2h-1v8h-1v-9h-1v-2h-1v6h-1v2h-1v-5h-2v-3h-1v-3h-1v10h-1v3h-1v-5h-1v6h-1v2h-1v-9h-1v-1h-1v2h-1v7h-1v-3h-1v-6h-1v-6h-1v1h-1v8h-1v3h-1v-5h-1v-4h-2v13h-1v1h-1v2h-1v-10h-1v-2h-1v6h-2v3h-1v-10h-1v7h-1v-6h-1v2h-1v3h-2v-3h-2v4h-1v4h-1v7h-1v-5h-1v-1h-1v-5h-1v6h-1v-6h-1v6h-1v-4h-1v2h-1v-3h-1v6h-1v-9h-1v-4h-1v1h-1v2h-1v3h-1v4h-1v-1h-2v1h-1v-1h-1v-4h-1v6h-1v-1h-1v-1h-1v9h-1v-2h-1v-4h-2v-5h-1v-1h-1v6h-1v4h-1v-5h-1v-1h-2v-1h-1v3h-1v12h-1v-7h-1v-7h-1v-7h-1v5h-1v4h-4v8h-1v-14h-1v6h-1v1h-2v-5h-1v7h-1v1h-1v5h-1v-13h-1v4h-1v5h-1v-5h-1v5h-1v-2h-2v-6h-1v10h-1v-1h-1v9h-1v-5h-1v-3h-1v-6h-1v7h-1v-2h-1v1h-1v4h-1v-4h-1v-1h-1v-5h-1v7h-1v-1h-1v1h-1v-4h-1v8h-1v1h-1v-4h-1v9h-1v-8h-1v-8h-1v16h-1v-3h-1v-5h-1v-5h-1v-2h-1v4h-1v5h-1v-6h-1v5h-1v2h-1v7h-1v-2h-1v-5h-1v-4h-1v1h-1v2h-1v-4h-1v6h-1v-1h-1v-5h-1v10h-1v-9h-1v5h-1v3h-1v3h-1v-7h-2v3h-1v-2h-1v2h-1v-3h-1v2h-1v4h-1v-5h-1v-4h-1v9h-1v1h-1v-9h-1v9h-1v-5h-2v-1h-1v5h-1v14h-1v-6h-1v-6h-1v-3h-1v-3h-1v2h-1v3h-1v6h-1v-7h-1v-1h-1v-2h-1v8h-1v-6h-1v8h-1v2h-1v-5h-1v4h-1v-7h-1v7h-1v-7h-1v1h-1v2h-1v-1h-1v-2h-1v-2h-1v-1h-1v2h-1v-6h-1v11h-1v8h-1v-3h-1v2h-1v-4h-1v-11h-2v3h-1v2h-1v5h-1v-2h-1v-3h-1v13h-1v4h-1v-10h-1v-6h-1v4h-1v-1h-1v4h-1v-8h-1v-1h-1v-1h-1v5h-1v6h-1v-9h-1v10h-1v1h-1v3h-1v-18h-1v11h-1v2h-1v-7h-1v9h-1v-12h-1v15h-1v-6h-1v5h-1v-7h-1v-2h-1v-1h-1v13h-1v-9h-1v-3h-1v-5h-1v12h-1v10h-1v-11h-1v-2h-1v-1h-1v-4h-1v5h-1v3h-1v-1h-1v12h-1v-8h-1v3h-1v-7h-1v1h-1v3h-1v-1h-1v4h-1v4h-1v-8h-1v-4h-1v5h-1v-8h-1v-3h-1v3h-1v6h-1v-5h-1v-2h-1v30h-1v-11h-1v2h-1v2h-1v-16h-1v6h-1v3h-1v-4h-1v1h-1v-11h-1v11h-1v-5h-1v3h-1v-2h-1v1h-1v-3h-1v6h-2v4h-1v-9h-1v3h-2v10h-1v-5h-1v-4h-1v6h-1v-3h-1v3h-1v-9h-1v9h-1v-5h-1v5h-1v-4h-2v3h-1v8h-1v-8h-1v-3h-2v-1h-1v3h-2v8h-1v-10h-1v3h-1v-1h-1v-7h-1v14h-1v9h-1v-8h-1v-9h-1v1h-1v-1h-1v-1h-1v2h-1v-2h-1v2h-1v-1h-1v10h-1v-6h-1v6h-1v-12h-1v7h-1v1h-2v-2h-1v3h-1v1h-1v-7h-1v9h-2v-1h-1v-1h-1v1h-1v-5h-1v7h-1v-5h-1v-3h-2v5h-1v-1h-2v-2h-1v-3h-1v8h-1v3h-1v-1h-1v-2h-1v1h-1v3h-1v-8h-1v7h-1v-3h-1v-1h-1v6h-1v-5h-1v7h-1v-8h-2v7h-1v-6h-1v3h-1v3h-1v-2h-2v-5h-1v6h-1v-4h-1v2h-1v6h-1v3h-1v-3h-2v6h-1v-8h-1v2h-1v-3h-1v-1h-1v1h-1v10h-1v-12h-1v4h-1v2h-1v-5h-1v2h-1v-2h-1v2h-1v4h-1v3h-1v3h-1v-11h-1v2h-1v3h-1v-2h-1v14h-1v-6h-1v10h-1v-24h-1v10h-1v9h-1v-1h-1v-4h-1v1h-2v-6h-2v8h-1v-6h-1v-4h-1v12h-1v6h-1v-7h-1v8h-1v-7h-1v-6h-1v3h-1v-3h-1v-7h-1v8h-1v5h-1v-2h-1v1h-1v1h-1v-5h-1v6h-1v-7h-1v-2h-1v-2h-1v1h-1v5h-2v2h-1v12h-1v-2h-1v3h-1v-12h-1v-3h-1v9h-1v-4h-1v-5h-1v2h-1v1h-1v1h-1v10h-1v-6h-1v-1h-1v-8h-1v6h-1v-3h-1v-6h-1v12h-2v-5h-1v7h-1v1h-1v-4h-1v-4h-1v11h-1v-3h-1v-3h-1v1h-1v-1h-1v-1h-1v-5h-1v16h-1v7h-1v-13h-1v8h-1v-8h-1v-3h-1v5h-1v-6h-1v6h-1v-2h-1v1h-1v-2h-1v3h-1v6h-1v6h-1v-11h-1v6h-1v3h-1v7h-1v-23h-1v13h-1v-4h-1v-3h-1v2h-1v3h-1v-1h-1v5h-1v-3h-1v2h-1v-2h-1v-3h-1v-3h-1v14h-1v-6h-1v1h-1v7h-1v1h-1v-3h-1v2h-1v10h-1v-10h-1v11h-1v1h-1v4h-2v-3h-1v10h-1v-7h-1v8h-1v5h-1v2h-1v3h-1v7h-2v2h-1v9h-1v1h-1v8h-1v4h-1v7h-1v6h-1v8h-1v7h-1v9h-1v7h-1v10h-1v7h-1v9h-1v8h-1v6h-1v2h-2v-3h-1v4h-2v2h-3v1h-1v-6h-1v5h-1v-4h-1v-2h-1v4h-1v-2h-1v4h-3v-3h-1v4h-1v-6h-1v-2h-1v6h-1v-4h-2v-1h-1v7h-1v-1h-1v4h-1v-8h-1v3h-1v-2h-1v1h-1v5h-1z"/>
</g>
<path d="M387.7 1579.8L389.2 1579.8L390.7 1579.9L392.2 1579.8L393.7 1579.9L395.2 1580L396.7 1579.8L398.2 1579.6L399.7 1579.6L401.2 1580L402.7 1580.1L404.2 1580.2L405.7 1580.3L407.2 1580.2L408.7 1579.9L410.2 1579.9L411.7 1579.9L413.2 1579.8L414.7 1579.9L416.2 1579.9L417.7 1579.7L419.2 1579.8L420.7 1580.2L422.2 1580.3L423.7 1579.4L425.2 1577L426.7 1573.6L428.2 1569.9L429.7 1565.9L431.2 1561L432.7 1556L434.2 1551.3L435.7 1547.6L437.2 1545L438.7 1543L440.2 1540.9L441.7 1538.8L443.2 1537.3L444.7 1535.5L446.2 1533.6L447.7 1531.5L449.2 1529.6L450.7 1527.9L452.2 1526L453.7 1524.4L455.2 1522.9L456.7 1521L458.2 1519.1L459.7 1517.3L461.2 1515.6L462.7 1514.1L464.2 1512.3L465.7 1510.2L467.2 1508.7L468.7 1507.7L470.2 1507.4L471.7 1506.5L473.2 1505.6L474.7 1505.3L476.2 1504.7L477.7 1504.1L479.2 1503.6L480.7 1502.8L482.2 1503.3L483.7 1502.8L485.2 1502.3L486.7 1502.2L488.2 1502.1L489.7 1503L491.2 1502.3L492.7 1501.5L494.2 1500.6L495.7 1500L497.2 1501L498.7 1500.6L500.2 1499.6L501.7 1499.6L503.2 1500L504.7 1499.5L506.2 1499.8L507.7 1499.9L509.2 1499.7L510.7 1500.3L512.2 1499.7L513.7 1498.7L515.2 1497.7L516.7 1497.4L518.2 1498.8L519.7 1500.1L521.2 1498.1L522.7 1496.4L524.2 1497L525.7 1497.4L527.2 1497.5L528.7 1495.9L530.2 1494.7L531.7 1495.5L533.2 1496.1L534.7 1495.9L536.2 1495.3L537.7 1495.5L539.2 1496.2L540.7 1493.9L542.2 1492.6L543.7 1494.1L545.2 1495.4L546.7 1494.2L548.2 1493.3L549.7 1494L551.2 1494.3L552.7 1493.2L554.2 1492.5L555.7 1493.1L557.2 1492.3L558.7 1492.9L560.2 1493.3L561.7 1492.1L563.2 1491.9L564.7 1492.9L566.2 1493.6L567.7 1492.4L569.2 1491.6L570.7 1490.8L572.2 1490.9L573.7 1492.1L575.2 1490.8L576.7 1489.9L578.2 1489.9L579.7 1490.1L581.2 1489.8L582.7 1489.9L584.2 1490.4L585.7 1490.3L587.2 1490.9L588.7 1488.6L590.2 1487.1L591.7 1487.4L593.2 1488L594.7 1489.3L596.2 1487.9L597.7 1485.9L599.2 1486.8L600.7 1487.5L602.2 1486.8L603.7 1486.8L605.2 1487.6L606.7 1487.6L608.2 1486.4L609.7 1486.2L611.2 1485.7L612.7 1485.2L614.2 1484.9L615.7 1484.1L617.2 1484.3L618.7 1484.4L620.2 1483.9L621.7 1484.3L623.2 1483.4L624.7 1483L626.2 1484.1L627.7 1483.8L629.2 1482.8L630.7 1482L632.2 1482.3L633.7 1482.4L635.2 1483L636.7 1482.8L638.2 1480.7L639.7 1480.2L641.2 1481.3L642.7 1481.8L644.2 1482.6L645.7 1481.4L647.2 1479.9L648.7 1480.5L650.2 1479.9L651.7 1479.7L653.2 1480.8L654.7 1481.7L656.2 1480.6L657.7 1479.6L659.2 1480L660.7 1479L662.2 1478.6L663.7 1479.3L665.2 1479.9L666.7 1479.7L668.2 1480.1L669.7 1478.5L671.2 1477.4L672.7 1479L674.2 1479.5L675.7 1478.7L677.2 1478.1L678.7 1478.1L680.2 1478.9L681.7 1477.7L683.2 1477L684.7 1477L686.2 1475.9L687.7 1476.9L689.2 1475.6L690.7 1475.6L692.2 1476.9L693.7 1476.3L695.2 1476.4L696.7 1475.8L698.2 1475.7L699.7 1475.3L701.2 1474.7L702.7 1475.1L704.2 1474.5L705.7 1473.3L707.2 1473.9L708.7 1475.3L710.2 1475.3L711.7 1474.7L713.2 1473.9L714.7 1473.5L716.2 1473.2L717.7 1473.8L719.2 1473.7L720.7 1473L722.2 1472.3L723.7 1471.7L725.2 1471.7L726.7 1471L728.2 1471.6L729.7 1472.1L731.2 1472.5L732.7 1472.4L734.2 1471.1L735.7 1472.1L737.2 1472.6L738.7 1472.2L740.2 1473.7L741.7 1472.7L743.2 1469.7L744.7 1469.6L746.2 1470.3L747.7 1470.6L749.2 1471.2L750.7 1472.3L752.2 1472.8L753.7 1471.1L755.2 1469.7L756.7 1470.3L758.2 1470.9L759.7 1469.9L761.2 1469.5L762.7 1470.3L764.2 1468.6L765.7 1468L767.2 1469.1L768.7 1467.8L770.2 1468.2L771.7 1469.6L773.2 1469.7L774.7 1468.6L776.2 1468.6L777.7 1469L779.2 1466.8L780.7 1466.8L782.2 1467.5L783.7 1467.8L785.2 1468.1L786.7 1467.7L788.2 1468.5L789.7 1469.1L791.2 1467.9L792.7 1467.7L794.2 1467.8L795.7 1467.8L797.2 1468.1L798.7 1467.1L800.2 1467L801.7 1466.9L803.2 1467.4L804.7 1466.8L806.2 1465.6L807.7 1465.8L809.2 1466.5L810.7 1466.7L812.2 1466.5L813.7 1466.2L815.2 1466.2L816.7 1466.7L818.2 1465.7L819.7 1466.1L821.2 1465.5L822.7 1465L824.2 1466L825.7 1466.4L827.2 1466.2L828.7 1465.5L830.2 1464.9L831.7 1462.9L833.2 1463.1L834.7 1464.2L836.2 1464.8L837.7 1464.6L839.2 1462.8L840.7 1463.2L842.2 1463.9L843.7 1464.7L845.2 1464.6L846.7 1464L848.2 1464.5L849.7 1464.4L851.2 1464.2L852.7 1464L854.2 1464L855.7 1463.2L857.2 1462.8L858.7 1462.9L860.2 1464.2L861.7 1464.1L863.2 1460.6L864.7 1461.1L866.2 1463L867.7 1462.7L869.2 1461.3L870.7 1461.2L872.2 1462.9L873.7 1462.5L875.2 1460.8L876.7 1460.4L878.2 1459.7L879.7 1459.7L881.2 1460.9L882.7 1461.8L884.2 1462.3L885.7 1460.6L887.2 1460.2L888.7 1460.9L890.2 1459.5L891.7 1459.7L893.2 1461.1L894.7 1460.2L896.2 1458.8L897.7 1458.9L899.2 1458.8L900.7 1458.3L902.2 1459.8L903.7 1459.6L905.2 1459.4L906.7 1459.2L908.2 1457.6L909.7 1457.1L911.2 1457.9L912.7 1458.6L914.2 1458.6L915.7 1458.3L917.2 1458.2L918.7 1458.1L920.2 1458.9L921.7 1458.9L923.2 1457.5L924.7 1457.4L926.2 1456.6L927.7 1455.8L929.2 1456.7L930.7 1458.2L932.2 1456.3L933.7 1457.5L935.2 1459.8L936.7 1457.7L938.2 1456.1L939.7 1455.5L941.2 1454.8L942.7 1455.4L944.2 1454.9L945.7 1455.4L947.2 1457L948.7 1457.3L950.2 1456.7L951.7 1453.6L953.2 1452.8L954.7 1454.4L956.2 1453.7L957.7 1452.6L959.2 1454.5L960.7 1455L962.2 1454.7L963.7 1453.7L965.2 1453.3L966.7 1454.9L968.2 1455.1L969.7 1455L971.2 1454.7L972.7 1454.6L974.2 1453.8L975.7 1453.8L977.2 1454.4L978.7 1452.9L980.2 1452.9L981.7 1453.5L983.2 1452.9L984.7 1453.3L986.2 1453.5L987.7 1452L989.2 1452.8L990.7 1452.3L992.2 1450.5L993.7 1451L995.2 1451.8L996.7 1453L998.2 1452.5L999.7 1451.6L1001.2 1451.5L1002.7 1451.5L1004.2 1452.1L1005.7 1451.6L1007.2 1450.8L1008.7 1450.5L1010.2 1452.6L1011.7 1454.1L1013.2 1452.6L1014.7 1450.9L1016.2 1450.9L1017.7 1451.3L1019.2 1451.6L1020.7 1452L1022.2 1450L1023.7 1449.4L1025.2 1450L1026.7 1450.3L1028.2 1450.2L1029.7 1450.5L1031.2 1450.9L1032.7 1449L1034.2 1449.2L1035.7 1449.9L1037.2 1448.7L1038.7 1448.8L1040.2 1449.4L1041.7 1450L1043.2 1450.4L1044.7 1449.9L1046.2 1449.1L1047.7 1449.7L1049.2 1449.8L1050.7 1449.3L1052.2 1448.4L1053.7 1448L1055.2 1447.7L1056.7 1447.8L1058.2 1448.1L1059.7 1449L1061.2 1449.2L1062.7 1447.6L1064.2 1446.6L1065.7 1446.2L1067.2 1448.2L1068.7 1448.2L1070.2 1445.9L1071.7 1445.9L1073.2 1447.5L1074.7 1448.8L1076.2 1448.3L1077.7 1447.2L1079.2 1447L1080.7 1445.5L1082.2 1445L1083.7 1446.4L1085.2 1448.2L1086.7 1447.6L1088.2 1447.7L1089.7 1446.7L1091.2 1444.7L1092.7 1444.7L1094.2 1444.4L1095.7 1444.6L1097.2 1445L1098.7 1445.1L1100.2 1444.7L1101.7 1444L1103.2 1443.9L1104.7 1444.4L1106.2 1444.5L1107.7 1444.6L1109.2 1445.1L1110.7 1445L1112.2 1443.3L1113.7 1442.5L1115.2 1442.2L1116.7 1442.1L1118.2 1443.1L1119.7 1444L1121.2 1446L1122.7 1443L1124.2 1440.7L1125.7 1441.7L1127.2 1443.3L1128.7 1439.6L1130.2 1437.8L1131.7 1435.3L1133.2 1436.9L1134.7 1441.9L1136.2 1441L1137.7 1441.8L1139.2 1440.6L1140.7 1440.1L1142.2 1438.7L1143.7 1436.7L1145.2 1434.5L1146.7 1434.3L1148.2 1439.2L1149.7 1442L1151.2 1440.9L1152.7 1438.1L1154.2 1436.8L1155.7 1437.5L1157.2 1435.4L1158.7 1434.2L1160.2 1436.9L1161.7 1436.5L1163.2 1436.2L1164.7 1436.2L1166.2 1438.4L1167.7 1438.4L1169.2 1433L1170.7 1432.5L1172.2 1432L1173.7 1432.9L1175.2 1435.1L1176.7 1433.5L1178.2 1431.3L1179.7 1430.9L1181.2 1435.1L1182.7 1438.5L1184.2 1439.7L1185.7 1440L1187.2 1435.6L1188.7 1432.6L1190.2 1435.1L1191.7 1436.5L1193.2 1437.3L1194.7 1438.9L1196.2 1437.6L1197.7 1433.7L1199.2 1432.7L1200.7 1436.2L1202.2 1436.8L1203.7 1433.6L1205.2 1433.8L1206.7 1435.4L1208.2 1436.6L1209.7 1436.2L1211.2 1434.9L1212.7 1436.3L1214.2 1436.7L1215.7 1435.8L1217.2 1433.5L1218.7 1431.1L1220.2 1431.9L1221.7 1433L1223.2 1431.3L1224.7 1431.5L1226.2 1430.6L1227.7 1429.4L1229.2 1430.6L1230.7 1431.4L1232.2 1431.1L1233.7 1432.6L1235.2 1436.7L1236.7 1433.2L1238.2 1429.3L1239.7 1431L1241.2 1431L1242.7 1431.3L1244.2 1431.8L1245.7 1430.4L1247.2 1431.6L1248.7 1432.9L1250.2 1431L1251.7 1430.2L1253.2 1433.6L1254.7 1435.1L1256.2 1431.3L1257.7 1429.7L1259.2 1429.8L1260.7 1430.7L1262.2 1432.4L1263.7 1431.7L1265.2 1431L1266.7 1430.8L1268.2 1428.8L1269.7 1428.3L1271.2 1429.2L1272.7 1431.1L1274.2 1431.6L1275.7 1429.1L1277.2 1429.2L1278.7 1428.6L1280.2 1428.9L1281.7 1428.8L1283.2 1428.3L1284.7 1429L1286.2 1430L1287.7 1431.2L1289.2 1429.5L1290.7 1431.4L1292.2 1431.4L1293.7 1428.2L1295.2 1429L1296.7 1427.7L1298.2 1429.3L1299.7 1432.1L1301.2 1430.1L1302.7 1430L1304.2 1431L1305.7 1430L1307.2 1424.7L1308.7 1421.9L1310.2 1423.9L1311.7 1426.3L1313.2 1425.3L1314.7 1425.1L1316.2 1427.9L1317.7 1428L1319.2 1427.5L1320.7 1427.6L1322.2 1429.6L1323.7 1428.6L1325.2 1426.1L1326.7 1425.3L1328.2 1428.7L1329.7 1432L1331.2 1428.2L1332.7 1424.8L1334.2 1425.4L1335.7 1423.8L1337.2 1420.9L1338.7 1424.3L1340.2 1424.1L1341.7 1423.8L1343.2 1427.1L1344.7 1423.5L1346.2 1422.3L1347.7 1422L1349.2 1421.4L1350.7 1424.1L1352.2 1424.3L1353.7 1426.3L1355.2 1426.5L1356.7 1422.6L1358.2 1422.4L1359.7 1423.5L1361.2 1424.4L1362.7 1422.6L1364.2 1421.2L1365.7 1422.5L1367.2 1422.5L1368.7 1423.7L1370.2 1422.4L1371.7 1418.8L1373.2 1422.1L1374.7 1425.9L1376.2 1426.2L1377.7 1421.6L1379.2 1419.1L1380.7 1423.9L1382.2 1424.7L1383.7 1426.1L1385.2 1427L1386.7 1423.3L1388.2 1420.9L1389.7 1421.1L1391.2 1420.7L1392.7 1419.8L1394.2 1421.6L1395.7 1424.7L1397.2 1424L1398.7 1420.7L1400.2 1421.9L1401.7 1421.7L1403.2 1420.8L1404.7 1424.1L1406.2 1421L1407.7 1421.5L1409.2 1425.9L1410.7 1423.5L1412.2 1419.3L1413.7 1419.1L1415.2 1422L1416.7 1418.4L1418.2 1416.3L1419.7 1418.7L1421.2 1421.9L1422.7 1424.1L1424.2 1422.2L1425.7 1421.1L1427.2 1419.6L1428.7 1419.7L1430.2 1421.6L1431.7 1420L1433.2 1419.9L1434.7 1420.3L1436.2 1420.5L1437.7 1420.3L1439.2 1417.2L1440.7 1417.8L1442.2 1418.2L1443.7 1415.9L1445.2 1419.4L1446.7 1419.4L1448.2 1416.1L1449.7 1413.9L1451.2 1415.7L1452.7 1421.6L1454.2 1419.1L1455.7 1418.5L1457.2 1419.6L1458.7 1417.2L1460.2 1419.1L1461.7 1421.1L1463.2 1421.2L1464.7 1418.1L1466.2 1415.8L1467.7 1417.9L1469.2 1420.8L1470.7 1420.3L1472.2 1420.1L1473.7 1418.4L1475.2 1418.5L1476.7 1421.2L1478.2 1419.5L1479.7 1419.2L1481.2 1419.4L1482.7 1417.6L1484.2 1416.3L1485.7 1415.7L1487.2 1414.9L1488.7 1414.9L1490.2 1413.7L1491.7 1413.2L1493.2 1416.1L1494.7 1420L1496.2 1418.1L1497.7 1415.7L1499.2 1415.5L1500.7 1413.2L1502.2 1414.8L1503.7 1417.5L1505.2 1415.4L1506.7 1416.3L1508.2 1414.6L1509.7 1412.5L1511.2 1415.9L1512.7 1416.4L1514.2 1416L1515.7 1419.5L1517.2 1419.4L1518.7 1417L1520.2 1416.1L1521.7 1414.4L1523.2 1415.6L1524.7 1417.9L1526.2 1418.1L1527.7 1414.3L1529.2 1414.6L1530.7 1416.2L1532.2 1413.9L1533.7 1414.4L1535.2 1416.5L1536.7 1413.3L1538.2 1410.8L1539.7 1414.1L1541.2 1416.2L1542.7 1415.4L1544.2 1415.3L1545.7 1414.9L1547.2 1413.7L1548.7 1412.7L1550.2 1410.6L1551.7 1411.4L1553.2 1415.6L1554.7 1416.1L1556.2 1412.2L1557.7 1413.4L1559.2 1412.6L1560.7 1411.6L1562.2 1413.8L1563.7 1414.3L1565.2 1412.3L1566.7 1413.3L1568.2 1413.6L1569.7 1412.6L1571.2 1413.8L1572.7 1413.6L1574.2 1412.4L1575.7 1413.3L1577.2 1411.7L1578.7 1409.4L1580.2 1410L1581.7 1410L1583.2 1411.6L1584.7 1411.7L1586.2 1411.5L1587.7 1410.7L1589.2 1410.4L1590.7 1411.4L1592.2 1411L1593.7 1411.1L1595.2 1412.4L1596.7 1412.5L1598.2 1411.6L1599.7 1410.7L1601.2 1410.3L1602.7 1411.1L1604.2 1411.1L1605.7 1412.5L1607.2 1412.5L1608.7 1410.7L1610.2 1410.3L1611.7 1410L1613.2 1409.7L1614.7 1410.7L1616.2 1411.1L1617.7 1410.1L1619.2 1410.7L1620.7 1412.1L1622.2 1411.1L1623.7 1411.3L1625.2 1412.1L1626.7 1412.4L1628.2 1412.7L1629.7 1412.1L1631.2 1410.1L1632.7 1408.7L1634.2 1410.1L1635.7 1410.8L1637.2 1410.2L1638.7 1409.8L1640.2 1410.6L1641.7 1410.6L1643.2 1410.1L1644.7 1411.2L1646.2 1411.1L1647.7 1409.8L1649.2 1410.6L1650.7 1410.7L1652.2 1409.3L1653.7 1410L1655.2 1411.3L1656.7 1410.1L1658.2 1409L1659.7 1409.3L1661.2 1409.5L1662.7 1409.1L1664.2 1408.6L1665.7 1409.6L1667.2 1411.1L1668.7 1409.8L1670.2 1408.6L1671.7 1409.4L1673.2 1408.4L1674.7 1407.6L1676.2 1407.7L1677.7 1406.8L1679.2 1409.1L1680.7 1410.1L1682.2 1408.3L1683.7 1407.6L1685.2 1407.9L1686.7 1408.3L1688.2 1408.2L1689.7 1408.1L1691.2 1408.4L1692.7 1409.6L1694.2 1409.5L1695.7 1409.3L1697.2 1409.2L1698.7 1408.6L1700.2 1408.5L1701.7 1407.8L1703.2 1408.8L1704.7 1408.9L1706.2 1408.2L1707.7 1407.6L1709.2 1406.7L1710.7 1407.4L1712.2 1406.8L1713.7 1405.6L1715.2 1406.3L1716.7 1406.3L1718.2 1406.1L1719.7 1407.4L1721.2 1406.5L1722.7 1407.4L1724.2 1407.1L1725.7 1404.1L1727.2 1404.4L1728.7 1405.1L1730.2 1406.2L1731.7 1405.3L1733.2 1404.1L1734.7 1404.9L1736.2 1405.2L1737.7 1405.8L1739.2 1405.5L1740.7 1406.1L1742.2 1405.2L1743.7 1404.2L1745.2 1404.7L1746.7 1403.6L1748.2 1402.9L1749.7 1403.3L1751.2 1405.1L1752.7 1404.2L1754.2 1402L1755.7 1404.1L1757.2 1406.3L1758.7 1404.4L1760.2 1402.2L1761.7 1402L1763.2 1402.9L1764.7 1404.6L1766.2 1405.9L1767.7 1403.7L1769.2 1401.7L1770.7 1403.2L1772.2 1404.4L1773.7 1404.6L1775.2 1402.1L1776.7 1401.8L1778.2 1404L1779.7 1402.8L1781.2 1402.1L1782.7 1403.7L1784.2 1403.4L1785.7 1402.7L1787.2 1402.5L1788.7 1402.2L1790.2 1403.3L1791.7 1403.1L1793.2 1401.7L1794.7 1401.6L1796.2 1401.1L1797.7 1403.2L1799.2 1404.6L1800.7 1402.1L1802.2 1401.4L1803.7 1401.3L1805.2 1400.9L1806.7 1401.3L1808.2 1403.3L1809.7 1404.1L1811.2 1401.9L1812.7 1401L1814.2 1402.5L1815.7 1403.6L1817.2 1401.6L1818.7 1400.4L1820.2 1401.5L1821.7 1400.6L1823.2 1400.4L1824.7 1399.9L1826.2 1400L1827.7 1401.3L1829.2 1401.6L1830.7 1401.2L1832.2 1401.1L1833.7 1400.6L1835.2 1400.2L1836.7 1400.9L1838.2 1401.2L1839.7 1401.3L1841.2 1400.6L1842.7 1400.7L1844.2 1400.3L1845.7 1399.8L1847.2 1400.8L1848.7 1400.4L1850.2 1399.6L1851.7 1400L1853.2 1400L1854.7 1399.9L1856.2 1399.5L1857.7 1399.6L1859.2 1400.9L1860.7 1401.1L1862.2 1400L1863.7 1398.4L1865.2 1399.3L1866.7 1399.2L1868.2 1397.5L1869.7 1398.5L1871.2 1399.7L1872.7 1399.9L1874.2 1399.2L1875.7 1399.4L1877.2 1400.8L1878.7 1400.6L1880.2 1400.5L1881.7 1398.6L1883.2 1396.8L1884.7 1397.8L1886.2 1399L1887.7 1398.7L1889.2 1398.3L1890.7 1399.5L1892.2 1400L1893.7 1399.1L1895.2 1397.3L1896.7 1398.3L1898.2 1399.7L1899.7 1398.8L1901.2 1397.1L1902.7 1397L1904.2 1398.6L1905.7 1398.6L1907.2 1398.7L1908.7 1399L1910.2 1398.1L1911.7 1398L1913.2 1398L1914.7 1397.4L1916.2 1397L1917.7 1398.5L1919.2 1399.3L1920.7 1398.1L1922.2 1397.5L1923.7 1396.9L1925.2 1397.4L1926.7 1396.9L1928.2 1396.6L1929.7 1396.6L1931.2 1396.5L1932.7 1396.8L1934.2 1397.3L1935.7 1398L1937.2 1396.6L1938.7 1395.9L1940.2 1396.6L1941.7 1396L1943.2 1396.1L1944.7 1396.7L1946.2 1396.5L1947.7 1396.9L1949.2 1397.7L1950.7 1397.8L1952.2 1398L1953.7 1398.1L1955.2 1398.9L1956.7 1398.2L1958.2 1396.9L1959.7 1396.7L1961.2 1394.9L1962.7 1394.7L1964.2 1396.7L1965.7 1397.7L1967.2 1396.3L1968.7 1396.8L1970.2 1398.2L1971.7 1396.8L1973.2 1396.6L1974.7 1396.8L1976.2 1396.5L1977.7 1397.1L1979.2 1396.3L1980.7 1395L1982.2 1395.3L1983.7 1394.1L1985.2 1395.1L1986.7 1397.5L1988.2 1397.1L1989.7 1395.3L1991.2 1395.1L1992.7 1395.7L1994.2 1395.2L1995.7 1396L1997.2 1396.7L1998.7 1396.6L2000.2 1396.8L2001.7 1396.7L2003.2 1395.7L2004.7 1396L2006.2 1395.8L2007.7 1395.8L2009.2 1396.2L2010.7 1396.4L2012.2 1395.1L2013.7 1393.8L2015.2 1394L2016.7 1394.1L2018.2 1395.9L2019.7 1396.7L2021.2 1395.3L2022.7 1395.2L2024.2 1396.4L2025.7 1395.4L2027.2 1393.8L2028.7 1393.8L2030.2 1394.4L2031.7 1396.5L2033.2 1396.7L2034.7 1396.2L2036.2 1396.2L2037.7 1395.5L2039.2 1395.3L2040.7 1394.8L2042.2 1393.9L2043.7 1393.3L2045.2 1394L2046.7 1394.4L2048.2 1394.5L2049.7 1395.8L2051.2 1396.5L2052.7 1398.1L2054.2 1397.4L2055.7 1395.4L2057.2 1396L2058.7 1394.8L2060.2 1393L2061.7 1393.3L2063.2 1394.4L2064.7 1394.4L2066.2 1393.5L2067.7 1394.5L2069.2 1394.6L2070.7 1393.9L2072.2 1394.7L2073.7 1393.9L2075.2 1395.1L2076.7 1395.4L2078.2 1395.4L2079.7 1397.3L2081.2 1395.2L2082.7 1394.8L2084.2 1397.1L2085.7 1395.1L2087.2 1394.3L2088.7 1394.7L2090.2 1394.3L2091.7 1393.4L2093.2 1392.8L2094.7 1393.6L2096.2 1393.4L2097.7 1394.7L2099.2 1395L2100.7 1394L2102.2 1394.7L2103.7 1394.6L2105.2 1394.1L2106.7 1393.5L2108.2 1392.8L2109.7 1394.2L2111.2 1395.4L2112.7 1395.1L2114.2 1394.3L2115.7 1394.9L2117.2 1394.9L2118.7 1394.2L2120.2 1394L2121.7 1394L2123.2 1394.5L2124.7 1393.8L2126.2 1392.8L2127.7 1392.9L2129.2 1394L2130.7 1393L2132.2 1393.5L2133.7 1395.2L2135.2 1395.5L2136.7 1394.6L2138.2 1394.8L2139.7 1395.4L2141.2 1394.9L2142.7 1395.2L2144.2 1394.5L2145.7 1393.8L2147.2 1393.4L2148.7 1393.1L2150.2 1392.9L2151.7 1392.9L2153.2 1393.6L2154.7 1394.3L2156.2 1395.4L2157.7 1395.6L2159.2 1394.6L2160.7 1394.2L2162.2 1393.4L2163.7 1394.2L2165.2 1395.1L2166.7 1394.4L2168.2 1394.9L2169.7 1393.8L2171.2 1392.4L2172.7 1394.4L2174.2 1394.1L2175.7 1392.5L2177.2 1393L2178.7 1394.5L2180.2 1394.4L2181.7 1393.4L2183.2 1394.4L2184.7 1393.4L2186.2 1392.6L2187.7 1393.1L2189.2 1392.6L2190.7 1393.1L2192.2 1392.1L2193.7 1391.4L2195.2 1393.7L2196.7 1394L2198.2 1392.6L2199.7 1392.8L2201.2 1393.6L2202.7 1392.9L2204.2 1393L2205.7 1393.2L2207.2 1391.7L2208.7 1392.4L2210.2 1393.6L2211.7 1392.8L2213.2 1392L2214.7 1391.9L2216.2 1391.4L2217.7 1391.6L2219.2 1392.6L2220.7 1394L2222.2 1394L2223.7 1393.2L2225.2 1392.5L2226.7 1391.9L2228.2 1391.7L2229.7 1390.7L2231.2 1391.8L2232.7 1392.4L2234.2 1390.8L2235.7 1390.7L2237.2 1391.3L2238.7 1392.3L2240.2 1393.1L2241.7 1393.7L2243.2 1393.4L2244.7 1391.3L2246.2 1391.1L2247.7 1391.9L2249.2 1391.5L2250.7 1393.3L2252.2 1394.6L2253.7 1393.7L2255.2 1392.4L2256.7 1392.3L2258.2 1393.9L2259.7 1394L2261.2 1392.4L2262.7 1393.3L2264.2 1394.5L2265.7 1393.7L2267.2 1392.5L2268.7 1392.5L2270.2 1394.3L2271.7 1394.5L2273.2 1393L2274.7 1392.6L2276.2 1391.3L2277.7 1391.6L2279.2 1392.8L2280.7 1392.8L2282.2 1392.6L2283.7 1392.2L2285.2 1392L2286.7 1392.6L2288.2 1393.3L2289.7 1393L2291.2 1392.3L2292.7 1392.9L2294.2 1393.6L2295.7 1391.9L2297.2 1392.2L2298.7 1392.2L2300.2 1391.6L2301.7 1391.7L2303.2 1392.1L2304.7 1392.7L2306.2 1392.8L2307.7 1393L2309.2 1392.9L2310.7 1392.4L2312.2 1391.4L2313.7 1390.7L2315.2 1391.4L2316.7 1391.6L2318.2 1392.3L2319.7 1393.7L2321.2 1391.7L2322.7 1391.1L2324.2 1393L2325.7 1392.2L2327.2 1391.9L2328.7 1392.4L2330.2 1391.8L2331.7 1391.8L2333.2 1391.5L2334.7 1392.1L2336.2 1392.3L2337.7 1391.2L2339.2 1391.6L2340.7 1392.5L2342.2 1391.9L2343.7 1392.3L2345.2 1394.1L2346.7 1392.6L2348.2 1390.8L2349.7 1392L2351.2 1392.8L2352.7 1391.5L2354.2 1390.3L2355.7 1391.2L2357.2 1392L2358.7 1393.6L2360.2 1394.4L2361.7 1393.1L2363.2 1391.5L2364.7 1390.6L2366.2 1390.8L2367.7 1391.6L2369.2 1392.1L2370.7 1392L2372.2 1391.2L2373.7 1390.4L2375.2 1390.6L2376.7 1388.8L2378.2 1389.5L2379.7 1392.2L2381.2 1391.6L2382.7 1392.1L2384.2 1392.6L2385.7 1390.8L2387.2 1390.6L2388.7 1391.9L2390.2 1393.8L2391.7 1393.8L2393.2 1391.1L2394.7 1391.4L2396.2 1392L2397.7 1391.9L2399.2 1392.8L2400.7 1391L2402.2 1390.7L2403.7 1392.3L2405.2 1392.7L2406.7 1391.8L2408.2 1391.2L2409.7 1390.6L2411.2 1390.7L2412.7 1392.3L2414.2 1391L2415.7 1391L2417.2 1391.3L2418.7 1391L2420.2 1391L2421.7 1389.5L2423.2 1391.4L2424.7 1392L2426.2 1391.8L2427.7 1393.1L2429.2 1391.7L2430.7 1391.4L2432.2 1391.6L2433.7 1391.3L2435.2 1392.7L2436.7 1392.5L2438.2 1391.5L2439.7 1390.4L2441.2 1390.9L2442.7 1391.7L2444.2 1391.3L2445.7 1391.2L2447.2 1392.2" stroke="#0ff" stroke-width="4" fill="none" stroke-linejoin="bevel"/>
</g>
<g id="legend">
<rect x="439" y="96" width="376" height="553.5" fill="#fff" stroke="#000" stroke-width="4" shape-rendering="crispEdges"/>
<text transform="translate(465 174.5) scale(0.9709 1)" font-size="77.2">FeSe</text>
<path d="M465 241.8 H632" stroke="#f0f" stroke-width="4" shape-rendering="crispEdges"/><text transform="translate(651 265.8) scale(0.9709 1)" font-size="77.2">pure</text>
<path d="M465 333.2 H632" stroke="#f00" stroke-width="4" shape-rendering="crispEdges"/><text transform="translate(651 357.2) scale(0.9709 1)" font-size="77.2">4%</text>
<path d="M465 424.6 H632" stroke="#0f0" stroke-width="4" shape-rendering="crispEdges"/><text transform="translate(651 448.6) scale(0.9709 1)" font-size="77.2">5%</text>
<path d="M465 516 H632" stroke="#00f" stroke-width="4" shape-rendering="crispEdges"/><text transform="translate(651 540) scale(0.9709 1)" font-size="77.2">6%</text>
<path d="M465 607.4 H632" stroke="#0ff" stroke-width="4" shape-rendering="crispEdges"/><text transform="translate(651 631.4) scale(0.9709 1)" font-size="77.2">7%</text>
</g>
<g id="inset">
<path d="M1574.5 299.7 V983M1839.5 299.7 V983M2105.5 299.7 V983M1442.8 869.5 H2371M1442.8 642.5 H2371M1442.8 414.5 H2371" stroke="#c0c0c0" stroke-width="1" stroke-dasharray="4 3" fill="none" shape-rendering="crispEdges"/>
<path d="M1707.5 299.7 V983M1972.5 299.7 V983M2237.5 299.7 V983M1442.8 755.5 H2371M1442.8 528.5 H2371" stroke="#808080" stroke-width="1" fill="none" shape-rendering="crispEdges"/>
<g stroke="#000" fill="none" shape-rendering="crispEdges">
<path d="M1440.8 299.7 H2373 M1440.8 983 H2373 M1442.8 299.7 V983 M2371 299.7 V983" stroke-width="4.5"/>
<path d="M1574.6 983 v-7.5M1574.6 299.7 v7.5M1707.2 983 v-14M1707.2 299.7 v14M1839.8 983 v-7.5M1839.8 299.7 v7.5M1972.4 983 v-14M1972.4 299.7 v14M2105 983 v-7.5M2105 299.7 v7.5M2237.6 983 v-14M2237.6 299.7 v14M1442.8 983.2 h14M2371 983.2 h-14M1442.8 869.5 h7.5M2371 869.5 h-7.5M1442.8 755.8 h14M2371 755.8 h-14M1442.8 642.1 h7.5M2371 642.1 h-7.5M1442.8 528.4 h14M2371 528.4 h-14M1442.8 414.7 h7.5M2371 414.7 h-7.5M1442.8 301 h14M2371 301 h-14" stroke-width="3.5"/>
</g>
<path d="M1489.7 951.3L1490.5 947.8L1491.3 942.8L1492 939.5L1492.7 936.3L1493.4 932.7L1494.1 927.7L1494.8 924.4L1495.5 919.9L1496.1 916.5L1496.7 912.3L1497.4 909L1497.9 904.8L1498.5 900.3L1499.1 895.5L1499.6 893.5L1500.2 887.5L1500.7 884.1L1501.2 879.7L1501.7 876.8L1502.2 872.1L1502.6 869.4L1503.1 864.6L1503.5 860.3L1503.8 856.6L1504.2 852.8L1504.5 848.7L1504.8 844L1505.1 840.6L1505.4 836.9L1505.7 832.6L1505.9 829.3L1506.2 825.3L1506.5 820.5L1506.8 815.9L1507.1 812.4L1507.4 808.9L1507.7 805.1L1508 800.3L1508.3 797.2L1508.7 791.9L1509 789L1509.3 785.2L1509.6 780.7L1509.9 776.4L1510.1 773L1510.4 767.9L1510.6 764.4L1510.8 760.3L1511.1 756.1L1511.3 752.6L1511.4 748.7L1511.6 744.7L1511.8 740.6L1512 736L1512.2 732.5L1512.4 728.9L1512.6 724.3L1512.8 720.7L1513 716.9L1513.2 712.5L1513.4 709.4L1513.6 705.1L1513.8 700.3L1514 696.2L1514.2 693.1L1514.4 688.8L1514.5 684.9L1514.7 680.6L1514.9 676.5L1515 672.7L1515.2 668.5L1515.4 665.2L1515.5 661.1L1515.7 656.1L1516 653L1516.2 649L1516.5 644.8L1516.8 640.9L1516.9 636L1517.1 632.8L1517.3 628.8L1517.5 624.9L1517.7 621.2L1517.8 617.1L1518 612.6L1518.2 608.3L1518.4 605L1518.6 601.3L1518.8 596.5L1519 593L1519.3 588.6L1519.5 584.2L1519.8 580.1L1520 577.2L1520.3 573.4L1520.6 568.5L1520.8 564.4L1521.1 561.4L1521.3 557.2L1521.6 552.4L1521.8 548.9L1522 544.1L1522.1 541.2L1522.3 536.5L1522.4 532.7L1522.5 529.6L1522.6 524.5L1522.7 521L1522.8 516.3L1522.9 512.6L1523 508.8L1523.1 505.9L1523.2 500.9L1523.3 497.9L1523.4 493.1L1523.5 488.8L1523.6 484.8L1523.7 480.7L1523.8 476.8L1523.9 473.9L1524 468.8L1524.2 466L1524.3 460.4L1524.4 456.9L1524.5 453.1L1524.6 448.3L1524.7 444.9L1524.9 440.8L1525 437L1525.1 432.5L1525.2 430.2L1525.3 425.2L1525.5 421L1525.6 417.2L1525.7 413.5L1525.9 408.3L1526 405.7L1526.1 401.4L1526.3 397.3L1526.4 392.5L1526.6 388.4L1526.7 384.8L1526.8 381.8L1527 377.7L1527.1 373.6L1527.2 369.6L1527.4 365.5L1527.5 360.5L1527.6 356.8L1527.8 352.7L1527.9 349.1L1528 344.2L1528.1 340.9L1528.2 337.3L1528.3 333.3L1528.5 329.1L1528.6 325.2L1528.7 321.8L1528.8 315.7L1528.9 312.7L1529 309.1L1529.1 306.5L1529.2 301.8L1529.3 297.4" stroke="#f0f" stroke-width="1.6" fill="none" stroke-linejoin="bevel"/>
<path d="M1516.6 604 V654 M1518 640 V656" stroke="#f0f" stroke-width="2.2" fill="none"/>
<path d="M1482 983.5L1482.8 981L1483.6 983.5L1484.4 981.7L1485.2 983.5L1486 980.9L1486.8 983.5L1487.6 979L1488.4 983.5L1489.2 980.3L1490 983.5L1490.8 979.5L1491.6 983.5L1492.4 981L1493.2 983.5L1494 980.6L1494.8 983.5L1495.6 980.8L1496.4 983.5L1497.2 980.7L1498 983.5L1498.8 980L1499.6 983.5L1500.4 980.7L1501.2 983.5L1502 979.1L1502.8 983.5L1503.6 980.5L1504.4 983.5L1505.2 979.9L1506 983.5L1506.8 981.3L1507.6 983.5L1508.4 981.7L1509.2 983.5L1510 980.9L1510.8 983.5L1511.6 979.8L1512.4 983.5L1513.2 980.3L1514 983.5L1514.8 981L1515.6 983.5L1516.4 981.1L1517.2 983.5L1518 980.7L1518.8 983.5L1519.6 980.7L1520.4 983.5L1521.2 980L1522 983.5L1522.8 980.4L1523.6 983.5L1524.4 979.4L1525.2 983.5L1526 979.9L1526.8 983.5L1527.6 980L1528.4 983.5L1529.2 979.2L1530 983.5L1530.8 981.5L1531.6 983.5L1532.4 980.4L1533.2 983.5L1534 980.1L1534.8 983.5L1535.6 979.6L1536.4 983.5L1537.2 980.9L1538 983.5L1538.8 980.9L1539.6 983.5L1540.4 980.2L1541.2 983.5L1542 980.1L1542.8 983.5L1543.6 979.5L1544.4 983.5L1545.2 980.8L1546 983.5L1546.8 980.7L1547.6 983.5L1548.4 980.1L1549.2 983.5L1550 980.8L1550.8 983.5L1551.6 981.2" stroke="#f00" stroke-width="1.2" fill="none" stroke-linejoin="bevel"/>
<path d="M1551.5 980.4L1551.7 979.9L1552 978.9L1552.2 977.2L1552.4 975.5L1552.6 974.8L1552.9 973.7L1553.1 972.7L1553.3 971.2L1553.5 970.2L1553.7 968.8L1553.9 967.2L1554.1 966.4L1554.3 965.5L1554.5 963.9L1554.7 963.2L1554.9 961.6L1555.1 960.5L1555.3 960L1555.4 958.4L1555.6 957.4L1555.7 955.7L1555.9 954.3L1556.1 954.3L1556.2 951.7L1556.3 951.4L1556.5 950.7L1556.6 948L1556.8 947.5L1556.9 946.1L1557 945.5L1557.2 943.6L1557.3 943.1L1557.4 941.5L1557.5 940.1L1557.7 938.9L1557.8 937.8L1557.9 936.4L1558 936L1558.1 934.7L1558.3 933L1558.4 932L1558.5 930.8L1558.6 929.4L1558.7 928.6L1558.8 926.5L1558.9 926.2L1559 925.2L1559.1 923.7L1559.2 922.5L1559.3 921.4L1559.4 920.1L1559.5 919.2L1559.7 918L1559.8 916.8L1559.9 915.4L1560 914.3L1560.1 912.3L1560.2 911.4L1560.3 910.2L1560.4 909L1560.5 908.1L1560.6 906.4L1560.6 905.6L1560.7 904.5L1560.8 903.6L1560.9 902.1L1561 900.1L1561.1 899.8L1561.2 898.5L1561.2 897.8L1561.3 896.4L1561.4 895L1561.5 894.1L1561.6 892.3L1561.6 891.3L1561.7 890.9L1561.8 889.2L1561.9 888.3L1561.9 886.3L1562 886L1562.1 884.1L1562.2 881.8L1562.3 881.4L1562.4 880.4L1562.5 879.7L1562.6 878L1562.7 876.9L1562.8 874.8L1562.9 874.9L1563 873.4L1563.1 871.5L1563.2 870.5L1563.3 869.3L1563.4 868.6L1563.6 867.4L1563.7 866.8L1563.8 864.8L1564 863.9L1564.1 862.3L1564.3 861.4L1564.5 860.3L1564.7 859.1L1564.9 857.4L1565.1 856.6L1565.3 855L1565.5 854.1L1565.7 852.8L1565.9 852L1566.1 851L1566.3 848.9L1566.5 847.8L1566.8 847.3L1567 846.4L1567.2 844.2L1567.4 843.4L1567.6 842.4L1567.8 841.8L1568.1 839.7L1568.3 838L1568.5 837.4L1568.7 837.1L1568.9 835L1569.1 834.2L1569.3 832.8L1569.5 831.1L1569.6 831.1L1569.8 829.2L1570 828.8L1570.2 827.5L1570.4 826.3L1570.6 825.3L1570.8 823.4L1571 822.5L1571.2 821.1L1571.3 820.4L1571.5 819.1L1571.7 817.4L1571.9 816.6L1572.1 815.4L1572.3 815L1572.5 812.8L1572.8 811.5L1573 810.1L1573.2 809.7L1573.4 808.2L1573.6 807.2L1573.8 805.1L1574.1 805.2L1574.3 803.6L1574.5 802.3L1574.8 800.9L1575 800.2L1575.2 798.8L1575.5 797.3L1575.7 796.6L1575.9 794.7L1576.2 794.4L1576.4 792.7L1576.7 791.4L1577 790.3L1577.2 789.5L1577.5 788.6L1577.8 786.9L1578 786.1L1578.3 785.2L1578.6 783.3L1578.9 782.9L1579.2 781.6L1579.5 779.8L1579.8 778.9L1580.2 777.8L1580.5 776.8L1580.8 775.7L1581.2 774.9L1581.5 773.5L1581.9 771.8L1582.3 771.3L1582.6 769.5L1583 768.2L1583.4 767L1583.7 766.4L1584.1 765.2L1584.5 764L1584.8 762.1L1585.2 762.1L1585.6 760.6L1585.9 760L1586.3 758.5L1586.6 757.3L1587 756.1L1587.3 756.3L1587.7 753.4L1588 751.8L1588.3 751.2L1588.7 750.1L1589 748.8L1589.4 748.2L1589.7 746.7L1590.1 745.2L1590.4 744L1590.8 743.5L1591.2 742.7L1591.5 741.6L1592 740.4L1592.4 739.4L1592.8 737.4L1593.3 736.9L1593.8 735.5L1594.3 733.8L1594.9 733.5L1595.5 732.8L1596.1 731L1596.6 730.6L1597.2 728.8L1597.7 728L1598.1 726.9L1598.5 725.8L1598.9 724.4L1599.2 723.6L1599.5 722.4L1599.8 721.2L1600.1 720L1600.4 719L1600.6 718.9L1600.9 716.3L1601.2 714.7L1601.6 714.5L1602 712.5L1602.4 711.4L1602.8 710.4L1603.3 708.8L1603.9 708.4L1604.6 707.7L1605.2 707.5L1606 704.8L1606.7 705.2L1607.5 703.3L1608.3 702.8L1609.1 704.7L1610 701.5L1610.8 703.5L1611.7 697.7L1612.5 698L1613.3 699.5L1614.1 695.4L1614.9 700.5L1615.7 694.7L1616.5 691.4L1617.4 694.8L1618.2 698.2L1619 687L1619.9 686.2L1620.7 689.4L1621.6 694.4L1622.4 689.3L1623.3 690.1L1624.2 687.6L1625.1 687.5L1626.1 681.2L1627 687.1L1628 678.8L1629 689.4L1630 683.3L1631 686.2L1632 681L1633 681.7L1634.1 682.2L1635.1 678.1L1636.2 678.9L1637.2 675.5L1638.3 679.6L1639.4 675.4L1640.4 674L1641.5 670.9L1642.5 673.7L1643.6 673.8L1644.7 671.6L1645.7 675.2L1646.7 674.7L1647.8 675.2L1648.8 673.5L1649.8 674.7L1650.8 663.6L1651.9 669L1652.9 667L1653.9 669.3L1654.9 668.1L1655.9 663.6L1657 661.4L1658 667.4L1659 671.4L1660 663.7L1661 666.6L1662.1 662.7L1663.1 668L1664.1 662.1L1665.2 659.3L1666.2 657.3L1667.3 661.4L1668.3 662.1L1669.4 655.4L1670.4 658.5L1671.5 663.7L1672.5 657.3L1673.6 657.6L1674.6 653.5L1675.7 653.4L1676.8 655.9L1677.9 655.2L1678.9 650.8L1680 653.7L1681.1 655.8L1682.2 649.8L1683.2 651.2L1684.3 646.7L1685.4 644L1686.5 653.6L1687.6 658.8L1688.7 645.7L1689.8 662.1L1690.9 646.2L1692 648.7L1693.1 648.3L1694.2 651.4L1695.3 646.3L1696.4 645.3L1697.5 646.3L1698.6 643L1699.7 641.1L1700.8 646.1L1701.9 645.1L1703.1 638.7L1704.2 641.9L1705.3 643.2L1706.4 637.5L1707.5 640.2L1708.6 645.5L1709.7 639L1710.8 645.8L1711.9 638.8L1713 636.8L1714.1 634.9L1715.2 637.5L1716.3 634.2L1717.4 641.4L1718.5 636.8L1719.7 635.5L1720.8 639.6L1721.9 639.6L1723 631L1724.1 630.3L1725.2 636.4L1726.3 632.5L1727.4 631.7L1728.5 628.7L1729.6 630.7L1730.7 631.5L1731.8 635.2L1732.9 628L1734 627.5L1735.1 627.9L1736.2 633.6L1737.3 628L1738.4 623.6L1739.5 627.6L1740.6 618.5L1741.7 628.2L1742.8 627.4L1743.9 622.2L1745 624.9L1746.1 623.2L1747.2 616.7L1748.3 623.2L1749.4 622.7L1750.5 625.4L1751.6 622.8L1752.7 625.6L1753.8 624.7L1754.9 623.5L1756 619.5L1757.1 620.7L1758.2 622.9L1759.3 619.9L1760.4 613.3L1761.5 619.8L1762.6 622.8L1763.7 608L1764.8 616.4L1765.9 610.1L1767 612.7L1768 614.8L1769.1 613.1L1770.2 614.2L1771.3 604.5L1772.4 613.3L1773.5 608.9L1774.6 608.9L1775.7 614.3L1776.8 608.9L1777.8 612.4L1778.9 617.7L1780 612.1L1781.1 611.2L1782.2 609.3L1783.3 608.5L1784.3 605L1785.4 601.1L1786.5 605.5L1787.6 604.2L1788.6 604.3L1789.7 606L1790.8 607.2L1791.9 604.8L1792.9 604L1794 604.8L1795.1 602.2L1796.1 604.7L1797.2 595L1798.3 601.8L1799.4 596.9L1800.4 603.4L1801.5 596.3L1802.6 599.9L1803.6 597.5L1804.7 596.5L1805.8 595.7L1806.8 600.6L1807.9 599.1L1809 602.2L1810 590.6L1811.1 594.2L1812.2 594.3L1813.2 597.9L1814.3 593.8L1815.4 591.1L1816.4 593.6L1817.5 588.9L1818.6 597.1L1819.7 591L1820.7 590.6L1821.8 589.3L1822.9 587.8L1823.9 589.9L1825 586.8L1826.1 585.4L1827.2 581.3L1828.2 579.1L1829.3 590.4L1830.4 583.2L1831.4 582.8L1832.5 585.8L1833.6 576.8L1834.7 582.7L1835.8 584L1836.8 588.5L1837.9 581L1839 573.3L1840.1 585.1L1841.2 577.6L1842.3 580.4L1843.3 584.5L1844.4 584.6L1845.5 571.5L1846.6 574.7L1847.7 577.5L1848.8 573.2L1849.9 570.4L1850.9 575.9L1852 573.6L1853.1 573.7L1854.2 571.7L1855.3 578.3L1856.4 573.8L1857.5 569.5L1858.6 573.3L1859.7 573.8L1860.7 567.4L1861.8 571.4L1862.9 565.9L1864 569.5L1865.1 569.4L1866.2 566.9L1867.3 573.4L1868.4 562.6L1869.5 560.6L1870.6 558.1L1871.7 568.8L1872.8 560.5L1873.9 565.1L1875 566.8L1876.1 555.6L1877.1 556.1L1878.2 568.2L1879.3 564.2L1880.4 560L1881.5 557.2L1882.6 557.3L1883.7 561.1L1884.8 553.9L1885.9 556.6L1887 563.5L1888.1 563.3L1889.2 554.9L1890.3 554L1891.4 556.5L1892.5 559.3L1893.6 556.2L1894.7 559.1L1895.8 556.6L1896.9 556.3L1898 552.3L1899.1 557.7L1900.2 553.6L1901.3 554.8L1902.4 548L1903.5 553.7L1904.7 548.1L1905.8 551.6L1906.9 549.9L1908 547.4L1909.1 542.8L1910.2 547.3L1911.3 539.4L1912.4 544.9L1913.5 544L1914.6 545.9L1915.7 547.7L1916.8 546.6L1917.9 544.4L1919 544.7L1920.2 544.3L1921.3 541L1922.4 538.3L1923.5 534.8L1924.6 547.4L1925.7 541.7L1926.8 536.8L1927.9 546.3L1929 534.5L1930.2 537.7L1931.3 535L1932.4 539.4L1933.5 540.7L1934.6 535.7L1935.7 535.7L1936.8 539.6L1938 541.9L1939.1 535.8L1940.2 539.9L1941.3 532.2L1942.4 535.1L1943.5 531.2L1944.6 532.5L1945.8 533.6L1946.9 532.9L1948 528.8L1949.1 533.1L1950.2 534.2L1951.3 534.7L1952.4 536.9L1953.6 530.9L1954.7 528.4L1955.8 526.6L1956.9 530.3L1958 533.8L1959.1 531.4L1960.3 528.8L1961.4 526.2L1962.5 527.9L1963.6 529.8L1964.7 520.5L1965.8 519.8L1967 523.4L1968.1 523L1969.2 518.6L1970.3 522.1L1971.4 525.3L1972.5 514.9L1973.6 525.6L1974.8 522L1975.9 522.5L1977 523.4L1978.1 521.3L1979.2 519.7L1980.3 519.3L1981.5 520.1L1982.6 518.9L1983.7 518.1L1984.8 521.1L1985.9 516.4L1987 524.6L1988.2 515.4L1989.3 514.4L1990.4 512.1L1991.5 520L1992.6 512.1L1993.8 514.4L1994.9 509.5L1996 515.3L1997.1 511.9L1998.2 516.9L1999.3 513.8L2000.5 517.5L2001.6 510.4L2002.7 512.5L2003.8 510.4L2004.9 514L2006.1 512.2L2007.2 510.3L2008.3 507.1L2009.4 505.8L2010.5 509.1L2011.7 498.3L2012.8 503.5L2013.9 506.8L2015 508L2016.1 509.7L2017.3 505.2L2018.4 508.5L2019.5 506.6L2020.6 502.6L2021.7 506L2022.9 511.1L2024 504.7L2025.1 505.4L2026.2 506.9L2027.4 500L2028.5 498.4L2029.6 499.8L2030.7 504.9L2031.8 499L2033 497.7L2034.1 497.3L2035.2 499L2036.3 500.9L2037.4 502L2038.6 496.3L2039.7 503L2040.8 494.8L2041.9 493.3L2043 497L2044.2 497.8L2045.3 495.9L2046.4 493.5L2047.5 491.7L2048.7 490.3L2049.8 493L2050.9 492.6L2052 494.4L2053.1 495.1L2054.3 491.8L2055.4 486.2L2056.5 486.6L2057.6 487.1L2058.7 487.3L2059.9 488.8L2061 489.1L2062.1 491.6L2063.2 490.1L2064.3 487.9L2065.5 487.9L2066.6 483.4L2067.7 486L2068.8 487.9L2069.9 485.5L2071.1 489.9L2072.2 489.2L2073.3 483.7L2074.4 480.6L2075.5 484.2L2076.7 486.1L2077.8 486.6L2078.9 489.1L2080 481L2081.1 479.3L2082.3 473.7L2083.4 481.9L2084.5 482.5L2085.6 478.1L2086.7 476.2L2087.9 473.9L2089 477.9L2090.1 475.4L2091.2 478.6L2092.3 477.2L2093.4 476L2094.6 474.3L2095.7 475.4L2096.8 470.4L2097.9 474.2L2099 471.9L2100.1 475.2L2101.3 472.7L2102.4 476.9L2103.5 471.9L2104.6 478L2105.7 474.7L2106.8 474.5L2108 470.8L2109.1 474.4L2110.2 471.3L2111.3 471L2112.4 465L2113.5 470.5L2114.6 466.2L2115.8 465.6L2116.9 473.2L2118 470L2119.1 461.1L2120.2 465.3L2121.3 470.9L2122.4 466.6L2123.5 459L2124.7 461.9L2125.8 462.4L2126.9 459.8L2128 459.4L2129.1 464.2L2130.2 458.6L2131.3 459.9L2132.4 456.6L2133.6 465.1L2134.7 459.5L2135.8 460.1L2136.9 459.1L2138 460.4L2139.1 455.8L2140.2 457.3L2141.3 459.9L2142.4 456.3L2143.6 457.8L2144.7 459L2145.8 460.5L2146.9 457.7L2148 451L2149.1 448.9L2150.2 455.2L2151.3 451L2152.4 456.9L2153.6 445.5L2154.7 454.8L2155.8 455L2156.9 448.7L2158 450.4L2159.1 449.4L2160.2 453.6L2161.3 447.4L2162.4 445.3L2163.5 446.4L2164.7 447L2165.8 444.3L2166.9 449.3L2168 446.6L2169.1 451.8L2170.2 448L2171.3 447.7L2172.4 444.3L2173.5 443.9L2174.6 439.7L2175.8 446L2176.9 443.4L2178 440.8L2179.1 442.5L2180.2 437.1L2181.3 439.7L2182.4 439.8L2183.5 437.2L2184.6 441.5L2185.7 438.8L2186.9 437.4L2188 438.6L2189.1 436.8L2190.2 437.3L2191.3 436.6L2192.4 438.4L2193.5 444.3L2194.6 437.5L2195.7 437.8L2196.8 436L2198 438.1L2199.1 436L2200.2 434.9L2201.3 429.6L2202.4 434.7L2203.5 433.4L2204.6 433.3L2205.7 426.7L2206.8 431L2208 426.3L2209.1 427.9L2210.2 428.1L2211.3 429.2L2212.4 426.2L2213.5 427.8L2214.6 422.7L2215.7 422.4L2216.9 429.8L2218 427.3L2219.1 430.5L2220.2 425.9L2221.3 424.1L2222.4 429.2L2223.5 428.5L2224.7 427.1L2225.8 422.6L2226.9 422.3L2228 417.8L2229.1 423.4L2230.2 416.8L2231.3 421.8L2232.5 414.3L2233.6 423.3L2234.7 418.9L2235.8 422.3L2236.9 415.9L2238 426.3L2239.1 424.9L2240.3 415.7L2241.4 414.9L2242.5 416.6L2243.6 412.5L2244.7 416.7L2245.8 417L2247 412.5L2248.1 411.7L2249.2 413.4L2250.3 409.1L2251.4 415L2252.5 410.6L2253.7 407.6L2254.8 411.6L2255.9 410L2257 408.5L2258.1 413.7L2259.2 404.2L2260.4 407.9L2261.5 407.9L2262.6 407L2263.7 407.7L2264.8 406.1L2265.9 407.6L2267.1 410.2L2268.2 411.6L2269.3 407.7L2270.4 407.6L2271.5 403.6L2272.6 407.8L2273.8 404.9L2274.9 407.1L2276 405.4L2277.1 400.4L2278.2 404.1L2279.3 405.5L2280.5 403.2L2281.6 403.2L2282.7 395.8L2283.8 401L2284.9 404L2286.1 392.3L2287.2 398.7L2288.3 394L2289.4 399.6L2290.5 399.4L2291.7 404.3L2292.8 394.5L2293.9 396L2295 394.8L2296.1 396.1L2297.3 389.5L2298.4 391.6L2299.5 397.1L2300.6 393.2L2301.7 386.3L2302.9 391.9L2304 390.4L2305.1 390.2L2306.2 390.8L2307.3 394.2L2308.5 392.1L2309.6 386.9L2310.7 390.9L2311.8 388.8L2313 384.8L2314.1 389.1L2315.2 385.7L2316.3 386.4L2317.4 391.6L2318.6 386.8L2319.7 390.4L2320.8 384.9L2321.9 384.6L2323.1 384.5L2324.2 386.7L2325.3 378.4L2326.4 382L2327.6 379.2L2328.7 380.7L2329.8 380.8L2330.9 390.7L2332.1 380.1L2333.2 384L2334.3 375L2335.5 383L2336.6 382.2L2337.7 378.1L2338.8 383.6L2340 377.1L2341.1 380.2L2342.2 374.5L2343.4 373.7L2344.5 378.7L2345.6 375.9L2346.7 375L2347.9 371L2349 377.1L2350.1 375L2351.3 374L2352.4 377.3L2353.5 374L2354.7 372.6L2355.8 370.2L2356.9 370.3L2358.1 374.1L2359.2 368.8L2360.3 370.9L2361.5 373.2L2362.6 373.7L2363.7 375.3L2364.9 367.8L2366 373L2367.1 368.2L2368.3 364.4L2369.4 371.5L2370.6 369.1" stroke="#f00" stroke-width="1.5" fill="none" stroke-linejoin="bevel"/>
<path d="M1486 983.5L1486.8 978.7L1487.6 983.5L1488.4 978.3L1489.2 983.5L1490 979.1L1490.8 983.5L1491.6 977.9L1492.4 983.5L1493.2 978.7L1494 983.5L1494.8 978.5L1495.6 983.5L1496.4 977.8L1497.2 983.5L1498 978.5L1498.8 983.5L1499.6 978.3L1500.4 983.5L1501.2 978.1L1502 983.5L1502.8 978.1L1503.6 983.5L1504.4 976.6L1505.2 983.5L1506 977.7L1506.8 983.5L1507.6 977.5L1508.4 983.5L1509.2 969.7L1510 983.5L1510.8 975.5L1511.6 983.5L1512.4 977.9L1513.2 983.5L1514 979.7L1514.8 983.5L1515.6 978.1L1516.4 983.5L1517.2 977L1518 983.5L1518.8 975.5L1519.6 983.5L1520.4 978.3L1521.2 983.5L1522 977.4L1522.8 983.5L1523.6 973.1L1524.4 983.5L1525.2 959.4L1526 983.5L1526.8 976.4L1527.6 983.5L1528.4 977.9L1529.2 983.5L1530 977.6L1530.8 983.5L1531.6 977L1532.4 983.5L1533.2 977.7L1534 983.5L1534.8 977.4L1535.6 983.5" stroke="#0f0" stroke-width="1.2" fill="none" stroke-linejoin="bevel"/>
<path d="M1534 974.5L1534.5 974.4L1534.9 972.6L1535.3 972.6L1535.8 971.6L1536.2 969.2L1536.7 966.9L1537.1 966.9L1537.5 965.1L1537.9 964.3L1538.3 962L1538.8 960.9L1539.2 960.8L1539.5 956.8L1539.9 955.4L1540.3 955L1540.7 952.4L1541.1 952L1541.4 949.6L1541.8 949.5L1542.1 947.4L1542.4 945.8L1542.8 944.1L1543.1 942.1L1543.4 941.9L1543.7 940.9L1544 940L1544.3 937.7L1544.5 935.5L1544.8 933.7L1545 935.5L1545.3 931.9L1545.5 927.7L1545.7 927.3L1546 926.3L1546.2 924.6L1546.4 924L1546.6 922.2L1546.8 922.5L1547 919.5L1547.2 917.8L1547.3 916.3L1547.5 915.2L1547.7 913.9L1547.9 912.6L1548 912.4L1548.2 908.7L1548.4 907.6L1548.5 906.3L1548.7 905.3L1548.9 902.9L1549 901L1549.2 899.9L1549.3 897.7L1549.5 896.8L1549.6 896.9L1549.8 892.5L1550 892.5L1550.1 891.5L1550.3 890.4L1550.4 887.6L1550.6 885.8L1550.8 885.7L1550.9 884.1L1551.1 881L1551.3 881.5L1551.4 879.1L1551.6 876.7L1551.8 875.7L1552 875.8L1552.2 873.7L1552.3 871.3L1552.5 868.4L1552.7 868.3L1552.9 866.6L1553 868L1553.2 864.7L1553.4 862.6L1553.6 860.8L1553.8 857.9L1553.9 858.8L1554.1 856.3L1554.3 855.1L1554.5 853.8L1554.6 852.8L1554.8 850.7L1555 850.5L1555.2 848.9L1555.3 846.6L1555.5 845.8L1555.7 842.9L1555.9 843.1L1556.1 839.9L1556.2 838.4L1556.4 836.5L1556.6 836.1L1556.8 834L1557 832.5L1557.1 832.3L1557.3 831.7L1557.5 828.5L1557.7 827L1557.9 825.3L1558.1 823.4L1558.2 823.1L1558.4 821.4L1558.6 819.8L1558.8 818.9L1559 816.5L1559.1 814.7L1559.3 813.2L1559.5 812.6L1559.7 810.5L1559.9 808.8L1560 807.8L1560.2 805.8L1560.4 803.6L1560.6 804.8L1560.8 800.6L1560.9 801.5L1561.1 799L1561.3 796.9L1561.5 796.6L1561.7 794.4L1561.9 791.5L1562.1 791L1562.3 789.5L1562.5 788.8L1562.7 787.4L1562.9 784.3L1563.1 783.8L1563.3 782.4L1563.5 780.2L1563.7 780.4L1564 778L1564.2 776.5L1564.4 774.8L1564.6 773.2L1564.9 771.5L1565.1 772.5L1565.3 769.4L1565.6 768.4L1565.8 766.7L1566.1 765.3L1566.3 763.4L1566.6 762.1L1566.8 760L1567.1 759.6L1567.3 756.7L1567.6 756.6L1567.9 753.1L1568.1 753.2L1568.4 752.3L1568.7 749.4L1568.9 747.9L1569.2 747.6L1569.5 746L1569.8 743.2L1570.1 744L1570.4 739.1L1570.6 739.9L1570.9 739L1571.2 736.9L1571.5 736.3L1571.8 732.6L1572.1 731L1572.4 730.6L1572.8 730.7L1573.1 726.6L1573.4 726.8L1573.7 723.7L1574.1 724.1L1574.4 721.5L1574.7 720.5L1575.1 718.5L1575.4 717.8L1575.8 714.9L1576.1 715.9L1576.5 713.8L1576.8 712.5L1577.2 709.7L1577.6 708.3L1577.9 708L1578.3 705.5L1578.7 703.4L1579.1 704.3L1579.5 699.9L1579.9 698.8L1580.3 699.3L1580.7 696.3L1581.2 695.4L1581.6 693.1L1582 692L1582.5 691.7L1582.9 689.8L1583.4 688.2L1583.9 685.4L1584.3 684.8L1584.8 683.8L1585.3 684.2L1585.8 681.4L1586.3 681.3L1586.8 678.6L1587.3 675.9L1587.8 675.3L1588.3 675L1588.8 672.9L1589.3 672.3L1589.9 670.4L1590.4 668.4L1590.9 666.8L1591.5 665.3L1592 665L1592.6 662.6L1593.2 660.7L1593.8 660.9L1594.4 658.4L1595 657.7L1595.6 656.1L1596.2 653.4L1596.8 653.5L1597.3 653L1597.9 651.7L1598.4 650.5L1599 646.4L1599.5 646.7L1600 645.4L1600.5 643.4L1601 641.6L1601.5 641.2L1602 639.5L1602.5 639.5L1603 637L1603.5 635.9L1604 634.2L1604.5 632.4L1605 631.4L1605.4 628.8L1605.9 628.3L1606.4 626L1606.8 624.9L1607.2 624.1L1607.6 622L1608.1 622.2L1608.5 620.6L1608.9 616.2L1609.2 617.1L1609.6 613.1L1610 613.1L1610.5 611.8L1610.9 611.3L1611.3 608.5L1611.7 606.2L1612.2 607L1612.7 605L1613.2 602.9L1613.7 601.2L1614.2 601.2L1614.8 598.9L1615.5 598.3L1616.2 595.6L1617 596.2L1617.8 594.5L1618.7 592.8L1619.5 592.7L1620.4 590.8L1621.3 589.8L1622.2 588.5L1623 584.7L1623.8 585.3L1624.6 583.6L1625.3 583.5L1625.9 580.8L1626.6 580.3L1627.2 578.3L1627.8 578L1628.4 577.1L1628.9 573.9L1629.5 572.9L1630 573.3L1630.5 571.9" stroke="#0f0" stroke-width="2.0" fill="none" stroke-linejoin="bevel"/>
<path d="M1630.7 571.4L1631.4 568.8L1632.2 572.5L1632.9 570.6L1633.6 567.2L1634.4 569.4L1635.1 572L1635.8 572.4L1636.6 568.7L1637.3 559.6L1638 564.5L1638.7 569.5L1639.5 559.1L1640.2 562.9L1640.9 563.4L1641.6 560.3L1642.4 559.8L1643.1 566.8L1643.8 560L1644.5 573.1L1645.2 566.2L1645.9 564.6L1646.7 556.8L1647.4 558.9L1648.1 558.1L1648.8 563.3L1649.5 561.4L1650.2 555.9L1650.9 565.4L1651.6 559.7L1652.3 565.1L1653 561.5L1653.7 559.5L1654.4 566.4L1655.1 554.5L1655.8 563.2L1656.5 554L1657.1 555.5L1657.8 547.7L1658.5 557.4L1659.2 556.6L1659.9 556.8L1660.6 549.6L1661.3 549.8L1662 549.1L1662.7 557.9L1663.4 548.8L1664.1 541.1L1664.8 548.3L1665.5 548.4L1666.2 551.4L1666.9 547.4L1667.6 550L1668.4 555.6L1669.1 547L1669.8 551.7L1670.5 550.2L1671.3 553.3L1672 549.6L1672.7 553L1673.4 554.1L1674.2 545.6L1674.9 552.6L1675.6 554.8L1676.4 547.8L1677.1 542.9L1677.9 549.5L1678.6 553.4L1679.4 539.4L1680.1 547.8L1680.9 548.6L1681.6 543.7L1682.3 533.5L1683.1 539.5L1683.8 549.3L1684.6 550.8L1685.4 546.7L1686.1 540.7L1686.9 547.1L1687.6 548.2L1688.4 549.5L1689.1 529L1689.9 531.3L1690.6 539.8L1691.4 547.4L1692.1 537.7L1692.9 535.6L1693.6 543.7L1694.4 539.6L1695.2 545L1695.9 538.7L1696.7 540.2L1697.4 531.9L1698.2 535L1698.9 535L1699.7 538.8L1700.4 543L1701.2 528.9L1701.9 534.8L1702.7 535.6L1703.4 534.4L1704.2 542.2L1704.9 541.2L1705.6 533.4L1706.4 542.6L1707.1 532.8L1707.9 533.1L1708.6 536L1709.3 535.2L1710.1 530.9L1710.8 537.4L1711.5 540.2L1712.3 537.6L1713 533.4L1713.8 544.5L1714.5 531.1L1715.2 532L1716 529.3L1716.7 529.9L1717.4 539.5L1718.2 542.9L1718.9 527.4L1719.6 530.2L1720.4 531.6L1721.1 532L1721.8 530.5L1722.6 526.9L1723.3 531.8L1724 531.2L1724.7 530.7L1725.5 533.6L1726.2 533.9L1726.9 530.1L1727.7 526.6L1728.4 515.7L1729.1 528.8L1729.9 530.7L1730.6 518.9L1731.3 521.3L1732 523L1732.8 523.7L1733.5 525.3L1734.2 529.6L1735 522.9L1735.7 524.4L1736.4 517.9L1737.1 524L1737.9 530L1738.6 518.4L1739.3 520.9L1740.1 518.5L1740.8 520.3L1741.5 519.7L1742.2 518.8L1743 521.9L1743.7 525.4L1744.4 526.1L1745.1 517.7L1745.9 515.7L1746.6 519.9L1747.3 524.7L1748 518.2L1748.8 516.4L1749.5 520.4L1750.2 519.8L1750.9 513.3L1751.7 514.2L1752.4 514.8L1753.1 521.9L1753.8 524.3L1754.6 511.8L1755.3 520.1L1756 509L1756.7 514.2L1757.5 515.3L1758.2 510.7L1758.9 512.9L1759.6 517.3L1760.4 510.4L1761.1 508.8L1761.8 504.6L1762.6 504.4L1763.3 516.5L1764 508.3L1764.7 506.7L1765.5 512.4L1766.2 513.3L1766.9 509L1767.6 507.1L1768.4 504.7L1769.1 507L1769.8 505.3L1770.5 505.2L1771.3 510.7L1772 504.8L1772.7 503.3L1773.4 501.5L1774.2 504.6L1774.9 506.5L1775.6 498.7L1776.3 502.5L1777.1 504.8L1777.8 503.9L1778.5 506.9L1779.2 501.9L1780 507.5L1780.7 509L1781.4 504.2L1782.1 498.6L1782.9 501.3L1783.6 501.3L1784.3 498.6L1785 503.4L1785.8 498L1786.5 495.3L1787.2 499.3L1787.9 504.9L1788.7 496.1L1789.4 495.8L1790.1 492.7L1790.8 487.7L1791.5 496.9L1792.3 504.2L1793 501.6L1793.7 500.4L1794.4 500.4L1795.2 501.2L1795.9 492.7L1796.6 498.1L1797.3 497.7L1798 493L1798.8 489L1799.5 490.4L1800.2 488L1800.9 484.4L1801.6 486.2L1802.4 501.8L1803.1 490.2L1803.8 488.7L1804.5 496.7L1805.3 492.4L1806 489.8L1806.7 484.7L1807.4 493.7L1808.1 494.3L1808.9 486.6L1809.6 491.7L1810.3 480.3L1811 485.9L1811.7 494.1L1812.5 491.7L1813.2 487L1813.9 486L1814.6 485.4L1815.4 485.9L1816.1 488.6L1816.8 483.3L1817.5 486.3L1818.3 485.1L1819 479.9L1819.7 486.8L1820.4 487.9L1821.2 486.7L1821.9 485.6L1822.6 477L1823.3 477.4L1824.1 478.6L1824.8 480.4L1825.5 475.9L1826.3 479.3L1827 483.2L1827.7 480.2L1828.4 479.5L1829.2 478.8L1829.9 474.7L1830.6 475.7L1831.4 487.5L1832.1 475.1L1832.8 480.8L1833.6 477.6L1834.3 473.9L1835 470.9L1835.8 478.6L1836.5 471.9L1837.2 476.7L1838 477.5L1838.7 483.2L1839.4 473.1L1840.2 469.4L1840.9 479.8L1841.7 473.1L1842.4 473.2L1843.2 480.2L1843.9 473.9L1844.6 470.2L1845.4 472.9L1846.1 474.6L1846.9 466.2L1847.7 471.5L1848.4 468.2L1849.2 475.1L1849.9 476.2L1850.7 477.2L1851.4 464.6L1852.2 469.3L1852.9 472.5L1853.7 467.4L1854.5 465.4L1855.2 472.4L1856 462.3L1856.7 471.3L1857.5 462.4L1858.3 468.4L1859 465.4L1859.8 468.7L1860.5 463.8L1861.3 466.3L1862 464.1L1862.8 457.5L1863.5 465.2L1864.3 466.1L1865.1 463.8L1865.8 465.9L1866.5 460.1L1867.3 469.6L1868 471.6L1868.8 464.3L1869.5 469.6L1870.3 464.5L1871 465L1871.7 462.2L1872.5 462L1873.2 465.1L1873.9 458.7L1874.7 463.1L1875.4 465.4L1876.1 459.8L1876.8 463.2L1877.5 467.7L1878.3 453L1879 458.1L1879.7 453.5L1880.4 457.7L1881.1 460.9L1881.8 452.6L1882.5 466.4L1883.2 456.2L1883.9 457.6L1884.6 454.6L1885.3 456.8L1886 456L1886.7 453.2L1887.4 449.7L1888.1 456L1888.7 458.4L1889.4 456.8L1890.1 454.1L1890.8 452.6L1891.5 451.4L1892.2 453.1L1892.9 453.4L1893.6 456.9L1894.3 448.2L1894.9 462.8L1895.6 450.6L1896.3 447.7L1897 451L1897.7 448.7L1898.4 442.5L1899.1 445.9L1899.8 447.3L1900.5 445.1L1901.2 445.4L1901.9 443L1902.6 440.6L1903.3 451.2L1904 440.3L1904.7 445.9L1905.4 440.6L1906.1 445.9L1906.8 439.9L1907.5 448.1L1908.2 440.6L1908.9 444.2L1909.6 445.3L1910.4 441.3L1911.1 438.4L1911.8 434.8L1912.5 431.4L1913.3 440.2L1914 438L1914.7 440.1L1915.4 439.4L1916.1 439.6L1916.9 445.2L1917.6 441.8L1918.3 439.3L1919.1 442.2L1919.8 439.7L1920.5 440.5L1921.2 448L1922 437.8L1922.7 435.6L1923.4 428.3L1924.2 433L1924.9 434L1925.6 432.3L1926.4 432.4L1927.1 431L1927.8 430.2L1928.6 428.6L1929.3 425.9L1930 432.8L1930.8 429.8L1931.5 433.2L1932.2 434L1933 428.3L1933.7 433.1L1934.5 424.4L1935.2 432.7L1935.9 430.7L1936.7 430.3L1937.4 429.5L1938.2 428.6L1938.9 431.2L1939.7 436L1940.4 432.8L1941.1 430.2L1941.9 427.8L1942.6 430.9L1943.4 431.8L1944.1 427.7L1944.9 429.2L1945.6 429.7L1946.4 428.9L1947.1 432.6L1947.9 431.4L1948.6 429.6L1949.4 431.8L1950.1 427.2L1950.9 417.8L1951.7 428.6L1952.4 416.4L1953.2 421L1953.9 422.8L1954.7 420.1L1955.4 430.2L1956.2 421.8L1957 424.7L1957.7 419L1958.5 423.7L1959.2 421L1960 420.9L1960.8 417.1L1961.5 415.7L1962.3 421.8L1963.1 422.3L1963.8 418.9L1964.6 418.4L1965.4 416.4L1966.1 422.6L1966.9 413.4L1967.7 418.7L1968.4 422.1L1969.2 420.4L1970 421.2L1970.8 424.7L1971.5 418.9" stroke="#0f0" stroke-width="1.6" fill="none" stroke-linejoin="bevel"/>
<path d="M1972 412.6L1976.5 431.3L1981.1 397.6L1985.5 414.1L1989.9 419.1L1994.3 411.2L1998.6 411.5L2002.9 409.8L2007.1 412.5L2011.3 416.6L2015.3 407L2019.3 389.1L2023.2 410.7L2027.1 404.4L2030.9 392.3L2034.8 389.1L2038.6 399.1L2042.5 392.7L2046.5 387.6L2050.5 387L2054.6 388L2058.8 390.4L2063 388.4L2067.3 380.8L2071.5 376.5L2075.9 378.8L2080.2 375.8L2084.5 367.4L2088.8 380.8L2093.2 372.6L2097.5 367.2L2101.7 368.8L2106 376.3L2110.2 371.1L2114.5 357.2L2118.7 383.2L2122.9 353.4L2127.1 364.7L2131.3 349.5L2135.4 353.6L2139.5 364.7L2143.6 353.2L2147.6 362.3L2151.6 362.4L2155.6 337.6L2159.7 345L2163.9 353.4L2168.1 345.4L2172.4 341.5L2176.7 338.5L2181 334L2185.3 331.9L2189.6 338.3L2193.8 331.9L2198.1 328.6L2202.3 334.3L2206.5 325.1L2210.8 330.4L2215 336L2219.2 315.1L2223.4 324.3L2227.6 318.8L2231.7 314.9L2235.8 312.5L2239.9 318.5L2243.8 312.5L2247.7 311.3L2251.6 310.1L2255.6 310.5L2259.8 320.1L2264 295.2L2268.4 296L2272.8 307.2L2277.3 307.2L2281.8 303.8L2286.3 306.5L2290.7 298.3L2295.2 300.2L2299.6 294.8L2304 302L2308.4 293.6L2312.9 299.8" stroke="#0f0" stroke-width="1.4" fill="none" stroke-linejoin="bevel"/>
<path d="M1484 983.5L1484.8 975.2L1485.6 983.5L1486.4 976.2L1487.2 983.5L1488 975.5L1488.8 983.5L1489.6 970.6L1490.4 983.5L1491.2 969.9L1492 983.5L1492.8 976.6L1493.6 983.5L1494.4 974.3L1495.2 983.5L1496 976L1496.8 983.5L1497.6 972.8L1498.4 983.5L1499.2 972.7L1500 983.5L1500.8 974.2L1501.6 983.5L1502.4 975L1503.2 983.5L1504 974.3L1504.8 983.5L1505.6 976L1506.4 983.5L1507.2 977.2L1508 983.5L1508.8 973.1L1509.6 983.5L1510.4 975.6L1511.2 983.5L1512 973.7L1512.8 983.5L1513.6 973.2L1514.4 983.5L1515.2 978.4L1516 983.5L1516.8 977.4L1517.6 983.5L1518.4 973.2L1519.2 983.5L1520 973.1L1520.8 983.5L1521.6 977L1522.4 983.5L1523.2 978.6L1524 983.5L1524.8 977L1525.6 983.5L1526.4 976L1527.2 983.5L1528 973.5L1528.8 983.5L1529.6 975.1L1530.4 983.5L1531.2 978.1L1532 983.5L1532.8 975.1L1533.6 983.5L1534.4 976.2L1535.2 983.5L1536 978.8L1536.8 983.5L1537.6 979.1" stroke="#00f" stroke-width="1.3" fill="none" stroke-linejoin="bevel"/>
<path d="M1536.3 976.8L1536.6 976.4L1537 972.9L1537.3 971.3L1537.6 969.5L1538 968.2L1538.3 966.8L1538.6 967.1L1538.9 965.3L1539.2 962.4L1539.5 962L1539.8 959.2L1540.1 959.6L1540.4 956.4L1540.7 955.5L1541 954.5L1541.2 951L1541.5 950.8L1541.8 949.9L1542 947.1L1542.3 945.8L1542.5 944.9L1542.8 943.4L1543 944.7L1543.2 941.4L1543.4 939.6L1543.7 938.5L1543.9 936.3L1544.1 934.5L1544.3 933.9L1544.5 933.5L1544.7 930.6L1544.9 929.6L1545.1 928.4L1545.3 926.8L1545.5 924.3L1545.7 923.1L1545.8 921.9L1546 919.9L1546.2 917.6L1546.4 916.4L1546.6 915.5L1546.7 914.8L1546.9 912.3L1547.1 912.1L1547.2 909.4L1547.4 908.7L1547.6 906.2L1547.7 904.4L1547.9 902.9L1548.1 901.7L1548.2 900L1548.4 899.5L1548.6 897.6L1548.7 895.2L1548.9 894.5L1549 895.4L1549.2 889.6L1549.4 892.2L1549.5 888.6L1549.7 887L1549.8 886.2L1550 884L1550.1 882.7L1550.2 880.3L1550.4 879.8L1550.5 879L1550.7 878L1550.8 875.2L1551 874.6L1551.1 871.8L1551.2 871L1551.4 869.4L1551.5 867.7L1551.7 867.3L1551.8 865.3L1552 864.7L1552.1 863L1552.2 861.7L1552.4 859L1552.5 857.9L1552.7 857.2L1552.8 853.6L1553 851.5L1553.1 851.4L1553.3 849.9L1553.4 847.8L1553.6 847.4L1553.7 846.5L1553.9 844.9L1554 842.9L1554.2 841.8L1554.4 840.9L1554.5 836.2L1554.7 837L1554.8 835L1555 835.1L1555.1 832.8L1555.3 828.8L1555.4 829.6L1555.6 827.4L1555.7 826.6L1555.9 824.2L1556 823.7L1556.2 821.2L1556.3 821.1L1556.5 817.6L1556.6 817.4L1556.8 816.8L1556.9 814.6L1557.1 814.1L1557.2 811.9L1557.4 809L1557.5 807.8L1557.7 807.2L1557.8 805.5L1557.9 804.3L1558.1 802.8L1558.2 799.4L1558.3 799.7L1558.5 798.6L1558.6 798.7L1558.7 795.1L1558.9 793.6L1559 792.3L1559.2 790.8L1559.3 787.8L1559.4 788.1L1559.6 785.6L1559.7 784L1559.9 781.9L1560 781.1L1560.2 777.7L1560.3 777.4L1560.5 778.2L1560.7 774.5L1560.8 773.8L1561 773.4L1561.2 771.2L1561.4 769.6L1561.6 768.4L1561.8 766.3L1562 764.1L1562.2 763.5L1562.4 762.1L1562.7 760.1L1562.9 759.5L1563.1 758.4L1563.4 756.6L1563.6 752.8L1563.9 753.9L1564.2 750.6L1564.4 749.5L1564.7 748.4L1564.9 745.9L1565.2 745.1L1565.5 744.3L1565.8 744.6L1566 739.9L1566.3 739L1566.6 738.2L1566.8 736L1567.1 736.1L1567.4 734.4L1567.6 732.4L1567.9 730.9L1568.2 729.7L1568.5 728.1L1568.8 726.1L1569.1 726L1569.3 722.4L1569.6 722.8L1569.9 721.3L1570.2 719.9L1570.5 717.2L1570.8 716.4L1571.1 714.1L1571.4 715.1L1571.7 711.1L1572 711L1572.3 710L1572.7 708L1573 704.9L1573.3 704L1573.6 702.4L1573.9 702.2L1574.2 702L1574.6 698.5L1574.9 695.5L1575.2 694.7L1575.5 694.7L1575.9 693.3L1576.2 689.3L1576.6 690.1L1576.9 688.4L1577.2 687.3L1577.6 684.5L1577.9 684L1578.3 682.8L1578.6 680.3L1579 680.1L1579.4 679.9L1579.7 676.6L1580.1 676.3L1580.4 672.2L1580.8 672.4L1581.1 671.6L1581.5 669L1581.8 668.9L1582.1 666.8L1582.5 665.4L1582.8 663.2L1583.2 661.8L1583.5 661.3L1583.9 657.7L1584.2 657.9L1584.6 657.2L1585 655.1L1585.4 652.8L1585.8 653.7L1586.2 650.9L1586.6 649.7L1587 647.6L1587.4 646.3L1587.9 644.7L1588.3 643.4L1588.8 641.6L1589.3 641.1L1589.8 640L1590.4 638.7L1591.1 636.6L1591.8 635L1592.5 632.1L1593.2 631.2L1593.9 630.4L1594.5 630L1595 629.1L1595.5 627.3L1596 626.7L1596.4 626.1L1596.8 623.5L1597.2 621.8L1597.6 619.3L1597.9 619L1598.3 616.3L1598.6 614.8L1598.9 615.1L1599.2 613.1L1599.6 611.5L1599.9 608.5L1600.2 608.3L1600.5 606.7L1600.8 605.6L1601.2 603.8L1601.5 601.5L1601.8 601.1L1602.2 599.9L1602.5 598.6L1602.9 596.9L1603.3 594.5L1603.7 594.3L1604.1 590.6L1604.5 590.6L1605 589.4L1605.4 588L1605.9 588.4L1606.3 584.7L1606.8 583.5L1607.3 581.2L1607.8 581L1608.2 579.3L1608.7 578.2L1609.3 574.6L1609.8 574.7L1610.3 574L1610.8 572.8L1611.4 571.4L1612 569L1612.6 568.2L1613.2 566.5L1613.8 565L1614.5 565.1L1615.1 560.1L1615.7 560L1616.3 559.8L1616.9 558.8L1617.4 557.4L1618 555.8L1618.6 553.5L1619.2 552.6L1619.8 552.2L1620.3 549.2L1620.9 549.3L1621.5 546.7" stroke="#00f" stroke-width="2.4" fill="none" stroke-linejoin="bevel"/>
<path d="M1622 547.3L1622.5 545.4L1623 545.9L1623.6 545L1624.1 540.5L1624.6 546.6L1625.2 548.1L1625.7 539.2L1626.2 542.1L1626.8 543L1627.3 545.7L1627.9 540.7L1628.4 544.1L1629 544.9L1629.5 543.8L1630.1 537.5L1630.6 538.7L1631.2 543.5L1631.8 540.7L1632.4 537.6L1632.9 537.4L1633.5 535.2L1634.1 527.2L1634.7 532.3L1635.3 532.8L1635.8 537L1636.4 536.2L1637 537.4L1637.6 529.4L1638.2 529.4L1638.9 542L1639.5 534.3L1640.1 541.6L1640.7 540.4L1641.3 527.6L1642 538.9L1642.6 530.9L1643.2 531.4L1643.9 532.1L1644.5 529.5L1645.2 530.3L1645.8 527.1L1646.5 528.4L1647.1 529.5L1647.8 531.7L1648.4 522.2L1649.1 534.5L1649.7 529.6L1650.4 530L1651 525.5L1651.7 529.7L1652.3 525.4L1653 524.4L1653.7 528.1L1654.3 526.2L1655 530.7L1655.6 520.3L1656.3 525.5L1656.9 516.3L1657.6 517.9L1658.2 528.2L1658.9 528.2L1659.5 526L1660.2 528.3L1660.9 527L1661.5 517.8L1662.2 524.2L1662.8 517.6L1663.5 528.8L1664.1 525.3L1664.8 521.6L1665.4 523.3L1666.1 519.9L1666.8 519.3L1667.4 520.2L1668.1 516.2L1668.7 520.7L1669.4 519.6L1670.1 521L1670.7 522.8L1671.4 532.1L1672.1 525.3L1672.7 525.9L1673.4 528.5L1674.1 519.9L1674.7 522.9L1675.4 526.8L1676.1 521.8L1676.7 518.5L1677.4 522.8L1678.1 513.3L1678.7 513.9L1679.4 521.3L1680.1 516.4L1680.7 518.2L1681.4 512.7L1682.1 516.6L1682.7 517.6L1683.4 521.8L1684.1 519.1L1684.7 514.2L1685.4 513L1686.1 519.1L1686.7 515.9L1687.4 510.1L1688.1 514L1688.8 515.2L1689.4 519.3L1690.1 513.1L1690.8 517.6L1691.4 512.6L1692.1 510.9L1692.8 519.8L1693.4 507.1L1694.1 511.7L1694.8 526.6L1695.4 508.8L1696.1 523.8L1696.8 509.8L1697.5 510L1698.1 514.8L1698.8 513.1L1699.5 513.6L1700.1 512.2L1700.8 508.4L1701.5 513.2L1702.1 513.1L1702.8 501.3L1703.5 506.1L1704.1 514.8L1704.8 513.2L1705.4 513.8L1706.1 507.9L1706.8 513.9L1707.4 510.8L1708.1 509.1L1708.8 499.2L1709.4 509.1L1710.1 511.4L1710.7 508.5L1711.4 502.5L1712.1 511.7L1712.7 510.8L1713.4 507.2L1714 505.4L1714.7 512.8L1715.4 508.1L1716 506.1L1716.7 500.8L1717.3 509.6L1718 501.1L1718.7 507.2L1719.3 503L1720 515.4L1720.6 504.5L1721.3 502.7L1721.9 496.4L1722.6 501.8L1723.3 505.3L1723.9 503.7L1724.6 496.3L1725.2 503.9L1725.9 504.8L1726.5 504.3L1727.2 495.7L1727.9 496.8L1728.5 502.7L1729.2 506.6L1729.8 504.7L1730.5 498.6L1731.1 502.5L1731.8 492.5L1732.5 501.2L1733.1 497.6L1733.8 491.9L1734.4 501.4L1735.1 500.9L1735.7 501.5L1736.4 496.5L1737 498.8L1737.7 500.1L1738.4 496L1739 502L1739.7 497.2L1740.3 501.1L1741 499.2L1741.6 493.6L1742.3 491.8L1743 497.7L1743.6 495.2L1744.3 493.3L1744.9 488.8L1745.6 492.5L1746.2 494.7L1746.9 496.1L1747.5 495.4L1748.2 495.6L1748.9 490L1749.5 494.8L1750.2 494.3L1750.8 500.6L1751.5 494.5L1752.1 492L1752.8 487.2L1753.5 498.3L1754.1 489.2L1754.8 484.6L1755.4 496.1L1756.1 485.4L1756.7 489.8L1757.4 490.1L1758.1 487.6L1758.7 488.2L1759.4 491L1760 491.8L1760.7 491.5L1761.4 482.1L1762 490.7L1762.7 492L1763.3 481.9L1764 488.2L1764.6 483.5L1765.3 487.9L1766 485.9L1766.6 480.6L1767.3 490.7L1767.9 490.6L1768.6 484.1L1769.3 482.5L1769.9 482.8L1770.6 484.1L1771.3 494.6L1771.9 489.3L1772.6 487.1L1773.2 487.5L1773.9 484.6L1774.6 486.1L1775.2 484L1775.9 490L1776.6 481.5L1777.2 486.6L1777.9 482.6L1778.5 482L1779.2 488.3L1779.9 483.8L1780.5 482.9L1781.2 483.8L1781.9 482.7L1782.5 478.2L1783.2 479.3L1783.9 480.5L1784.5 486.2L1785.2 484.7L1785.9 479.7L1786.5 479.8L1787.2 485.6L1787.9 485.1L1788.6 481.6L1789.2 475.7L1789.9 482.5L1790.6 477.4L1791.2 482.7L1791.9 486.1L1792.6 485.7L1793.2 476.4L1793.9 475.7L1794.6 476.4L1795.2 477.3L1795.9 473.2L1796.6 472.5L1797.3 475.8L1797.9 476L1798.6 476.1L1799.3 478.9L1799.9 476.5L1800.6 476.9L1801.3 475.9L1802 480.5L1802.6 481.5L1803.3 478.3L1804 474.4L1804.6 470.4L1805.3 462.7L1806 474.2L1806.7 472.3L1807.3 478.1L1808 468.1L1808.7 475.2L1809.3 474.6L1810 477.7L1810.7 472.7L1811.4 477L1812 472.5L1812.7 475.2L1813.4 478.8L1814 477.4L1814.7 478.3L1815.4 466.2L1816.1 468.9L1816.7 483.6L1817.4 476.7L1818.1 468.6L1818.7 469.3L1819.4 464.8L1820.1 467L1820.8 464.5L1821.4 469.4L1822.1 471.1L1822.8 472L1823.4 470.9L1824.1 465.3L1824.8 468.3L1825.5 472.9L1826.1 471.9L1826.8 466.6L1827.5 467L1828.1 471.7L1828.8 473.1L1829.5 470L1830.1 469.9L1830.8 467L1831.5 467.2L1832.1 467.3L1832.8 468.4L1833.5 466.6L1834.1 468.6L1834.8 463L1835.5 464L1836.1 459.7L1836.8 471.3L1837.5 467.7L1838.1 470.8L1838.8 466.5L1839.5 471.4L1840.1 461.1L1840.8 467.9L1841.5 465.3L1842.1 472L1842.8 460.1L1843.5 456.8L1844.1 462.1L1844.8 465.8L1845.4 470.1L1846.1 464.1L1846.8 464.9L1847.4 461.9L1848.1 456L1848.8 456.1L1849.4 461.2L1850.1 459.9L1850.7 462.6L1851.4 462L1852.1 454.5L1852.7 459.9L1853.4 455.1L1854 458.3L1854.7 459L1855.4 460.6L1856 457.4L1856.7 460.2L1857.3 452.8L1858 457.5L1858.7 449.4L1859.3 466.2L1860 453.8L1860.6 459.9L1861.3 454L1862 452L1862.6 456.3L1863.3 452.2L1863.9 451.2L1864.6 461.2L1865.3 467.7L1865.9 456.1L1866.6 455.8L1867.2 448L1867.9 457.8L1868.5 450.6L1869.2 454.3L1869.9 454L1870.5 462.2L1871.2 446.2L1871.8 450.6L1872.5 457.7L1873.2 451L1873.8 452L1874.5 452.2L1875.1 454.2L1875.8 451.4L1876.4 454.4L1877.1 447.5L1877.8 450.8L1878.4 452.1L1879.1 448.9L1879.7 453.2L1880.4 457.8L1881 441.5L1881.7 442.5L1882.4 446.9L1883 453.9L1883.7 449.1L1884.3 448.4L1885 457.1L1885.6 447.3L1886.3 448.4L1887 444.9L1887.6 437.8L1888.3 445.4L1888.9 448.9L1889.6 445.1L1890.3 448.5L1890.9 444L1891.6 451.2L1892.2 444.4L1892.9 450L1893.5 442L1894.2 440.9L1894.9 445.6L1895.5 451.3L1896.2 436L1896.8 444.8L1897.5 446L1898.1 444.3L1898.8 442.8L1899.5 443.5L1900.1 446.6L1900.8 445.7L1901.4 438.4L1902.1 442.6L1902.8 445.7L1903.4 450.7L1904.1 440.1L1904.7 438.9L1905.4 432.8L1906.1 438.5L1906.7 442.9L1907.4 443.5L1908 432.7L1908.7 434.6L1909.4 448L1910 442.3L1910.7 446L1911.3 433.3L1912 438.2L1912.7 436.4L1913.3 434.1L1914 442L1914.6 445.3L1915.3 441.7L1916 441.8L1916.6 437.2L1917.3 445.2L1917.9 436.7L1918.6 434.4L1919.3 439.7L1919.9 436.1L1920.6 436.6L1921.2 433.9L1921.9 431.6L1922.6 437.3L1923.2 432.2L1923.9 439.8L1924.5 441.3L1925.2 432.3L1925.9 436L1926.5 440.2L1927.2 432L1927.8 433.3L1928.5 431.8L1929.2 438.7L1929.8 440.8L1930.5 431.4L1931.1 433.6L1931.8 429.7L1932.5 429.2L1933.1 429.3L1933.8 426.9L1934.4 427.3L1935.1 424.1L1935.8 430.3L1936.4 430.5L1937.1 432.1L1937.7 426.4L1938.4 437.9L1939.1 428.8L1939.7 428.8L1940.4 428.7L1941 429.3L1941.7 439.5L1942.4 429.1L1943 433.3L1943.7 430.8L1944.3 427.7L1945 424.5L1945.7 416.1L1946.3 426.5L1947 430.7L1947.7 435.2L1948.3 423.6L1949 427.4L1949.6 425L1950.3 419L1951 416.7L1951.6 415.8L1952.3 422.8L1952.9 431.2L1953.6 427.1L1954.3 428.4L1954.9 429.5L1955.6 417.2L1956.3 422.5L1956.9 429.2L1957.6 430.8L1958.2 428.1L1958.9 426.7L1959.6 418.8L1960.2 427L1960.9 416.5L1961.5 425.3L1962.2 420.5L1962.9 415.3L1963.5 420.6L1964.2 422.3L1964.9 416L1965.5 422.7L1966.2 422.4L1966.8 417.3L1967.5 420.1L1968.2 417.1L1968.8 414L1969.5 426.9L1970.2 416.7L1970.8 424.7L1971.5 421.5L1972.1 418.9L1972.8 421.4L1973.5 418.9L1974.1 421.5L1974.8 416L1975.5 410.3L1976.1 413.7L1976.8 418.7L1977.5 417.9L1978.1 415.8L1978.8 415.5L1979.4 419.8L1980.1 414L1980.8 420.1L1981.4 415.3L1982.1 415.9L1982.8 417.3L1983.4 417.6L1984.1 406.4L1984.8 423.4L1985.4 414.6L1986.1 411.8L1986.7 412.4L1987.4 406.8L1988.1 407.5L1988.7 407.8L1989.4 416.1L1990.1 412.4L1990.7 413.6L1991.4 410.9L1992.1 407.7L1992.7 412.4L1993.4 414.5L1994 412.7L1994.7 415.3L1995.4 410.2L1996 409.6L1996.7 406.9L1997.4 406.1L1998 406.1L1998.7 416.2L1999.4 407.2L2000 411.9L2000.7 401.8L2001.3 409.7L2002 412.7L2002.7 414.5L2003.3 407L2004 404.9L2004.7 411.3L2005.3 410.7L2006 400.7L2006.7 410.2L2007.3 405L2008 407.7L2008.7 406.2L2009.3 408.1L2010 402.6L2010.7 409.2L2011.3 406.3L2012 400.5L2012.6 402.7L2013.3 406.4L2014 408.8L2014.6 405.6L2015.3 402.9L2016 400.2L2016.6 406.3L2017.3 405L2018 401.2L2018.6 401.1L2019.3 399.7L2020 403.1L2020.6 402.1L2021.3 400.9L2022 395L2022.6 403.4L2023.3 397.1L2024 402.1L2024.6 402.4L2025.3 400.1L2026 403.4L2026.6 403L2027.3 394.3L2028 398.7L2028.6 399.1L2029.3 404.2L2030 401.5L2030.6 398.8L2031.3 395.3L2032 401.8L2032.6 400.6L2033.3 394.3L2034 395.8L2034.6 400.6L2035.3 398.2L2036 394L2036.6 402.8L2037.3 396.9L2038 391.9L2038.6 395.7L2039.3 397.1L2040 398L2040.6 395.7L2041.3 400.9L2042 394.9L2042.6 395.8L2043.3 402.6L2044 391.7L2044.6 393L2045.3 390.2L2046 404.9L2046.7 392.7L2047.3 395.1L2048 390L2048.7 388.6L2049.3 390.1L2050 392.6L2050.7 393.1L2051.3 392.9L2052 393.6L2052.7 392.9L2053.3 387.6L2054 385.5L2054.7 392.9L2055.4 392.2L2056 390.9L2056.7 389.2L2057.4 389.1L2058 395.4L2058.7 386.6L2059.4 385.3L2060 393.3L2060.7 392.8L2061.4 383.6L2062.1 390.4L2062.7 383.6L2063.4 387.9L2064.1 390L2064.7 390.2L2065.4 382.8L2066.1 389.2L2066.7 381.4L2067.4 390L2068.1 385.4L2068.8 385.3L2069.4 389.8L2070.1 386.8L2070.8 385.1L2071.4 377.6L2072.1 389.7L2072.8 384.8L2073.5 387.9L2074.1 391.4L2074.8 386.7L2075.5 384.8L2076.1 380L2076.8 384.3L2077.5 383.9L2078.2 380.4L2078.8 382.3L2079.5 384.2L2080.2 387.7L2080.8 381.1L2081.5 381.6L2082.2 381.5L2082.9 385.8L2083.5 383.7L2084.2 387.1L2084.9 378.2L2085.6 381.9L2086.2 377.5L2086.9 379.1L2087.6 385.6L2088.3 376.9L2088.9 386.8L2089.6 378.2L2090.3 378.7L2091 379.9L2091.6 381.4L2092.3 379.8L2093 378L2093.7 381.4L2094.3 380L2095 381.5L2095.7 379.8L2096.4 376L2097 370.7L2097.7 380.2L2098.4 380.8L2099.1 377.1L2099.7 381L2100.4 378.7L2101.1 380.6L2101.8 378L2102.5 378.3L2103.1 376.3L2103.8 374.7L2104.5 382.3L2105.2 382L2105.8 380.5L2106.5 371.7L2107.2 373.1L2107.9 378.8L2108.6 380.6L2109.2 374.4L2109.9 372.4L2110.6 379.5L2111.3 374.3L2112 376.8L2112.7 370.9L2113.3 378.9L2114 375.6L2114.7 374.4L2115.4 375L2116.1 372.8L2116.7 375.3L2117.4 378.1L2118.1 375.5L2118.8 370L2119.5 373.5L2120.2 372.4L2120.9 371.9L2121.5 378.5L2122.2 372.2L2122.9 375.6L2123.6 375.7L2124.3 372.2L2125 377.2L2125.7 374.4L2126.3 369.4L2127 367.9L2127.7 368.9L2128.4 374.7L2129.1 374.3L2129.8 364.5L2130.5 377L2131.1 373.8L2131.8 375.1L2132.5 373.7L2133.2 374.5L2133.9 372.3L2134.6 369.9L2135.3 368.8L2136 364.6L2136.6 370.9L2137.3 372.6L2138 366.7L2138.7 370.4L2139.4 366.6L2140.1 367.6L2140.8 368.4L2141.4 370.5L2142.1 370.2L2142.8 372.3L2143.5 369.1L2144.2 372.9L2144.9 368.4L2145.6 370.5L2146.2 368.9L2146.9 368.9L2147.6 367.1L2148.3 367.1L2149 376.8L2149.7 362.7L2150.4 365.1L2151 365.9L2151.7 362L2152.4 365.1L2153.1 366.7L2153.8 368.1L2154.5 367.7L2155.1 369.5L2155.8 364.3L2156.5 369.9L2157.2 363.3L2157.9 362.3L2158.6 365.3L2159.2 369.6L2159.9 367.2L2160.6 363L2161.3 363.4L2162 364.3L2162.6 365.1L2163.3 365L2164 363.2L2164.7 363.2L2165.4 359.6L2166 368L2166.7 362L2167.4 360.7L2168.1 365.5L2168.8 363.2L2169.4 362.9L2170.1 359.5L2170.8 363.5L2171.5 360.9L2172.2 362.6L2172.8 365.4L2173.5 362.7L2174.2 363.7L2174.9 360.3L2175.6 358L2176.2 361.1L2176.9 365L2177.6 363.8L2178.3 361.1L2178.9 358.6L2179.6 355.4L2180.3 360L2181 361.7L2181.7 363L2182.3 360.9L2183 356.3L2183.7 359.9L2184.4 364.5L2185 359.6L2185.7 361.4L2186.4 354.5L2187.1 354.2L2187.8 359.4L2188.4 353.8L2189.1 358.3L2189.8 358L2190.5 347.9L2191.1 358.1L2191.8 357.1L2192.5 351.9L2193.2 357.3L2193.8 360.2L2194.5 362.3L2195.2 354.9L2195.9 359.3L2196.6 357L2197.2 356.3L2197.9 357L2198.6 360.2L2199.3 353.2L2199.9 360.5L2200.6 355.2L2201.3 361L2202 349L2202.6 353.1L2203.3 355L2204 354.5L2204.7 348.9L2205.3 350.3L2206 351.1L2206.7 349.9L2207.4 351.3L2208 353.3L2208.7 353.9L2209.4 348.4L2210.1 352.8L2210.7 351.6L2211.4 350.8L2212.1 353.2L2212.8 354.4L2213.4 352.8L2214.1 352.4L2214.8 346.8L2215.5 350.1L2216.1 353L2216.8 346.6L2217.5 358.9L2218.2 348L2218.8 350.9L2219.5 348.6L2220.2 348L2220.9 353.2L2221.5 349.7L2222.2 353.3L2222.9 343.7L2223.6 345.1L2224.2 344.3L2224.9 351.2L2225.6 349.4L2226.3 348.1L2226.9 349.8L2227.6 348L2228.3 340.2L2229 343.7L2229.6 349.1L2230.3 342.8L2231 347.4L2231.7 346.4L2232.3 345.4L2233 345.6L2233.7 344.6L2234.4 345.6L2235 343.8L2235.7 348.1L2236.4 342.6L2237.1 347.9L2237.7 337.7L2238.4 343.5L2239.1 343.8L2239.8 346.7L2240.4 341.4L2241.1 346.9L2241.8 344.7L2242.4 340.9L2243.1 341L2243.8 338.1L2244.5 345.3L2245.1 340.3L2245.8 341.4L2246.5 345.4L2247.2 341.2L2247.8 340.1L2248.5 343.5L2249.2 336.4L2249.8 337.2L2250.5 340.1L2251.2 338.9L2251.8 343.7L2252.5 342.4L2253.2 341.1L2253.9 342.7L2254.5 338.8L2255.2 338L2255.9 339.5L2256.5 337.2L2257.2 338.5L2257.9 333.6L2258.6 333.7L2259.2 332.8L2259.9 339.3L2260.6 334.2L2261.2 333.9L2261.9 342L2262.6 336.9L2263.2 332.7L2263.9 335.7L2264.6 341.1L2265.2 336.3L2265.9 336.8L2266.6 333.9L2267.3 331.8L2267.9 332.2L2268.6 330.7L2269.3 339.5L2269.9 334.6L2270.6 334.3L2271.3 335.5L2271.9 333.6L2272.6 333.1L2273.3 332.8L2274 330L2274.6 330.4L2275.3 330.7L2276 329.6L2276.6 330.1L2277.3 327.4L2278 332L2278.6 331.5L2279.3 339.1L2280 330.2L2280.6 332.3L2281.3 336.1L2282 326.9L2282.7 327.3L2283.3 336L2284 327.8L2284.7 331.6L2285.3 332.3L2286 329.4L2286.7 328L2287.4 333.2L2288 327.1L2288.7 325.8L2289.4 329L2290 322.8L2290.7 328.2L2291.4 328.5L2292.1 327.8L2292.7 328.6L2293.4 327.7L2294.1 330.1L2294.7 330.4L2295.4 328.6L2296.1 331.2L2296.8 320.5L2297.4 321.3L2298.1 326.5L2298.8 322.8L2299.5 330L2300.1 330.8L2300.8 326.5L2301.5 330.7L2302.2 322.6L2302.8 321.3L2303.5 325.8L2304.2 329.6L2304.9 324.1L2305.5 329.8L2306.2 327.1L2306.9 323.6L2307.6 318.9L2308.2 323.1L2308.9 321.5L2309.6 323.3L2310.3 325.9L2311 325.1L2311.6 320.5L2312.3 324.1L2313 330.8L2313.7 322.9L2314.4 325.8L2315 319L2315.7 328.3L2316.4 322.6L2317.1 319.9L2317.8 323.1L2318.4 321.5L2319.1 325.7L2319.8 319.6L2320.5 317.7L2321.2 322.7L2321.8 322.8L2322.5 323.3L2323.2 318.3L2323.9 320.6L2324.6 315.1L2325.2 324.7L2325.9 320L2326.6 321.6L2327.3 317.6L2328 322L2328.7 321.5L2329.3 323.9L2330 319.4L2330.7 317.3L2331.4 319.8L2332.1 320.5L2332.8 317.7L2333.4 320.3L2334.1 319L2334.8 314.4L2335.5 314.2L2336.2 312.5L2336.9 318.8L2337.6 319.9L2338.2 317.5L2338.9 317.3L2339.6 311.3L2340.3 320.1L2341 310.8L2341.7 321.7L2342.4 312.9L2343 316.5L2343.7 310.2L2344.4 314.1L2345.1 312.8L2345.8 319.3L2346.5 314.4L2347.2 314.4L2347.8 311.6L2348.5 324.5L2349.2 317.6L2349.9 313L2350.6 312.7L2351.3 310L2352 316L2352.7 317.9L2353.4 314.7L2354 318.6L2354.7 311.5L2355.4 308.7L2356.1 315.2L2356.8 315.3L2357.5 318.2L2358.2 318.3L2358.9 312L2359.6 308.1L2360.2 313.1L2360.9 320.3L2361.6 314.1L2362.3 307.8L2363 310.1L2363.7 313.9L2364.4 311.6L2365.1 308.4L2365.8 310.5L2366.5 316.2L2367.1 310.3L2367.8 308L2368.5 309L2369.2 313.4L2369.9 310.5L2370.6 312" stroke="#00f" stroke-width="1.6" fill="none" stroke-linejoin="bevel"/>
<path d="M1484 984L1484.8 977.3L1485.6 984L1486.4 978.4L1487.2 984L1488 977.7L1488.8 984L1489.6 976.6L1490.4 984L1491.2 976.8L1492 984L1492.8 976.6L1493.6 984L1494.4 972.7L1495.2 984L1496 976.6L1496.8 984L1497.6 975.9L1498.4 984L1499.2 976.7L1500 984L1500.8 976.2L1501.6 984L1502.4 976.4L1503.2 984L1504 968.6L1504.8 984L1505.6 976.6L1506.4 984L1507.2 976.7L1508 984L1508.8 976.1L1509.6 984L1510.4 976.2L1511.2 984L1512 977.5L1512.8 984L1513.6 976.4L1514.4 984L1515.2 975.9L1516 984L1516.8 975.5L1517.6 984L1518.4 973.7L1519.2 984" stroke="#0ff" stroke-width="1.3" fill="none" stroke-linejoin="bevel"/>
<path d="M1520 984L1520.8 981.6L1521.6 984L1522.4 981L1523.2 984L1524 981.1L1524.8 984L1525.6 981.5L1526.4 984L1527.2 981.6L1528 984L1528.8 980.5L1529.6 984L1530.4 980.8L1531.2 984L1532 979.7L1532.8 984L1533.6 981.1L1534.4 984L1535.2 980.9L1536 984L1536.8 980.1L1537.6 984L1538.4 981L1539.2 984L1540 980.2L1540.8 984L1541.6 981.2L1542.4 984L1543.2 981L1544 984L1544.8 980.9L1545.6 984" stroke="#0ff" stroke-width="1.3" fill="none" stroke-linejoin="bevel"/>
<path d="M1545 980.5L1547.1 978.2L1549.1 974.8L1550.7 972.1L1551.9 968.2L1552.9 965.4L1553.7 962.3L1554.4 959.4L1555 954.6L1555.7 951.5L1556.2 948L1556.9 944.3L1557.5 941.3L1558 938.1L1558.6 934.2L1559.1 930.7L1559.6 927.6L1560.1 923.1L1560.7 920.6L1561.3 916.9L1561.9 914L1562.7 910.4L1563.6 907L1564.6 903.5L1565.7 900.2L1566.8 896.8L1568 893.6L1569.2 889.4L1570.4 886.7L1571.6 884.1L1572.7 880.1L1573.9 877.1L1575 873.2L1576.2 870.4L1577.4 866.6L1578.7 863.3L1580.1 860.7L1581.5 857.5L1583.1 854.1L1584.7 850.5L1586.3 847.9L1587.9 845.7L1589.6 841.6L1591.2 838.6L1592.9 835.9L1594.7 832.5L1596.5 828.7L1598.4 827.6L1600.4 824L1602.5 821.3L1604.6 818.7L1606.7 815.2L1608.7 813.3L1610.7 809.6L1612.7 805.9L1614.6 802.9L1616.4 802L1618 797.6L1619.4 794.6L1620.8 791.4L1622.4 788.5L1624.3 788.1L1627.1 782.7L1630.7 781.6L1634.4 780.5L1637.8 776.3L1641.1 784.7L1644.4 777.1L1647.7 780.6L1651 769.9L1654.4 776L1657.7 773.4L1661 774.9L1664.4 775.9L1667.7 771.5L1671 766.6L1674.4 766.9L1677.8 769.7L1681.1 766.5L1684.5 764.4L1687.8 766.2L1691.2 764.6L1694.6 765.5L1698 761.4L1701.4 763.3L1704.8 755.3L1708.2 758L1711.6 759.6L1715.1 756.7L1718.5 758.5L1721.9 754.8L1725.4 758.5L1728.9 756.1L1732.3 757.8L1735.8 758.8L1739.3 758.3L1742.7 754L1746.2 750L1749.7 760.5L1753.1 750.7L1756.6 750.5L1760 755.4L1763.5 751L1766.9 746.8L1770.4 757.8L1773.9 751.5L1777.3 749.3L1780.8 749L1784.2 745.8L1787.7 748.9L1791.1 750.3L1794.5 744.3L1798 748.9L1801.4 750.2L1804.9 741.4L1808.3 743.6L1811.8 741.3L1815.2 735.5L1818.7 736.4L1822.1 735.8L1825.5 740.2L1829 744.1L1832.4 741.4L1835.9 738.8L1839.3 734.7L1842.7 736L1846.1 738.8L1849.6 734.7L1853 739.4L1856.4 732.4L1859.8 730.3L1863.2 733.1L1866.6 731.6L1870.1 727.7L1873.5 734.7L1876.9 731.9L1880.3 733.5L1883.7 727.4L1887.1 733.4L1890.6 723.8L1894 724.7L1897.4 721.5L1900.8 723L1904.3 723.8L1907.7 720.2L1911.2 726.5L1914.6 720.2L1918 721L1921.5 719.9L1924.9 721.1L1928.4 720.1L1931.8 722.6L1935.3 717.3L1938.7 717.8L1942.2 716.6L1945.6 714.6L1949.1 708.9L1952.5 718.9L1956 707L1959.4 712.5L1962.9 715.5L1966.3 716.1L1969.7 705.8L1973.2 709.6L1976.6 708.8L1980 712.3L1983.5 709.5L1986.9 706.9L1990.3 701.4L1993.7 711.8L1997.1 709.8L2000.6 703.3L2004 704.3L2007.4 699.9L2010.8 704.6L2014.2 703.4L2017.7 695.1L2021.1 701.4L2024.5 702.3L2028 703.9L2031.4 703.9L2034.8 694.2L2038.3 697.3L2041.8 700L2045.2 688.5L2048.7 698.6L2052.2 694.1L2055.7 701L2059.2 695.2L2062.7 696.4L2066.1 696L2069.6 696.6L2073.1 697L2076.6 693.8L2080.1 692.4L2083.6 697.6L2087.1 695.5L2090.6 691.2L2094.1 688.2L2097.6 695.2L2101.1 694.7L2104.5 691.2L2108 687.1L2111.5 692L2115 688.1L2118.4 685.2L2121.9 692.1L2125.4 688.9L2128.9 685.7L2132.3 692.5L2135.8 690.5L2139.3 685.9L2142.7 685.9L2146.2 684.5L2149.7 679.4L2153.1 688.8L2156.6 686.9L2160.1 686L2163.5 684.7L2167 688L2170.5 684.3L2174 686L2177.5 677.9L2180.9 678.7L2184.4 679.1L2187.9 681.8L2191.4 694.3L2194.9 682.7L2198.4 681.7L2201.9 686.6L2205.4 680.8L2208.9 684.1L2212.4 679.2L2215.9 676.6L2219.3 676.5L2222.8 680.6L2226.3 676.7L2229.8 680.7L2233.3 684.2L2236.8 679.6L2240.3 683.3L2243.7 677.3L2247.2 672.3L2250.7 673.1L2254.2 673L2257.6 679.2L2261.1 676.4L2264.6 674.1L2268.1 682.9L2271.5 673.2L2275 671.6L2278.5 679L2281.9 673.9L2285.4 672.2L2288.9 670.9L2292.3 668L2295.8 671.2L2299.3 670.1L2302.7 665.4L2306.2 662.8L2309.7 674.2L2313.1 673.7L2316.6 669.8L2320 664.1L2323.5 675.4L2327 666.3L2330.4 670.5L2333.9 659.3L2337.4 664.3L2340.8 670.3L2344.3 665.2L2347.7 665L2351.2 664.1L2354.7 659.9L2358.1 657.5L2361.6 657.9L2365 662.9L2368.5 662.8L2371.9 658.2L2375.4 658.1" stroke="#0ff" stroke-width="1.5" fill="none" stroke-linejoin="bevel"/>
<path d="M1445.2 603.6L1453.2 600.9L1461.2 598.3L1469.2 595.6L1477.2 592.9L1485.2 590.2L1493.2 587.5L1501.2 584.8L1509.2 582.1L1517.2 579.4L1525.2 576.7L1533.2 574L1541.2 571.3L1549.2 568.6L1557.2 565.8L1565.2 563.1L1573.2 560.3L1581.2 557.6L1589.2 554.9L1597.2 552.1L1605.2 549.4L1613.2 546.6L1621.2 543.8L1629.2 541.1L1637.2 538.3L1645.2 535.5L1653.2 532.7L1661.2 529.9L1669.2 527.1L1677.2 524.3L1685.2 521.5L1693.2 518.6L1701.2 515.8L1709.2 513L1717.2 510.2L1725.2 507.4L1733.2 504.5L1741.2 501.7L1749.2 498.9L1757.2 496L1765.2 493.2L1773.2 490.4L1781.2 487.5L1789.2 484.7L1797.2 481.8L1805.2 479L1813.2 476.2L1821.2 473.3L1829.2 470.5L1837.2 467.6L1845.2 464.8L1853.2 462L1861.2 459.1L1869.2 456.3L1877.2 453.5L1885.2 450.6L1893.2 447.8L1901.2 445L1909.2 442.2L1917.2 439.4L1925.2 436.6L1933.2 433.8L1941.2 431L1949.2 428.2L1957.2 425.4L1965.2 422.6L1973.2 419.8L1981.2 417L1989.2 414.2L1997.2 411.4L2005.2 408.6L2013.2 405.8L2021.2 403L2029.2 400.3L2037.2 397.5L2045.2 394.7L2053.2 391.9L2061.2 389.2L2069.2 386.4L2077.2 383.6L2085.2 380.8L2093.2 378.1L2101.2 375.3L2105 374" stroke="#000" stroke-width="1.15" stroke-dasharray="6 4" fill="none"/>
<path d="M1435.4 658.4L1443.4 655.1L1451.4 651.7L1459.4 648.4L1467.4 645.1L1475.4 641.9L1483.4 638.6L1491.4 635.5L1499.4 632.3L1507.4 629.2L1515.4 625.9L1523.4 622.5L1531.4 619.1L1539.4 615.6L1547.4 612.1L1555.4 608.5L1563.4 604.9L1571.4 601.3L1579.4 597.6L1587.4 593.9L1595.4 590.1L1603.4 586.3L1611.4 582.3L1619.4 578.2L1627.4 574.2L1635.4 570.4L1643.4 566.8L1651.4 563.3L1659.4 559.8L1667.4 556.4L1675.4 553.1L1683.4 549.7L1691.4 546.4L1699.4 543.1L1707.4 539.8L1715.4 536.4L1723.4 533.1L1731.4 529.8L1739.4 526.5L1747.4 523.3L1755.4 520L1763.4 516.8L1771.4 513.5L1779.4 510.3L1787.4 507L1795.4 503.8L1803.4 500.5L1811.4 497.2L1819.4 493.9L1827.4 490.6L1835.4 487.2L1843.4 483.9L1851.4 480.5L1859.4 477L1867.4 473.6L1875.4 470.2L1883.4 466.7L1891.4 463.2L1899.4 459.7L1907.4 456.2L1915.4 452.6L1923.4 449L1931.4 445.5L1939.4 441.9L1947.4 438.4L1955.4 434.8L1963.4 431.2L1971.4 427.6L1979.4 424L1987.4 420.4L1995.4 416.8L2003.4 413.2L2011.4 409.5L2019.4 405.9L2027.4 402.3L2035.4 398.6L2043.4 394.9L2051.4 391.3L2059.4 387.6L2067.4 383.9L2075.4 380.2L2083.4 376.5L2091.4 372.8L2099.4 369.1L2107.4 365.3L2115.4 361.6L2123.4 357.8L2131.4 354.1L2139.4 350.3L2147.4 346.5L2155.4 342.7L2163.4 338.9L2171.4 335.1L2179.4 331.2L2187.4 327.4L2193 324.7" stroke="#000" stroke-width="1.15" stroke-dasharray="6 4" fill="none"/>
<path d="M1435.4 750.7L1443.4 747.3L1451.4 743.9L1459.4 740.5L1467.4 737.1L1475.4 733.7L1483.4 730.3L1491.4 726.9L1499.4 723.5L1507.4 720.1L1515.4 716.7L1523.4 713.4L1531.4 710.1L1539.4 706.9L1547.4 703.8L1555.4 700.6L1563.4 697.5L1571.4 694.4L1579.4 691.2L1587.4 687.9L1595.4 684.7L1603.4 681.5L1611.4 678.2L1619.4 675L1627.4 671.8L1635.4 668.5L1643.4 665.2L1651.4 662L1659.4 658.7L1667.4 655.6L1675.4 652.5L1683.4 649.5L1691.4 646.8L1699.4 644L1707.4 641.2L1715.4 638.1L1723.4 634.8L1731.4 631.5L1739.4 628.1L1747.4 624.6L1755.4 621.1L1763.4 617.5L1771.4 613.9L1779.4 610.2L1787.4 606.6L1795.4 602.9L1803.4 599.2L1811.4 595.6L1819.4 592L1827.4 588.5L1835.4 585L1843.4 581.6L1851.4 578.2L1859.4 574.8L1867.4 571.5L1875.4 568.2L1883.4 564.9L1891.4 561.6L1899.4 558.3L1907.4 554.9L1915.4 551.5L1923.4 548.2L1931.4 544.8L1939.4 541.4L1947.4 538.1L1955.4 534.7L1963.4 531.3L1971.4 528L1979.4 524.6L1987.4 521.3L1995.4 517.9L2003.4 514.6L2011.4 511.2L2019.4 507.9L2027.4 504.5L2035.4 501.2L2043.4 497.9L2051.4 494.5L2059.4 491.2L2067.4 487.9L2075.4 484.5L2083.4 481.2L2091.4 477.9L2099.4 474.6L2107.4 471.3L2115.4 468L2123.4 464.7L2131.4 461.5L2139.4 458.2L2147.4 455L2155.4 451.7L2163.4 448.5L2171.4 445.2L2179.4 442L2187.4 438.7L2195.4 435.5L2203.4 432.2L2211.4 428.9L2219.4 425.7L2227.4 422.4L2235.4 419.1L2243.4 415.8L2251.4 412.5L2259.4 409.1L2267.4 405.8L2275.4 402.5L2283.4 399.1L2291.4 395.8L2299.4 392.4L2307.4 389.1L2315.4 385.7L2323.4 382.4L2331.4 379L2334 377.9" stroke="#000" stroke-width="1.15" stroke-dasharray="6 4" fill="none"/>
<path d="M1446.3 814.7L1454.3 813.2L1462.3 811.6L1470.3 810.1L1478.3 808.6L1486.3 807L1494.3 805.5L1502.3 803.9L1510.3 802.4L1518.3 800.8L1526.3 799.2L1534.3 797.7L1542.3 796.1L1550.3 794.5L1558.3 792.9L1566.3 791.3L1574.3 789.6L1582.3 787.9L1590.3 786.2L1598.3 784.5L1606.3 782.8L1614.3 781.1L1622.3 779.5L1630.3 777.9L1638.3 776.4L1646.3 774.9L1654.3 773.4L1662.3 772L1670.3 770.5L1678.3 769.1L1686.3 767.6L1694.3 766.2L1702.3 764.7L1710.3 763.2L1718.3 761.8L1726.3 760.3L1734.3 758.8L1742.3 757.3L1750.3 755.8L1758.3 754.3L1766.3 752.8L1774.3 751.2L1782.3 749.6L1790.3 748L1798.3 746.3L1806.3 744.6L1814.3 742.9L1822.3 741.2L1830.3 739.6L1838.3 738L1846.3 736.5L1854.3 735.1L1862.3 733.8L1870.3 732.5L1878.3 731.2L1886.3 729.8L1894.3 728.5L1902.3 727.1L1910.3 725.6L1918.3 724.1L1926.3 722.6L1934.3 721L1942.3 719.4L1950.3 717.8L1958.3 716.2L1966.3 714.5L1974.3 712.8L1982.3 711.1L1990.3 709.4L1998.3 707.6L2006.3 705.8L2014.3 704L2022.3 702.1L2030.3 700.3L2035.6 699" stroke="#000" stroke-width="1.15" stroke-dasharray="6 4" fill="none"/>
<g>
<text transform="translate(1704.2 1045) scale(0.9709 1)" font-size="61.8" text-anchor="end">20</text><text transform="translate(1969.4 1045) scale(0.9709 1)" font-size="61.8" text-anchor="end">40</text><text transform="translate(2234.6 1045) scale(0.9709 1)" font-size="61.8" text-anchor="end">60</text>
<text transform="translate(1428.7 1000.7) scale(0.9709 1)" font-size="61.8" text-anchor="end">0</text><text transform="translate(1428.7 773.3) scale(0.9709 1)" font-size="61.8" text-anchor="end">1</text><text transform="translate(1428.7 545.9) scale(0.9709 1)" font-size="61.8" text-anchor="end">2</text><text transform="translate(1428.7 318.5) scale(0.9709 1)" font-size="61.8" text-anchor="end">3</text>
</g>
<text transform="translate(1732.5 1070) scale(0.9709 1)" font-size="75.2"><tspan font-style="italic">T</tspan> (K)</text>
<text transform="translate(1348.7 942.8) rotate(-90) scale(0.9660 1)" font-size="74.8">resistivity</text>
<text transform="translate(1347.5 626.7) rotate(-90) scale(1.1500 1)" font-size="63.8" style="font-family:'Liberation Serif', 'DejaVu Serif', serif">ρ</text>
<text transform="translate(1348.7 570) rotate(-90) scale(0.9709 1)" font-size="56.1">(</text>
<text transform="translate(1348.7 550.8) rotate(-90) scale(0.9709 1)" font-size="74.8">m</text>
<text transform="translate(1348.7 492.3) rotate(-90) scale(1.0600 1)" font-size="68.6" style="font-family:'Liberation Serif', 'DejaVu Serif', serif">Ω</text>
<text transform="translate(1348.7 419.7) rotate(-90) scale(0.9709 1)" font-size="74.8">cm</text>
<text transform="translate(1348.7 324.6) rotate(-90) scale(0.9709 1)" font-size="56.1">)</text>
</g>
</svg>
</body></html>
